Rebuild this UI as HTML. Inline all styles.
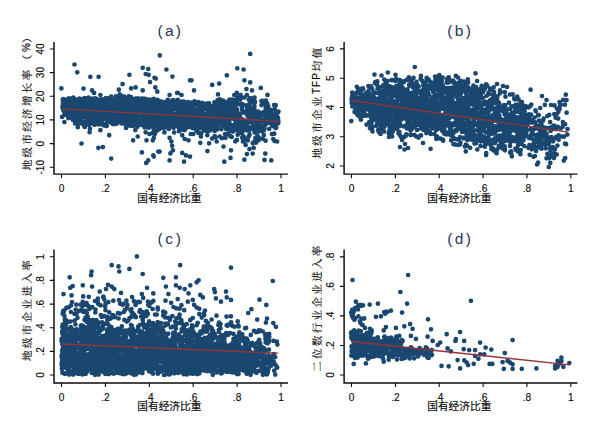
<!DOCTYPE html>
<html lang="zh"><head><meta charset="utf-8"><title>Scatter plots (a)-(d)</title>
<style>html,body{margin:0;padding:0;background:#fff}body{width:600px;height:437px;overflow:hidden}svg{display:block;font-family:"Liberation Sans",sans-serif}</style></head><body>
<svg width="600" height="437" viewBox="0 0 600 437">
<rect width="600" height="437" fill="#fff"/>
<g id="panel-a">
<path d="M74.5 64.5h.01M77.3 72.3h.01M61.4 88.4h.01M90.3 76.8h.01M98.6 76.8h.01M83.5 88.6h.01M92.1 90.4h.01M94.1 92.9h.01M100.4 95h.01M122.6 84.1h.01M118.8 89.7h.01M129.4 74.8h.01M131.1 88.4h.01M135.6 87.4h.01M142.7 90.4h.01M142.7 67.8h.01M148.2 69h.01M145.7 74h.01M148.7 74.8h.01M150 82.1h.01M155.8 78.6h.01M155.3 87.4h.01M157.3 91.7h.01M159.8 55.4h.01M166.4 69.5h.01M172.4 76.6h.01M178 93h.01M181.5 95h.01M169.6 95h.01M190 80.3h.01M154.5 77.8h.01M177.2 92.9h.01M191.5 80.3h.01M194 90.4h.01M212.2 84.9h.01M219.2 83.6h.01M218 94.4h.01M226.8 75.3h.01M237.3 68.3h.01M243.6 69.5h.01M250.2 53.9h.01M244.4 80.3h.01M250.2 82.4h.01M246.4 89.1h.01M252 90.4h.01M260.8 87.9h.01M267.5 94.9h.01M236.8 92.9h.01M240.6 95h.01M234.3 95h.01M246.9 95h.01M62.1 116.9h.01M64.4 122.1h.01M77.8 127.2h.01M81.5 143.5h.01M89.6 132.2h.01M100.4 130.2h.01M98.4 147.8h.01M102.9 147.1h.01M109.2 135.2h.01M111.2 158.6h.01M133.1 140.3h.01M137.7 136.5h.01M141.9 152.4h.01M146.5 140.3h.01M152.8 140.3h.01M149.5 134h.01M148.2 160.4h.01M146.2 162.9h.01M153.3 155.4h.01M158.3 151.6h.01M169.6 137.8h.01M171.4 141.5h.01M172.1 145.8h.01M172.9 150.3h.01M170.4 153.4h.01M169.6 160.4h.01M182.2 135.2h.01M184.7 139h.01M182.2 152.9h.01M186 155.4h.01M184 161.7h.01M188.5 140.3h.01M190 156.6h.01M153.8 137.8h.01M159.6 151.6h.01M153.8 156.6h.01M200.3 142.8h.01M209.1 143.3h.01M207.4 151.1h.01M216.7 141.5h.01M223.5 146.6h.01M231 150.3h.01M230.5 157.9h.01M224.3 161.7h.01M244.4 159.7h.01M246.9 154.1h.01M249.4 149.1h.01M253.7 147.8h.01M252.7 153.6h.01M265.3 153.6h.01M264.5 159.9h.01M271.3 160.4h.01M273.3 139h.01M277.1 141.5h.01M225.5 137.8h.01M236.8 140.3h.01M113.8 112.5h.01M76.6 105.4h.01M277.7 117.3h.01M95 111.3h.01M207.6 121.4h.01M69.1 112.1h.01M216.8 126.5h.01M264.7 104.5h.01M145.8 117.6h.01M97.7 121.4h.01M216.7 120.2h.01M76.1 101.3h.01M151.1 124.4h.01M72 113.8h.01M79 103.5h.01M194.4 126.9h.01M269.7 117.1h.01M201.6 120.4h.01M172 106h.01M187.8 120.2h.01M198 111.9h.01M222 122.9h.01M116.7 104.1h.01M130 105.3h.01M229.4 125.8h.01M110.5 101.5h.01M213.3 114h.01M157.2 110.5h.01M253.7 101.9h.01M103.7 103.8h.01M236.9 109.4h.01M125.5 105.8h.01M153.2 103.8h.01M266.3 115.8h.01M174.6 106.1h.01M189.7 102.5h.01M65.2 102.9h.01M175.9 117.5h.01M117 117.2h.01M105.1 101.8h.01M248.9 108h.01M153.8 98.9h.01M89.8 123.6h.01M81 106.4h.01M202.3 108h.01M89.2 106.9h.01M101 119.9h.01M235.6 110.7h.01M214.4 116.6h.01M178.2 112.3h.01M119.1 118.3h.01M254.2 127.1h.01M84.7 101.5h.01M72 117.6h.01M67.5 113.5h.01M243.2 130.3h.01M228.3 101.5h.01M264.5 120.7h.01M114.7 113.3h.01M147.5 110.1h.01M80.4 108.2h.01M97.1 115.6h.01M167 103.7h.01M224.2 115h.01M102.6 114.8h.01M112.6 103.6h.01M151.7 108h.01M67.4 100.3h.01M132 123.8h.01M191.9 125.4h.01M166.5 110.2h.01M208.4 111.4h.01M118.3 120.4h.01M117.5 107.3h.01M81 106.9h.01M187.9 111.1h.01M167.5 126h.01M180.1 120.2h.01M229.4 123h.01M178.3 110.8h.01M209.1 122.2h.01M101.1 102.8h.01M93 114.1h.01M202.4 107.7h.01M217.2 124.1h.01M119.9 95.2h.01M115.8 104.8h.01M179.5 124.6h.01M120.9 117.4h.01M102.4 119.2h.01M224.3 113.1h.01M176.5 106.7h.01M68.9 115.8h.01M127.1 112.9h.01M62.9 104.9h.01M162 101.8h.01M91.7 99.2h.01M112.9 122.5h.01M263.8 127.4h.01M86 102.7h.01M169.9 111.1h.01M128.3 107.4h.01M191.4 107.5h.01M93.4 103.4h.01M149.7 102.7h.01M168.4 112.2h.01M214.5 115.2h.01M271.1 117.9h.01M197 103.1h.01M121.9 121.1h.01M116.4 113.9h.01M82.7 112.1h.01M69 98.6h.01M193.6 110.1h.01M87.2 115.4h.01M100.2 120h.01M166.3 119.2h.01M216 106.3h.01M67.4 110.3h.01M113.7 119.9h.01M159.7 110.5h.01M78 100.5h.01M86.2 104.2h.01M95.4 98.3h.01M271.5 116.4h.01M193.1 106.8h.01M79.5 99.8h.01M105.5 110.6h.01M241.7 127.8h.01M137.2 101h.01M190.9 117h.01M219.8 116.3h.01M181.9 119.3h.01M108.7 105.7h.01M80.6 121.5h.01M264.4 126.6h.01M174.7 121h.01M155.9 123.6h.01M84.7 99.7h.01M143 113.4h.01M179.6 108.4h.01M254.1 107.3h.01M64.6 107.2h.01M73.3 109.3h.01M232.2 104.2h.01M155.9 116.9h.01M129.8 109h.01M71.9 113h.01M237.2 127.5h.01M172.4 107.6h.01M66.1 112.9h.01M206.3 121.1h.01M174.5 119.6h.01M180.7 113.7h.01M160.2 109.7h.01M69 107.1h.01M215.8 122.6h.01M173.7 117.8h.01M261.5 131.2h.01M121 104.3h.01M123.4 123.4h.01M112.1 111h.01M270.2 118.2h.01M180.5 128.6h.01M258.2 126.4h.01M93.1 103.4h.01M90.8 107.1h.01M79 123.7h.01M115.6 109.4h.01M130.1 117.6h.01M185.4 114h.01M101.2 104.2h.01M106.1 109.6h.01M87.2 118.6h.01M210.6 105.9h.01M157.8 110.5h.01M143.2 117.7h.01M120.7 116.3h.01M201.9 116.6h.01M177.3 115.1h.01M196 126.7h.01M75.2 120.8h.01M108.8 107.9h.01M216.2 117.5h.01M142.9 116.1h.01M109.9 99.8h.01M131.7 112.1h.01M177.9 123.5h.01M157.8 126.8h.01M165.2 105.7h.01M191.9 111.7h.01M242.4 112.6h.01M155.9 112.9h.01M274.1 116.9h.01M276.8 118h.01M255.8 114.6h.01M253.6 100.9h.01M68.1 108.9h.01M112.6 110.8h.01M274.7 109.2h.01M256.9 123.4h.01M228.6 125.4h.01M75.3 102.7h.01M109.1 99.9h.01M148.3 100.2h.01M145.5 100.7h.01M146.5 107.4h.01M136 110.6h.01M115.5 114.2h.01M100.4 112.8h.01M198.2 125.1h.01M168.4 123.8h.01M110.4 105.8h.01M166.9 109.8h.01M188.5 126.7h.01M179 114.5h.01M240.5 128.3h.01M127.9 111.5h.01M221.3 119.1h.01M213.2 106.9h.01M131.5 108h.01M150.7 100.8h.01M106 99.7h.01M262 114.1h.01M122.1 98h.01M165.5 125h.01M185.9 107.6h.01M233.4 100.2h.01M227.2 108.9h.01M142.9 114.3h.01M154.9 116.6h.01M146.3 119.5h.01M226.3 129.2h.01M142.9 122.4h.01M106.2 119.2h.01M222.1 123.1h.01M97.2 122.5h.01M63.9 104.9h.01M277.3 123.7h.01M123.3 96.3h.01M133.3 119.2h.01M236.5 108.9h.01M160.2 107.1h.01M83.1 112.3h.01M125.1 105.7h.01M185.4 119.5h.01M221.4 109.6h.01M197.2 131.2h.01M141.6 114.2h.01M115.9 96.4h.01M63.4 110.3h.01M208.4 112.5h.01M91.1 123.1h.01M228.6 100.6h.01M173.2 101.6h.01M262.6 120.3h.01M163 108.7h.01M118.2 105.1h.01M223.2 106.8h.01M75 113.1h.01M101.7 112.5h.01M253.5 114.7h.01M220.9 123.9h.01M109.9 113.7h.01M219.7 116.4h.01M171.2 110.7h.01M217 129.4h.01M216.5 125.9h.01M88.8 104.1h.01M153.7 129.5h.01M66.4 104.8h.01M123.3 103.2h.01M265.1 112.3h.01M109.1 107.2h.01M126.8 116.4h.01M77.7 102.5h.01M74.6 105.1h.01M105.7 116h.01M256.6 124.4h.01M116.7 96.6h.01M136.7 101.8h.01M179.8 108.7h.01M230.8 115.7h.01M99.2 108.9h.01M245.4 111.5h.01M180.2 113.3h.01M217.1 105.3h.01M100.2 101.1h.01M243.8 137.4h.01M144.3 113.5h.01M79.8 101.3h.01M123.1 101.3h.01M70.5 101.5h.01M223.2 123.1h.01M103.9 103.4h.01M90.1 111.3h.01M91.9 119.7h.01M113.1 109.1h.01M174.9 108.9h.01M190.9 113.7h.01M84.1 107.3h.01M202.9 120.4h.01M169.5 122.3h.01M232.2 99.6h.01M158.2 108h.01M183.8 106.3h.01M238.2 114.1h.01M72 104.4h.01M188.8 116.1h.01M76.3 110.8h.01M63.9 100.1h.01M188 120.6h.01M224.8 104.8h.01M116.3 111.6h.01M263.8 135.2h.01M128.5 118.8h.01M223.3 126.3h.01M245.1 112h.01M139.5 122.6h.01M139.2 124.4h.01M202.6 119.5h.01M98.1 123.7h.01M147.2 105.9h.01M186.6 110.2h.01M205.6 116.1h.01M174.1 126.5h.01M122.6 119.4h.01M108.6 106.6h.01M159.4 129h.01M185.9 118.5h.01M69.2 109.2h.01M196.3 109.6h.01M236.4 111.2h.01M97.3 118.1h.01M239.6 116.7h.01M153.6 109.8h.01M139.2 101h.01M77.8 101.6h.01M248.1 128.5h.01M187.7 113h.01M105.8 102.5h.01M160.9 106.8h.01M152.1 122h.01M127.9 108.9h.01M138.2 103.1h.01M201.7 104.4h.01M196.9 103.9h.01M197.9 124.9h.01M182.9 103.5h.01M162 117.5h.01M255.4 138h.01M89.5 117.8h.01M192.6 113.9h.01M81.6 122.2h.01M239.4 115.2h.01M125.5 120.3h.01M75.8 100.4h.01M68.3 118.1h.01M247 112.4h.01M96.1 117.8h.01M187.6 105.3h.01M270.3 118.5h.01M210 121.1h.01M205.1 126.8h.01M214.4 102.4h.01M273.3 122h.01M157.2 115.5h.01M128 116.4h.01M79.7 105.7h.01M83.3 117h.01M97.5 112h.01M126.9 104.3h.01M78.3 99.6h.01M174.8 126.2h.01M95.7 110h.01M100.8 108.6h.01M138.6 120.5h.01M197.7 121.3h.01M168.5 118.9h.01M70.2 99.6h.01M188 102.2h.01M127.8 101.3h.01M95.4 100.3h.01M248.1 115.6h.01M151.7 114.7h.01M115.1 105.2h.01M240.1 99.7h.01M158.1 107h.01M90.6 111h.01M116.8 100.4h.01M242.2 137.8h.01M136.7 119.5h.01M246.6 130.3h.01M72.7 105h.01M215.2 120.6h.01M85.3 115.3h.01M94.6 105.4h.01M128.2 109h.01M94.5 112.2h.01M129.5 99.1h.01M247.1 139.1h.01M92 120.7h.01M124.1 96.5h.01M81.5 113.3h.01M160.3 121.3h.01M114.3 103.4h.01M117.6 101.7h.01M89.8 109.2h.01M171.6 105.9h.01M224.4 115.5h.01M210.4 117.9h.01M157.5 117.8h.01M227.1 128.6h.01M80.6 109.4h.01M265.7 108.3h.01M143 113.8h.01M205.4 120.8h.01M160.6 115.1h.01M102.1 108.8h.01M123.9 105.2h.01M109.2 98.1h.01M128.9 101.7h.01M137 124.6h.01M200 122.3h.01M248.2 105.1h.01M189.9 126.9h.01M178.1 123.3h.01M162.7 124h.01M157.5 113.4h.01M163.1 122.7h.01M81 111.7h.01M217.6 100.2h.01M129.4 117h.01M192.6 124.8h.01M225.9 106.1h.01M231.2 117.3h.01M89.4 104.5h.01M82 118.3h.01M155.2 100.7h.01M189.9 104.1h.01M174 100.5h.01M79 114.4h.01M62.9 107.1h.01M223.6 108.1h.01M161 117h.01M190.5 124.3h.01M250.4 98h.01M226.1 117.1h.01M87.4 100.7h.01M246.3 105.7h.01M262.9 127.1h.01M143.6 104.6h.01M219 101.5h.01M107.4 113h.01M137.8 112.9h.01M149.8 124.6h.01M169.6 101.8h.01M236.5 127.7h.01M64.4 105.4h.01M201.1 117.7h.01M260.6 118.1h.01M81.9 116.8h.01M215.4 103.9h.01M235 128.2h.01M249.6 108.3h.01M135.1 116.3h.01M164.1 105.7h.01M178.5 118.6h.01M145.8 103.7h.01M140.7 108.5h.01M121.8 123.4h.01M73.5 117.8h.01M90.2 102.4h.01M119.8 101.2h.01M198.3 120.8h.01M123.8 112.9h.01M259.8 117.3h.01M160.7 122.7h.01M271.9 134.1h.01M81.8 112h.01M83.7 115h.01M185.2 110.3h.01M238.6 118.6h.01M128 119.5h.01M63.1 100.5h.01M91 100.3h.01M189.3 126.6h.01M226.9 119.7h.01M222.3 121.6h.01M162.4 115.6h.01M192.8 105.1h.01M159.9 128.3h.01M111.8 102.7h.01M124.7 116.8h.01M263.9 127.1h.01M148.7 121.1h.01M87.1 100.3h.01M103.4 106.6h.01M189.2 105.9h.01M142.9 119.1h.01M99.7 116.1h.01M256.3 127.5h.01M136.1 118.4h.01M128.1 113h.01M228.4 133.9h.01M270.8 111.8h.01M259.2 128.9h.01M229.7 113.9h.01M130.8 118.4h.01M153.3 122.4h.01M100.8 121.5h.01M200 111.4h.01M178.6 102.5h.01M218.5 125.2h.01M257.3 118.5h.01M118.2 102.3h.01M118.4 115h.01M116.4 118.1h.01M95 100.1h.01M233.6 105.2h.01M206.9 113.9h.01M157.3 109.7h.01M123.7 111.2h.01M218.3 122h.01M264.5 128.2h.01M84.1 108.8h.01M67.6 104.5h.01M253.5 101.3h.01M205.1 108.5h.01M261.5 105.1h.01M113.5 106.5h.01M209.7 123.9h.01M185 126.5h.01M151.5 122.6h.01M119.8 94.3h.01M143.3 98.7h.01M104.6 124.7h.01M101.3 112.9h.01M207 130.5h.01M113.1 114.9h.01M118 115.7h.01M114.5 99.6h.01M200.1 108.3h.01M107.7 112.8h.01M142.2 121.1h.01M249.8 127.8h.01M153.5 117.5h.01M240.7 130.9h.01M63.9 99.7h.01M228.7 127.2h.01M141.4 122.9h.01M231 110.3h.01M104.6 104.8h.01M119.3 121.5h.01M180.2 110.8h.01M68.4 101.6h.01M104 117h.01M80.2 99.7h.01M120.7 106.6h.01M216 128.6h.01M171.8 112.5h.01M185.1 114.9h.01M84.7 111.5h.01M142.3 106.6h.01M141.6 98.7h.01M183.6 102.8h.01M64.9 114.7h.01M114.7 99.9h.01M173.4 118.3h.01M112.2 116.3h.01M162.7 112.6h.01M192.6 117.2h.01M74.9 118.9h.01M102.1 123.3h.01M116.8 105.3h.01M66.4 102.5h.01M71.2 113.2h.01M156.4 102.5h.01M260.7 120.7h.01M154.6 112.8h.01M94.8 124.2h.01M79.3 112.6h.01M85.8 122h.01M211.6 113.2h.01M153.3 114.3h.01M115.8 116h.01M108.3 115.7h.01M71.6 104.5h.01M187.9 120.5h.01M78.6 107.6h.01M244.8 128.4h.01M237.3 104.2h.01M78.3 112.2h.01M128.4 108.9h.01M180.3 105.3h.01M82.8 107.6h.01M136.3 107.7h.01M222 110.5h.01M190.4 124.6h.01M125.2 99.2h.01M163.7 103.6h.01M218.1 127.7h.01M79.6 107.9h.01M179.3 105.9h.01M201.2 119.7h.01M134.1 99.5h.01M195 111.7h.01M185.3 115.5h.01M180.7 114.7h.01M229.1 126.8h.01M138.2 105.8h.01M116.2 104.2h.01M130.1 106h.01M261.4 101h.01M211.3 113.3h.01M142.6 111.3h.01M111 100.6h.01M202.1 127.5h.01M88.1 107.9h.01M123.1 99.1h.01M212.9 111.6h.01M194.2 126.6h.01M124.2 96.9h.01M130 116.7h.01M78.3 119h.01M114.2 105.5h.01M133.7 114.4h.01M96.5 106.6h.01M245.4 112.1h.01M125.2 111.7h.01M192.7 107.5h.01M174.7 101.5h.01M134.2 112.7h.01M135.5 104.5h.01M113.9 109.2h.01M112.8 100.8h.01M111.7 122.3h.01M176.9 114.8h.01M79.4 98.5h.01M119 119.3h.01M81.3 105.9h.01M164.5 125.1h.01M247.4 115.7h.01M165.6 111.4h.01M245.1 125.5h.01M64.6 106.7h.01M132.5 120.7h.01M166.9 124.1h.01M156.8 115.1h.01M152.5 103.5h.01M99 104.6h.01M82.3 99.3h.01M111.2 109.9h.01M272.1 125.7h.01M213.2 107h.01M129.7 122.2h.01M255.7 119.9h.01M79.6 102.8h.01M167 104.8h.01M131.9 117.9h.01M248.3 110.3h.01M202 127.2h.01M232.7 117.1h.01M264.7 123.3h.01M234.9 107.6h.01M257.1 114.5h.01M119.7 113.9h.01M111.2 96.7h.01M274.5 105.7h.01M65.3 100.9h.01M197.6 124.7h.01M198.4 102.2h.01M249.3 105.3h.01M154.2 116.3h.01M140 110.3h.01M229 120.6h.01M219.1 108.8h.01M249.6 127.7h.01M140.4 110.9h.01M83 106.9h.01M177.9 118.5h.01M170.8 125.9h.01M170 124.3h.01M68 113.1h.01M71.9 117.4h.01M262.6 100.8h.01M136.8 118.7h.01M144.4 106.9h.01M81.7 111.5h.01M229.3 128h.01M254.5 97.5h.01M225.3 126.3h.01M241.6 118.9h.01M111.9 110.3h.01M231.2 109.4h.01M216.4 115.6h.01M253.2 101.1h.01M178.8 124.9h.01M149.1 109.5h.01M141.9 105.9h.01M155.4 108.2h.01M217.4 118.6h.01M214 119.9h.01M267.9 114.2h.01M152.9 99.3h.01M256.4 120.4h.01M260.2 125.3h.01M62.6 108.1h.01M225 134.1h.01M172 109.2h.01M165.6 124.8h.01M232.3 115.4h.01M177.8 122.5h.01M254 119.8h.01M98.1 107h.01M128.1 122.6h.01M79.8 115.3h.01M216.8 110.6h.01M71.6 111.8h.01M194.5 101.3h.01M256.9 137.1h.01M82.9 111.4h.01M155.9 101.2h.01M82.4 118h.01M199.4 115.4h.01M170.9 109.9h.01M107.4 112.6h.01M110.9 102.5h.01M153.9 122.5h.01M117.5 107.8h.01M121.3 97.6h.01M195.3 126.2h.01M225.4 105.7h.01M117.6 111.2h.01M114.8 118.4h.01M189.3 110.6h.01M143 105.3h.01M158.6 108.8h.01M192.8 116.7h.01M132 117.5h.01M168 99.9h.01M275.7 112.2h.01M115.6 104.9h.01M106.9 99.7h.01M82.4 112h.01M68.2 102.2h.01M250 117.1h.01M94.7 99.1h.01M137.4 126.7h.01M170 104.2h.01M103.8 114.7h.01M239.2 124.2h.01M276.2 127.8h.01M138.1 124.6h.01M244.5 112h.01M153.4 115h.01M85.3 116.6h.01M219.3 109.9h.01M96.3 113.4h.01M220.5 123.9h.01M83.6 99.4h.01M265.9 100.7h.01M73.1 114.9h.01M218.6 101.3h.01M146.1 105.8h.01M267.4 118.3h.01M141.7 121.6h.01M88.2 111h.01M162.7 107.8h.01M237.2 119.1h.01M273.9 126.5h.01M188.5 109.8h.01M157.5 107.4h.01M211.5 114.8h.01M140.6 107.8h.01M111.8 119.5h.01M89.1 98.5h.01M155.2 121.1h.01M193 110.9h.01M153.9 104.5h.01M267.4 119.8h.01M157.8 120.9h.01M194.8 128.4h.01M98.3 103.8h.01M98.3 124.3h.01M65.2 110.5h.01M65.3 99.8h.01M119.2 117.7h.01M178.9 128h.01M252.7 126.8h.01M228.7 126.3h.01M74.9 115.8h.01M104.4 105.6h.01M188.9 110.9h.01M153.7 110.3h.01M169.1 107.5h.01M97.6 104.4h.01M254.9 102.3h.01M214.7 116.7h.01M213.1 110.5h.01M197.9 110.9h.01M240.3 129.4h.01M146.6 101.6h.01M84.4 98h.01M149.6 120h.01M138.7 123.6h.01M140.1 123.6h.01M170.3 110.9h.01M210.4 125.3h.01M123.4 106.5h.01M125.8 113.8h.01M75.3 107.8h.01M121.1 119.7h.01M240.7 131.7h.01M262.5 120.7h.01M163.6 116h.01M74.7 120h.01M254.5 109.6h.01M224.9 106.8h.01M256.8 120.5h.01M147.6 99.9h.01M81.5 120.4h.01M270.5 121.7h.01M83.3 121.9h.01M123.5 111.8h.01M76.4 118.7h.01M227.2 119.8h.01M161 107.3h.01M64 103.3h.01M133 121.6h.01M72.1 111.1h.01M126.6 103.6h.01M75 108.1h.01M112.3 123.3h.01M211.6 129.5h.01M232 101h.01M226.4 125.6h.01M127.8 120.2h.01M182.5 102.3h.01M195.6 116h.01M267.8 118.6h.01M120.1 110.9h.01M234.5 102.5h.01M86.9 108h.01M235.7 114.2h.01M203.8 125.7h.01M126.3 122.2h.01M71.8 102.6h.01M187.6 116.3h.01M122 116.1h.01M111.5 109h.01M256.8 126.5h.01M224.6 110.6h.01M265.1 114.3h.01M73.9 120.2h.01M197.1 126.1h.01M121.3 118.6h.01M81.6 119.2h.01M206 106.7h.01M128.8 96.4h.01M238.4 126.1h.01M168.9 119.6h.01M78.7 113.7h.01M161.5 103.8h.01M107.3 118.6h.01M207.1 114.9h.01M74.6 108h.01M152.9 126.2h.01M123.8 120.5h.01M144.3 104.4h.01M164.2 103.5h.01M163.7 110.4h.01M232.3 102.2h.01M219.6 106.5h.01M133.9 104.4h.01M213.7 124.6h.01M218 122h.01M164.3 104.4h.01M214.8 113.3h.01M163.6 102.3h.01M211.6 118.9h.01M150.7 112.6h.01M187.6 113h.01M88.3 102.1h.01M139.5 106.9h.01M161.5 115.3h.01M199.3 105.7h.01M93.6 122.1h.01M167.8 103.1h.01M123.4 100.4h.01M195.9 120.8h.01M170.9 110.1h.01M187.9 107.3h.01M248.9 99.7h.01M209.6 116h.01M143.9 100.5h.01M100.7 102.7h.01M69.3 109.4h.01M232 125.3h.01M97.9 116.3h.01M111.7 102.8h.01M259.6 122.2h.01M181.5 109.3h.01M230.8 105.2h.01M241.8 128.5h.01M91.9 106.2h.01M178.6 105.2h.01M235.6 114.2h.01M121 116.6h.01M147.9 100.3h.01M113.5 105.6h.01M68.4 98.7h.01M89.3 112.7h.01M278.2 112.2h.01M252.1 123h.01M88.2 98.9h.01M114 124.2h.01M185.3 109.2h.01M263.5 126h.01M233.7 100h.01M186.1 124h.01M116.6 116.5h.01M92.5 98.7h.01M86.5 107.4h.01M74.5 119.7h.01M137.4 106h.01M91.3 102.2h.01M124.6 115.8h.01M161.7 101.6h.01M243.8 125.7h.01M132.8 113.6h.01M182.3 101.7h.01M155.2 123.5h.01M69.4 103.2h.01M235.4 119.2h.01M167 110.6h.01M70.9 98.5h.01M211.2 119.7h.01M166.1 110h.01M117.6 118.7h.01M123.5 110.4h.01M120.2 110h.01M239.9 116.6h.01M76.4 111.7h.01M157.4 130.4h.01M143 105.6h.01M195.1 103.3h.01M146.8 115.4h.01M123 120.6h.01M200.2 128.2h.01M65.9 101.2h.01M67.2 115h.01M155.2 119.8h.01M102.8 104.8h.01M123 122.6h.01M128.9 102.7h.01M164.4 104.5h.01M133.6 120.6h.01M202.3 126.4h.01M63.2 99.2h.01M213.1 114.7h.01M137 110.8h.01M157.8 121.2h.01M166.3 120h.01M167.8 109.7h.01M167.2 119.3h.01M206.5 122.1h.01M258.7 137.5h.01M153.8 113.9h.01M185.8 127.7h.01M108.7 120.5h.01M73.8 101.2h.01M79.6 108.6h.01M167.3 106.3h.01M66.8 101.2h.01M142.2 112h.01M181.4 127.4h.01M159.4 111.6h.01M85.3 101.2h.01M208.7 124.3h.01M194.8 127.7h.01M236.7 115.1h.01M197.2 118.2h.01M97.4 120h.01M182.6 118.2h.01M250.7 114.1h.01M69.2 108.3h.01M116.6 113.6h.01M144.7 110.4h.01M66.2 105.7h.01M178.3 101.2h.01M187.2 123.9h.01M69.1 105.4h.01M98.1 110.5h.01M235.6 113.7h.01M65.8 104.9h.01M102.4 104h.01M173.8 104.4h.01M239 132.3h.01M182.3 125.9h.01M93.5 109.3h.01M163.3 116.4h.01M150 110.9h.01M200.1 108.4h.01M237 128.7h.01M154.5 114.3h.01M63.5 109.1h.01M206.7 128.7h.01M194.6 113.5h.01M134.1 119.4h.01M201 121.6h.01M146.4 108.5h.01M155 131.2h.01M146.5 100.3h.01M136.5 107.4h.01M198 124.5h.01M264.7 102.4h.01M66.4 110.4h.01M258.1 118.1h.01M171.6 103.3h.01M141.9 115.4h.01M254.3 106.3h.01M214.7 131h.01M124.8 101.7h.01M110.1 112.7h.01M76.1 116.5h.01M189.3 107.3h.01M65.4 104.9h.01M230.9 118.5h.01M159.4 121.3h.01M219.9 99.4h.01M145.6 100.1h.01M83.7 123.4h.01M180.5 112.8h.01M253 115.6h.01M153.8 125.5h.01M197.4 123.2h.01M170.2 113h.01M194.7 127.1h.01M198.3 109h.01M106.5 100h.01M154.2 110.6h.01M189.1 112.3h.01M198.6 120.4h.01M111.9 118.6h.01M205.8 119.1h.01M170.1 105.9h.01M251.7 110.7h.01M125.4 108.3h.01M192.2 126.8h.01M184.6 116.9h.01M199.3 103.3h.01M226.5 107.3h.01M182.5 119.9h.01M202.1 106.7h.01M233.4 100.8h.01M131 112.3h.01M184.2 123.6h.01M169.3 116.8h.01M128.4 107.3h.01M121.3 100.6h.01M217.3 128.2h.01M101.5 115.3h.01M89.6 105.1h.01M228.6 107.5h.01M92.1 114.5h.01M89.5 107.1h.01M216.8 127.6h.01M107.4 113.5h.01M152.3 101.8h.01M264.9 121.5h.01M274 123.5h.01M232.9 131.6h.01M120.2 112.9h.01M80.4 99.6h.01M94.1 110.1h.01M76.6 121.8h.01M97.3 101.8h.01M130.3 111h.01M165.6 115.7h.01M151.6 111.2h.01M203.8 128.7h.01M120.2 120.6h.01M78.6 118.7h.01M153.3 104.4h.01M146.2 114.3h.01M81 122.6h.01M191.6 125.6h.01M243.2 123.2h.01M164.2 114.4h.01M62.5 106.7h.01M86.7 117.5h.01M73.3 102.7h.01M105.9 104.7h.01M89.1 119.7h.01M127.4 107.6h.01M164.7 115.1h.01M100.2 100.2h.01M198.2 111.1h.01M201.6 103.3h.01M77.2 111.8h.01M248 114.9h.01M109.1 114.2h.01M271.1 110.6h.01M157.1 104.2h.01M80.5 121.1h.01M259.5 116.4h.01M64.6 113.4h.01M245.4 122.1h.01M189.7 106.5h.01M153.2 107.5h.01M223.1 115.5h.01M129.4 100.5h.01M108.7 100.9h.01M237.7 121.5h.01M253.1 126.7h.01M176.2 123.5h.01M140.9 103.5h.01M107.6 103.2h.01M207 115.5h.01M269.2 109.6h.01M81.2 103.7h.01M142.9 99.2h.01M160.3 116.3h.01M218.4 125.2h.01M187.8 107h.01M137.8 101.1h.01M150.8 99.6h.01M66.5 108.1h.01M73.3 102h.01M118.1 119.1h.01M272.8 117.2h.01M81.1 106h.01M73.3 97.7h.01M137.7 115.7h.01M71.1 116.4h.01M227.8 105.3h.01M114.7 119.7h.01M203.4 118.7h.01M213.4 115.6h.01M182.1 110.9h.01M71.2 105.8h.01M238.8 97.8h.01M235 124.4h.01M119.5 108.4h.01M210.1 118.5h.01M190.9 123.7h.01M156 117.5h.01M208.5 108.9h.01M161.8 125.2h.01M111.2 102.3h.01M69.1 116.6h.01M269.2 129h.01M137.4 108.9h.01M161 103.1h.01M229.3 121.5h.01M92.5 107.5h.01M110.6 103.3h.01M172.7 104.3h.01M155.3 117.9h.01M228.6 121.5h.01M208.1 125.9h.01M154.9 125.5h.01M192.6 106.8h.01M68.3 105.4h.01M76.8 99.8h.01M123.8 118.7h.01M184.5 109.9h.01M128.2 111.7h.01M193.7 112.8h.01M73.2 102.5h.01M206.9 130.9h.01M177.7 113.6h.01M66.5 107.2h.01M174.1 100.6h.01M221 100.8h.01M131.3 103.7h.01M201.4 109h.01M113.3 104.9h.01M143.6 100.5h.01M110.3 112.8h.01M211.3 128.7h.01M243.7 136.5h.01M171.8 125.4h.01M75.8 99.8h.01M184.8 130.1h.01M173.7 114.3h.01M243 126h.01M226.4 116.1h.01M152.2 105.3h.01M142.1 113.2h.01M184.1 109.5h.01M128 99.8h.01M158.5 119.6h.01M149.7 119.3h.01M205.2 122.6h.01M74.9 121h.01M206.5 106.8h.01M154.1 122.8h.01M208.6 130.9h.01M63.6 106.1h.01M125.2 101.3h.01M128.4 102.4h.01M81.7 114.2h.01M214.2 105.3h.01M72.7 102.5h.01M70.3 108.6h.01M121.8 121.4h.01M141.7 99.9h.01M130 103.5h.01M215.5 128.8h.01M83.6 105.5h.01M212.8 120.5h.01M159.4 113.7h.01M77.5 100.2h.01M183 129.7h.01M112.1 111.6h.01M203 116.1h.01M152.2 100.5h.01M67.2 112.2h.01M228.8 100.8h.01M174.3 107.1h.01M171.1 112.7h.01M80.8 109h.01M64.6 106.2h.01M201.2 108.8h.01M214.6 129.2h.01M64.6 112.7h.01M125.5 99.6h.01M92.6 114h.01M126 118.4h.01M167.7 122.8h.01M202.6 112.6h.01M211.3 113.3h.01M73.5 103.1h.01M135.7 101.6h.01M94.6 99.5h.01M157.6 120.4h.01M89.6 115.1h.01M170.4 123.4h.01M275.5 128h.01M278.2 122.9h.01M182.4 113h.01M237.9 127.6h.01M206.2 105.1h.01M108.5 121h.01M209.6 120.4h.01M236.8 102.2h.01M145.4 108.4h.01M91.5 107.4h.01M167.7 117.1h.01M91.1 116.6h.01M237.7 126.9h.01M191.7 121.9h.01M225.4 110.6h.01M146 100h.01M159 101h.01M217.7 126.9h.01M128.8 114.3h.01M149.7 118.7h.01M220.6 106.6h.01M113.5 109.5h.01M148.1 118.8h.01M192.2 110.5h.01M258.4 117.7h.01M145.3 111.5h.01M105.2 104.2h.01M112.6 111.6h.01M255.2 119.8h.01M140.9 105.1h.01M144.5 116.3h.01M137.1 121.9h.01M214.8 124.7h.01M99.5 120.1h.01M267.1 115.6h.01M186.3 115.5h.01M142.4 104.6h.01M257.5 120.7h.01M207.8 127.8h.01M106.5 116.7h.01M142.5 110.7h.01M208.3 106.9h.01M207.3 103.5h.01M227.7 113.4h.01M139.7 113.3h.01M173.7 108.8h.01M125.1 119h.01M96.6 99.1h.01M166.9 123.5h.01M106.6 109.3h.01M247.1 122.8h.01M255.2 125.7h.01M145.1 106.3h.01M70.8 103.7h.01M103.7 125.3h.01M139.9 101h.01M244.7 122.6h.01M118 101.3h.01M247.1 138.6h.01M206.5 108.5h.01M106.2 123.3h.01M120.7 108.1h.01M119.4 116.9h.01M190.2 118.2h.01M137.9 98.3h.01M229.1 108.4h.01M192.6 128.1h.01M237.7 134.7h.01M242.4 124.9h.01M198.1 106.6h.01M207 113.7h.01M183.9 101.5h.01M109.8 106.5h.01M204.4 123h.01M141.1 124.6h.01M146.9 99.3h.01M98.6 110.5h.01M200.3 126.2h.01M183.6 104.8h.01M272 116.6h.01M154.3 124.3h.01M273.7 122.3h.01M101.4 120h.01M209.2 104.5h.01M72.7 119.8h.01M129.6 113.8h.01M202.1 107h.01M75.9 119.6h.01M215.9 123.6h.01M192.9 110.4h.01M150.6 120.8h.01M106.8 125.8h.01M116.9 111h.01M103.2 102.5h.01M269.2 119.8h.01M171.3 121.1h.01M102.4 118.1h.01M275.7 105.2h.01M75.1 105.9h.01M86.7 100.8h.01M151.3 113.6h.01M250.4 102.3h.01M83.4 107.2h.01M201.3 122.9h.01M66.3 105h.01M180.2 124.2h.01M66.6 108.2h.01M185.7 109.7h.01M220 101.1h.01M268.4 117.7h.01M176.8 113.4h.01M181.4 120.8h.01M93.1 110.5h.01M255.5 127.4h.01M116.7 101.9h.01M272.8 123.2h.01M192.9 117.7h.01M199.2 127.4h.01M204.8 123.7h.01M100.5 115.7h.01M225.1 104.5h.01M123.9 118.5h.01M183.8 106.9h.01M229.5 130.1h.01M76.7 106.9h.01M274 120.3h.01M65.9 105.6h.01M133.2 111.6h.01M65.7 101.9h.01M203.8 123.1h.01M144.5 109.5h.01M175 121.1h.01M133.4 111.3h.01M161.3 110.2h.01M144 116.8h.01M174.2 109.2h.01M193.3 113.9h.01M277.8 119.8h.01M257.4 135.8h.01M73.4 114.8h.01M162.8 102.9h.01M135.9 100.3h.01M77.8 117.7h.01M89.1 103.7h.01M154.6 125h.01M244.7 112.7h.01M172.9 116.4h.01M265.1 116.3h.01M90.8 103.6h.01M74.4 107.9h.01M63.4 101.8h.01M94.2 100.4h.01M91.2 113.2h.01M104.1 107.4h.01M156.6 102.2h.01M178.7 109.5h.01M249.8 106.5h.01M172.1 118.7h.01M212.1 119.5h.01M89.2 125.2h.01M81.7 109.1h.01M191.5 107.7h.01M226.1 103.2h.01M128.1 114.4h.01M260.4 119.3h.01M238.4 129.8h.01M258.3 111.6h.01M153.7 107.3h.01M188.7 124.3h.01M118.1 112.6h.01M135.7 108.3h.01M69.1 101.1h.01M229.4 129.8h.01M101.5 121.2h.01M121 104.2h.01M86.1 111.2h.01M113 121.5h.01M223.8 119.8h.01M233 118.6h.01M159.5 105.9h.01M88.5 97.6h.01M239.9 129.6h.01M267.3 109h.01M132.8 120.9h.01M204.2 121.1h.01M106 111.7h.01M146.1 102.8h.01M210.2 112.8h.01M267 116.8h.01M159.6 114.1h.01M197.8 116.2h.01M185.5 117.5h.01M126.3 102.4h.01M155.1 112.6h.01M106 104.8h.01M152.7 100.8h.01M131 97.2h.01M258 120.4h.01M205.5 108.3h.01M76.8 106.3h.01M198.7 113.3h.01M104.5 100.2h.01M170.9 111.8h.01M129.3 124.3h.01M74.8 108.6h.01M108.3 101.6h.01M133.2 107.6h.01M105.9 98.1h.01M85.6 110.5h.01M138.8 101.1h.01M114.5 120h.01M255.6 121.5h.01M152.1 121.4h.01M137.4 109.9h.01M103.6 105.3h.01M237.1 130.5h.01M86.4 103.2h.01M229.9 99.6h.01M220 110.8h.01M97.1 111.8h.01M87.5 116.8h.01M157 109.2h.01M235 117.1h.01M274.1 105h.01M229.4 128.3h.01M138 113.2h.01M263.8 130.5h.01M160.6 111.5h.01M75.9 102.9h.01M200.6 127.3h.01M249.5 134.6h.01M228.3 126.1h.01M228.2 111h.01M270.6 109.9h.01M73.3 117.9h.01M168.5 117.9h.01M163.7 120.8h.01M138.2 115.4h.01M262.6 127.3h.01M134.2 107.1h.01M183.8 106.3h.01M87.9 118.8h.01M151.7 107.2h.01M192.2 107.6h.01M102.8 124.3h.01M95.5 107.5h.01M256.9 121.3h.01M247.6 106.5h.01M122.9 106h.01M241 104.2h.01M184.3 112.7h.01M214 118.6h.01M94.7 115.7h.01M146.9 107.8h.01M128.3 124.6h.01M150.9 126.5h.01M249.9 101.8h.01M84.2 112h.01M173.2 125h.01M189.8 109h.01M241.5 104.8h.01M125.1 97.3h.01M104.7 105.2h.01M84.1 115.2h.01M165.4 108.2h.01M271.5 115.6h.01M259.8 126.3h.01M178.2 103.8h.01M194.1 122.5h.01M163.1 120.6h.01M78.3 105.8h.01M224.3 111.7h.01M202.6 114.9h.01M203.1 122.7h.01M197.9 113.2h.01M156 112.4h.01M121.5 101.6h.01M100.6 100.8h.01M237.6 112.6h.01M215.1 117.5h.01M276.6 117.2h.01M175.1 108.6h.01M81.4 118.2h.01M65.1 105.6h.01M241.9 109.4h.01M173.6 114.9h.01M136.3 100.2h.01M83.1 111.8h.01M100 124.1h.01M170.3 118.7h.01M117.6 113.8h.01M215 105.6h.01M131.2 103.5h.01M203.6 108.6h.01M146.6 100.5h.01M111 122.6h.01M146.6 99.3h.01M160 121.7h.01M111.2 119.2h.01M177.4 119.7h.01M158.2 113h.01M210.1 118.2h.01M230.6 129.8h.01M75.5 106.8h.01M74.5 108.5h.01M253.2 128.8h.01M206.4 125.6h.01M263.3 103.4h.01M201 124.2h.01M159.3 115.7h.01M233.8 110.5h.01M63.9 101.3h.01M218.1 114.6h.01M157.2 106h.01M225.1 104.4h.01M72.3 103.6h.01M110.8 115.9h.01M133.4 110.6h.01M170 121.2h.01M87.9 112.5h.01M191.5 111.4h.01M116.4 123.7h.01M131.4 106.7h.01M208.2 124.7h.01M112.9 115.5h.01M220.6 112.1h.01M268.3 115.9h.01M268.2 106.3h.01M86.1 116.7h.01M201.4 116.1h.01M107.5 114.1h.01M179.2 101.5h.01M216.7 112.9h.01M62.7 99.8h.01M200.2 120.4h.01M135.4 98.6h.01M156.6 113.1h.01M146.4 102.7h.01M111 100h.01M81.3 115.9h.01M66.9 100.8h.01M159.3 110.6h.01M118.9 105.9h.01M124.3 99.4h.01M176.3 102.5h.01M108.3 121h.01M100.8 119.7h.01M189.3 110.8h.01M119.1 104.5h.01M204.4 122.9h.01M121.1 110h.01M112 115h.01M274.9 125.6h.01M266.4 102.8h.01M114.6 110.8h.01M86.3 105.6h.01M146.1 101.5h.01M84.2 99.6h.01M148.2 114.2h.01M101.5 123.3h.01M91.9 100.3h.01M95.2 112.9h.01M242.1 125.9h.01M220.9 122.5h.01M242.9 127.5h.01M187.6 121.6h.01M109.1 120.2h.01M119.5 96.6h.01M219.6 116.1h.01M138.4 118h.01M207 123.2h.01M89.2 111h.01M185.1 124.2h.01M70.9 112.1h.01M197.5 124.4h.01M76 104.8h.01M210.9 108.4h.01M230 135.9h.01M218.8 123.6h.01M204.2 130.5h.01M121.6 113.9h.01M221.5 111.4h.01M150.2 115.1h.01M223.7 121.9h.01M278.5 111.6h.01M110 103h.01M125.9 111.8h.01M64.7 108.6h.01M224 101.9h.01M94.3 124.8h.01M266.5 119.5h.01M248.9 117.4h.01M197 113.5h.01M273.1 117.9h.01M153 112.8h.01M218.6 123.1h.01M221.3 122.1h.01M241 105h.01M149.8 107.1h.01M68.9 101.5h.01M241.3 105.6h.01M168.5 107.9h.01M149.5 108.8h.01M265.9 123.7h.01M154.5 114.3h.01M218.9 109.7h.01M213.5 118.9h.01M110.7 112.2h.01M188 107.8h.01M103.2 111.3h.01M156.6 112h.01M86.8 116h.01M139.4 103.3h.01M271.8 114.3h.01M140.8 103.7h.01M97.3 123.8h.01M64.5 109.9h.01M249.2 130.5h.01M173.5 105.3h.01M221.9 104.8h.01M155.1 101.7h.01M186.2 121.5h.01M91.8 119.6h.01M88 99.8h.01M63.8 106.9h.01M67.1 107.6h.01M197 112.9h.01M76.7 107.6h.01M249.4 114.6h.01M187.1 113.3h.01M115.2 121.7h.01M126.2 122.3h.01M197.2 118h.01M134.3 107.7h.01M110.2 109.5h.01M123.9 101.4h.01M203.8 123.5h.01M94.9 115.7h.01M66.4 112.8h.01M144.6 127.5h.01M86.8 111.1h.01M112.6 123.9h.01M172.7 100h.01M76.1 104h.01M108.4 99.1h.01M92.9 110.4h.01M152.8 103.4h.01M69.2 111.6h.01M87.1 119.8h.01M214.6 128.5h.01M90.7 118h.01M263.5 112.2h.01M261.7 113h.01M112.1 103.6h.01M80.6 107.3h.01M188.7 120.4h.01M233.7 108.9h.01M145.1 98.9h.01M115.5 122.9h.01M138.7 124h.01M247.1 107.6h.01M144.7 124.2h.01M167.9 101.5h.01M62.9 107.8h.01M62.9 102.5h.01M110.9 102.6h.01M237.9 116.2h.01M240 127.1h.01M202.9 118.7h.01M101.9 113.6h.01M224.7 122.9h.01M173.1 102.1h.01M169 104.7h.01M241.5 105.6h.01M191.2 108.5h.01M218.3 108.3h.01M263.1 120.8h.01M107.5 116.9h.01M136.5 119.6h.01M87.5 122.2h.01M209.4 116.8h.01M144.3 103.4h.01M137.9 117.1h.01M120.6 101.9h.01M128.1 118.8h.01M274.5 119.3h.01M213.7 117.2h.01M137 118.8h.01M150.6 105.6h.01M74.9 116h.01M173.6 100.7h.01M220.2 117.7h.01M188.4 104.9h.01M193.9 111.4h.01M189.5 111.9h.01M113.4 123.4h.01M222.8 116.9h.01M97.9 112h.01M236.4 121.1h.01M182.5 120.8h.01M77.7 120h.01M167.8 125.9h.01M188.4 108.6h.01M130.4 114.7h.01M194.9 112.5h.01M132.2 106.3h.01M121.4 98.8h.01M154.3 111.1h.01M137.2 105.2h.01M229.8 115h.01M267.1 110.6h.01M88.1 109h.01M71 112.4h.01M257.9 125h.01M111.7 103h.01M124 97.1h.01M223.2 100.6h.01M242.9 104.6h.01M99.4 110.5h.01M87.5 121.9h.01M249.7 114.7h.01M229.5 129.9h.01M240.8 98.4h.01M118.2 107.6h.01M220 121h.01M236.5 120.2h.01M169.1 103.1h.01M133.5 120.9h.01M225.2 117.4h.01M254.4 106.1h.01M170.9 122.1h.01M201.7 108.1h.01M182 119h.01M179 109.5h.01M82.4 110h.01M229.3 127.7h.01M277.1 116.6h.01M196.4 104.6h.01M245.8 124.4h.01M148.5 113.4h.01M233.5 105.6h.01M74.2 110.6h.01M231.9 110.7h.01M153.4 120.4h.01M160.6 126.5h.01M73.9 114.9h.01M95.6 110h.01M151.1 116.7h.01M124.6 106.4h.01M103.2 103.5h.01M117.9 119.7h.01M133.9 107.4h.01M147.8 123.7h.01M128 120.4h.01M190.8 124.6h.01M230.1 104.8h.01M196.1 121.7h.01M165 111.5h.01M117.9 98.9h.01M112.8 120.7h.01M158 123.3h.01M114.8 122.3h.01M265.7 124.4h.01M140.6 114h.01M239.1 117.4h.01M166.1 114.7h.01M157.5 99.9h.01M221.4 129.2h.01M166 103.8h.01M249.2 112.8h.01M160.9 106.9h.01M160.8 124.7h.01M66.1 101.1h.01M108.8 113.4h.01M173.5 128h.01M74 103.9h.01M163.7 104.1h.01M153.9 101.9h.01M115.1 108.4h.01M126.2 105.6h.01M179.6 122.2h.01M147.7 117.8h.01M102.7 117.9h.01M105.3 118.2h.01M168.5 105.9h.01M172.4 112.4h.01M112.6 112.2h.01M63.6 106.7h.01M230.9 110h.01M87.1 98.3h.01M132.2 118.5h.01M234.9 115.4h.01M223.2 104.8h.01M213.9 118.9h.01M102.3 118.9h.01M237.4 100.1h.01M88.6 120.7h.01M141.7 125h.01M248.2 115h.01M194.1 127h.01M248.8 113.3h.01M89.6 98.8h.01M125.2 102.2h.01M140.9 108.1h.01M126.6 108.7h.01M232.1 115.6h.01M231.1 103.1h.01M62.9 106.6h.01M95.6 99.5h.01M212.3 124.4h.01M119.8 113.9h.01M261.7 115.1h.01M162.1 105.9h.01M65.6 103.1h.01M177.9 99.9h.01M228.1 106.9h.01M196.5 130.8h.01M155.4 104.4h.01M181.7 119.1h.01M257.7 125.8h.01M91.4 99.2h.01M106.4 111.9h.01M205.1 109.2h.01M74.8 114.7h.01M63 107.6h.01M68.1 103.7h.01M234.2 128.7h.01M204.8 116.9h.01M136.7 114.8h.01M166.9 101h.01M269.6 123h.01M159.7 108.5h.01M120.7 97.8h.01M73.2 111.2h.01M185.3 123.3h.01M165.5 112.2h.01M202.3 104.2h.01M199 112.7h.01M152.7 104.4h.01M278.1 118.8h.01M242 107.5h.01M134.6 116.1h.01M169.8 103.5h.01M265.8 115.3h.01M101.9 124.1h.01M199.2 121.8h.01M116.8 108.6h.01M130.8 115.1h.01M167.7 119.2h.01M233.3 113.4h.01M191.8 121.5h.01M246.8 105.5h.01M127.9 122.4h.01M165.9 104.6h.01M233.1 110.3h.01M105.6 109.9h.01M180.5 107.6h.01M198.4 110.8h.01M248.7 122.3h.01M263 121.1h.01M265.1 124.7h.01M107.5 110.4h.01M75.1 113h.01M274.1 121.8h.01M156.3 116.2h.01M255.4 128.8h.01M84.2 116.5h.01M184.5 125.4h.01M158.5 116.4h.01M140.8 122.5h.01M239.9 122.7h.01M167.9 106.2h.01M195.4 103.7h.01M104 116.2h.01M134.4 119.4h.01M94.9 104.9h.01M77.8 111.4h.01M85.3 107.9h.01M262.5 120.2h.01M208.4 108h.01M194.8 125.3h.01M246.9 110.6h.01M208 116h.01M108.3 109.2h.01M243.5 123.8h.01M278.4 121.5h.01M168 111h.01M267.3 103.6h.01M209 125h.01M270.3 121h.01M66.9 101.5h.01M220.1 124h.01M118.4 122.4h.01M244.5 97.5h.01M258.3 131.4h.01M192.9 125.5h.01M274.2 133.7h.01M144.7 115.4h.01M68.9 113.1h.01M131.9 99.9h.01M164.8 121.6h.01M277.6 120.4h.01M65 111.9h.01M63.4 110.5h.01M120.7 96h.01M167.2 101.5h.01M90.7 107.1h.01M101.3 120.5h.01M250.1 120.9h.01M138.4 123.4h.01M198.6 107.2h.01M155.3 119.5h.01M68 106.8h.01M117 120.5h.01M74.3 98.9h.01M250.6 116.9h.01M125.8 117.6h.01M220.2 110.6h.01M249 107.8h.01M90.9 99.3h.01M66.7 110.3h.01M161.1 120.8h.01M100.9 100.1h.01M187.2 126.9h.01M242 133.6h.01M176.6 120.8h.01M223.6 118.9h.01M143.2 120.3h.01M93.7 122.8h.01M224 111.5h.01M77.6 105.2h.01M275.4 106.1h.01M112.3 108.9h.01M92.2 101.5h.01M100.4 99.5h.01M198.7 121.3h.01M177 122.8h.01M262.5 125.8h.01M82.2 109.9h.01M194.3 117.2h.01M148.4 127.7h.01M64.6 108h.01M131.1 99.7h.01M243.1 128.1h.01M80.6 103.1h.01M151.1 107.6h.01M254.5 112.6h.01M213 106.4h.01M157.5 113.7h.01M252.3 110.1h.01M92.4 109.4h.01M158 118.8h.01M173.2 100h.01M120.4 109.9h.01M99.9 102.8h.01M125.5 111.8h.01M208.9 115.1h.01M256.4 117.7h.01M255.3 128.2h.01M209 103.3h.01M191.2 102.6h.01M189.1 109h.01M173.8 118.8h.01M195.5 111.3h.01M201.2 120.4h.01M208.2 112.4h.01M128.1 99.1h.01M243.2 104.5h.01M219.7 105.1h.01M142.8 103.6h.01M154.5 102.5h.01M189.1 120.4h.01M84.3 106.5h.01M247.3 126.3h.01M213.4 117.8h.01M207.6 116.8h.01M89.5 113h.01M97 110.5h.01M105.6 111.1h.01M113.2 122.6h.01M200.6 115.2h.01M235.6 122.2h.01M260 128.1h.01M252.4 102.5h.01M90.5 118.1h.01M143.3 104.2h.01M92.1 121.5h.01M133.1 108.2h.01M97.1 117.1h.01M217.9 113.1h.01M95.8 104.9h.01M71.6 103.3h.01M182.6 106.1h.01M202 116.7h.01M105 104.1h.01M180.3 118.2h.01M87.1 123.7h.01M135.5 107.2h.01M93.7 99.2h.01M102.5 119.1h.01M167 121h.01M84 100.9h.01M254.5 132.3h.01M213.7 109.6h.01M153.9 101.1h.01M102.1 106.5h.01M102.4 108h.01M202.2 102.8h.01M220.4 118.4h.01M213.5 108.7h.01M114.4 104.5h.01M131.2 115.3h.01M172.7 108.7h.01M189.9 113.3h.01M176.8 101.1h.01M257.6 113.3h.01M206.8 108.5h.01M241.8 105.7h.01M107.4 114h.01M260.7 130h.01M198.2 106.3h.01M249.3 119.4h.01M137.2 116.7h.01M160.8 107.4h.01M167 123h.01M168.3 125.7h.01M92.1 106.3h.01M206.4 103.6h.01M98 116.6h.01M202.3 107.1h.01M237.8 97.5h.01M140.5 108.7h.01M181.1 124h.01M221.6 101.2h.01M267.8 122h.01M235.6 128.4h.01M185.1 111.5h.01M154.5 104.8h.01M186.1 128.1h.01M76.3 114.3h.01M229.9 130.8h.01M82.9 100.3h.01M119.2 101.1h.01M83.6 101.2h.01M94 113.4h.01M152.1 111h.01M93.7 103.7h.01M104.5 99.4h.01M275.3 114.5h.01M106.2 104.4h.01M216.7 118.4h.01M143.4 115.8h.01M121.2 110.3h.01M234.2 107.5h.01M116.9 111.7h.01M88.8 113.3h.01M104.7 118.7h.01M226.1 112.8h.01M79.3 101.1h.01M192.1 122.5h.01M211.2 119.4h.01M65.8 113.3h.01M254.9 101.7h.01M131.4 115h.01M94.6 121.5h.01M146.7 118.5h.01M107.8 109.6h.01M119.5 116.5h.01M215.8 126.9h.01M118 122h.01M129.2 122.3h.01M236.9 109.6h.01M184.4 122.7h.01M239.8 124h.01M237.2 97.6h.01M262.5 126h.01M271.4 114.6h.01M209.7 130.4h.01M146.7 118.3h.01M121.4 100.6h.01M181.7 118.1h.01M64.5 111.4h.01M210.2 114.6h.01M208.3 128.7h.01M269.3 122.8h.01M159.5 117.8h.01M224 105.5h.01M173.4 118.2h.01M248.9 136.2h.01M157.6 125.9h.01M93 116.3h.01M261 120.5h.01M85.3 102.5h.01M164.5 103.3h.01M108.2 121.2h.01M106.4 123.4h.01M180.3 118.4h.01M195.4 103h.01M152.2 108.1h.01M70.8 104.1h.01M165.5 120.6h.01M176.2 124.2h.01M138 103h.01M64.3 105.3h.01M135.2 106.6h.01M229.4 118.2h.01M169.3 110.9h.01M152 116.5h.01M109.1 104.2h.01M192.3 120.6h.01M106 125.9h.01M169.9 119.4h.01M138.6 105.8h.01M130.7 112h.01M194.7 118.8h.01M233.5 115.3h.01M78.7 119.3h.01M103.1 103.8h.01M125.5 103.8h.01M239.7 132.3h.01M104.8 111.9h.01M76.1 119.6h.01M102.2 106h.01M227.4 124.9h.01M252.3 118.7h.01M250.9 119.8h.01M183.9 108h.01M101.7 119.4h.01M272.9 120.8h.01M89.5 121.1h.01M133.6 104.5h.01M147.3 119.4h.01M163.8 106h.01M249.6 128.5h.01M74.8 106.6h.01M102.2 99.4h.01M129.5 99.7h.01M92.4 102.2h.01M136.8 110.4h.01M275.3 122.1h.01M214.1 122.7h.01M216.5 127h.01M113.2 111.6h.01M194 109.3h.01M68.3 103.3h.01M156.2 109.7h.01M124.8 110.2h.01M238.4 127.9h.01M130.4 115.9h.01M102.3 110.7h.01M256.8 127h.01M123.9 110.5h.01M224 111.8h.01M99.5 119.3h.01M69.1 106.1h.01M72.1 101.5h.01M254.8 112.8h.01M64.9 109.2h.01M155 111.1h.01M131.4 121h.01M91.9 108.5h.01M104.7 112.5h.01M150.7 121.8h.01M97.8 122.3h.01M178.7 114.2h.01M158.8 106h.01M117.7 118.9h.01M92.8 121.1h.01M166 118.8h.01M165.5 123.6h.01M136.1 105.7h.01M144.1 121.1h.01M228.2 119.1h.01M127.6 113.3h.01M164.7 116h.01M195.2 127.6h.01M255.4 130h.01M233 112.5h.01M179 122.1h.01M254.5 114.8h.01M88.1 119.5h.01M145.5 120.2h.01M244.6 120.3h.01M217.3 121.7h.01M148.2 118.2h.01M214.9 125.9h.01M70.9 117.2h.01M236.9 103.6h.01M205.9 125.7h.01M186.8 105.4h.01M212 114.5h.01M129.2 107.6h.01M192.6 121.4h.01M159.3 126.1h.01M77.3 101.6h.01M143.4 114.1h.01M72.9 98.7h.01M197.8 117.6h.01M83.7 125.4h.01M165.5 127.4h.01M145.6 132.3h.01M179 131.2h.01M243.7 141.3h.01M236.3 140.5h.01M265.6 140.7h.01M243 141.4h.01M84.8 126.9h.01M190.7 134h.01M163.3 128h.01M164.4 132.4h.01M130.2 125.7h.01M126.6 126h.01M126 127.9h.01M254.5 141.3h.01M135.3 130.1h.01M214.7 136.2h.01M235.3 141.3h.01M132.1 125.9h.01M155 133.8h.01M231.7 136.9h.01M236.9 139.8h.01M274.5 140.9h.01M245.6 144.9h.01M252.8 143.2h.01M128 124.9h.01M262.7 138.7h.01M221.8 138.2h.01M201.2 133.4h.01M174.2 132.5h.01M90 128.8h.01M200.9 136.6h.01M215.5 137.3h.01M154 133.4h.01M212.1 138.5h.01M198.4 132.9h.01M83.8 125.4h.01M247.8 140.4h.01M193.2 134h.01M258.7 140.1h.01M133.7 125.6h.01M256.1 142.6h.01M152.5 133.2h.01M219.8 136.5h.01M168.8 129h.01M207.3 135.2h.01M75.1 123.5h.01" fill="none" stroke="#1a476f" stroke-width="4.7" stroke-linecap="round"/>
<path d="M61.5 108.8L278.2 121.3" stroke="#90353b" stroke-width="1.35" fill="none"/>
<path d="M54 42V174.1H288" fill="none" stroke="#0c0c0c" stroke-width="1.45"/>
<path d="M61.5 174.1v4.2M105.4 174.1v4.2M149.3 174.1v4.2M193.2 174.1v4.2M237.1 174.1v4.2M281 174.1v4.2M54 167.2h-4.2M54 143.6h-4.2M54 119.9h-4.2M54 96.3h-4.2M54 72.6h-4.2M54 49h-4.2" fill="none" stroke="#0c0c0c" stroke-width="1.1"/>
<g font-size="10.2" fill="#080808" stroke="#080808" stroke-width="0.12" text-anchor="middle">
<text x="61.5" y="191.8">0</text>
<text x="105.4" y="191.8">.2</text>
<text x="149.3" y="191.8">.4</text>
<text x="193.2" y="191.8">.6</text>
<text x="237.1" y="191.8">.8</text>
<text x="281" y="191.8">1</text>
<text transform="translate(44 167.2) rotate(-90)">-10</text>
<text transform="translate(44 143.6) rotate(-90)">0</text>
<text transform="translate(44 119.9) rotate(-90)">10</text>
<text transform="translate(44 96.3) rotate(-90)">20</text>
<text transform="translate(44 72.6) rotate(-90)">30</text>
<text transform="translate(44 49) rotate(-90)">40</text>
</g>
<text x="137.3" y="201.5" font-size="10.7" fill="#080808" stroke="#080808" stroke-width="0.15" style="font-family:'Liberation Sans','Noto Sans CJK SC',sans-serif">国有经济比重</text>
<g font-size="15.5" fill="#26355c" text-anchor="middle"><text x="160.1" y="35.9">(</text><text x="169.2" y="36.4">a</text><text x="178.4" y="35.9">)</text></g>
</g>
<g id="panel-b">
<path d="M351.7 100.5h.01M351.7 102.8h.01M351.9 98h.01M351.6 99h.01M352.2 95.9h.01M352.5 96.8h.01M352.2 97.2h.01M352.3 106.4h.01M352.2 92.5h.01M353.1 95.8h.01M353 96.1h.01M353.9 99.5h.01M354 102.8h.01M353.9 94.3h.01M354.7 112.2h.01M354.7 111.1h.01M354.2 95.9h.01M354.1 104.7h.01M354.6 101.6h.01M355.7 96.3h.01M355.8 105.4h.01M355.5 96.2h.01M355.7 107.9h.01M355.1 101.4h.01M355.7 99.5h.01M356 102.2h.01M356.6 92.8h.01M356 105.2h.01M357 101.8h.01M356.2 101h.01M356.9 86.8h.01M357.8 111.9h.01M357.8 109.8h.01M357.9 115h.01M357.6 105.6h.01M357.9 90.5h.01M357.5 114.9h.01M358.1 109.5h.01M359 112.4h.01M358.2 109.3h.01M358.4 102.4h.01M358.8 113.4h.01M358.5 98.8h.01M358.9 102.9h.01M359.5 104.6h.01M359.7 97.8h.01M359.9 90.7h.01M359.1 89.9h.01M359.4 112.6h.01M359.3 116.5h.01M359.5 101.9h.01M359.5 103.1h.01M360.4 108.2h.01M361 110h.01M361 94.5h.01M360.3 94.3h.01M360.1 100.1h.01M360.9 119.7h.01M360.8 97.5h.01M360.8 88.9h.01M361.7 100.6h.01M361.8 114.3h.01M361.7 96.2h.01M361.6 115.5h.01M361.3 103.8h.01M361.7 107.1h.01M361.8 94.5h.01M361.7 114.7h.01M362.4 114.9h.01M362.7 115.4h.01M362.5 99.8h.01M362.2 116h.01M362.5 100h.01M362.2 89.7h.01M362.4 95.7h.01M362.6 105.6h.01M363 88.4h.01M363.2 89h.01M363.2 109.3h.01M363.7 101.5h.01M363.5 101.3h.01M363.2 109.1h.01M363.3 105.6h.01M363.2 104.7h.01M364.4 106.9h.01M364.6 97.1h.01M364.9 99.6h.01M364 96.5h.01M364.4 109.1h.01M364.1 109.4h.01M364 94.6h.01M364.6 115.7h.01M364.3 112h.01M366 109.5h.01M365.8 93.4h.01M365.6 100h.01M365.6 109.1h.01M365.6 96.3h.01M365.4 104.8h.01M365.1 104.1h.01M365.6 99.6h.01M365.6 100.2h.01M366.4 96.9h.01M366.3 108.4h.01M367 102.7h.01M366.5 124.6h.01M367 94.9h.01M366.5 105.3h.01M366.1 95.4h.01M366.3 95.8h.01M366.8 105.7h.01M367.3 103.3h.01M367.9 107h.01M367.3 96h.01M367.2 115.4h.01M367.6 104.4h.01M367.5 94.8h.01M367.7 91.8h.01M367.1 105.8h.01M367.5 94.6h.01M368.3 91.4h.01M368.4 102.8h.01M368.7 102.5h.01M368.3 103.6h.01M368.5 92.1h.01M368 107.9h.01M368.6 92.1h.01M368.7 95.6h.01M368.9 94.6h.01M368.4 86h.01M369.3 122.1h.01M369.8 116h.01M369.4 100.6h.01M369.9 128.1h.01M369.5 94h.01M369.2 106h.01M369.6 107.7h.01M369.2 101.2h.01M369.8 110.9h.01M369 87h.01M371 127.2h.01M370 105.9h.01M370.8 109.9h.01M371 125.3h.01M370.7 113.6h.01M370.9 114.6h.01M370.1 95.4h.01M370.2 97.2h.01M370.6 112.4h.01M370.4 107.9h.01M371.1 86.3h.01M371.9 96.1h.01M371.1 95.6h.01M371.6 111.4h.01M371.5 118.7h.01M371.1 101.4h.01M371.7 117.7h.01M371.5 122.2h.01M371.9 88.4h.01M371.3 100h.01M371.6 105.8h.01M372.1 129.9h.01M372.7 116.2h.01M372.7 126.6h.01M372.1 103.7h.01M372.1 101.4h.01M372.6 108.8h.01M372.5 131.4h.01M372 106h.01M372.2 102.1h.01M373 102.5h.01M372.1 97.7h.01M373.7 110.3h.01M373.6 100h.01M373.4 108.2h.01M373.6 119.7h.01M373.3 101.2h.01M373.8 112h.01M373.6 112.1h.01M373.9 92.8h.01M373.5 91.5h.01M373.7 96.8h.01M374.1 116.7h.01M374 109.3h.01M374.9 83h.01M374.9 110.2h.01M374.6 92.8h.01M374.1 114.2h.01M374.2 114.8h.01M374.4 119h.01M374.9 113.6h.01M374.3 116.3h.01M374.2 104.8h.01M375 117.9h.01M375.9 82.2h.01M375.3 113.8h.01M375.7 106.4h.01M375.2 98.9h.01M375 108.3h.01M375.4 113.4h.01M376 99.2h.01M375.5 117.1h.01M375.3 105h.01M375.2 82.2h.01M376.6 84.4h.01M376.8 124.8h.01M376.4 125.8h.01M377 113h.01M376.5 104h.01M376.1 113.1h.01M376.9 83.7h.01M376.1 109.8h.01M376.4 118.4h.01M376.4 112h.01M376.3 111.7h.01M377.2 109.4h.01M377.5 93h.01M377.1 118.8h.01M377.3 122.7h.01M377.9 119.9h.01M377.6 114.6h.01M377 99.9h.01M377.5 88.6h.01M377.4 109.8h.01M377.6 103h.01M377.3 81.4h.01M378.1 105.8h.01M378.8 114.3h.01M378.8 105.2h.01M378.1 115.6h.01M378.2 122.1h.01M378.6 116.4h.01M378.2 130.1h.01M378 117.1h.01M378.2 104.9h.01M378.1 122.5h.01M378.4 98.3h.01M378.6 131.6h.01M379.7 109.4h.01M379.4 88.3h.01M379.8 87h.01M379.7 105.1h.01M379.4 132.4h.01M379.2 106.4h.01M379.3 131.1h.01M379.1 109.9h.01M379 88.8h.01M379.1 118h.01M379.9 118.7h.01M380.6 110.1h.01M380.4 124.3h.01M380.3 128.5h.01M380.8 109.8h.01M380.7 123.8h.01M380.2 118.8h.01M380.7 120.2h.01M380.1 94.3h.01M380.5 134h.01M380.8 125.6h.01M381 100.8h.01M381.1 114.5h.01M381.1 93.4h.01M382 128h.01M381.5 112.3h.01M381.9 99.8h.01M381.3 114.9h.01M381.2 94.8h.01M381.8 102.6h.01M381.2 101.2h.01M382 117.5h.01M381.8 120.8h.01M381.4 90.8h.01M382.8 103.9h.01M382.2 108.4h.01M382.1 101.4h.01M382.2 97.6h.01M382.9 129.2h.01M382.6 112.9h.01M382 93.8h.01M382.5 99.7h.01M382.4 103h.01M382.3 121.4h.01M382.4 110.4h.01M382.5 103.6h.01M383.8 93h.01M383.9 100h.01M383.5 86.3h.01M383.8 94.5h.01M383.7 124.1h.01M383.5 106.8h.01M383.1 114.3h.01M383.4 85h.01M383.7 95.4h.01M383.3 119.4h.01M383.7 102.7h.01M384.8 89.1h.01M384.9 121.7h.01M384.6 86.2h.01M384.2 79.6h.01M384.5 104.6h.01M384.4 123.7h.01M384.2 108.4h.01M384.7 87.8h.01M384.4 126.7h.01M384.6 123.3h.01M384.7 85.1h.01M384.2 131.5h.01M385.3 83.8h.01M385.2 84.7h.01M385.6 109.3h.01M385.1 96.9h.01M385.6 123.8h.01M385.7 81.6h.01M385.5 119.2h.01M385.3 100.5h.01M385.6 118h.01M385 106h.01M385.1 88.2h.01M385.2 99.9h.01M386.6 93.3h.01M386.7 88.7h.01M386.1 111h.01M386.3 121.6h.01M386.9 89.6h.01M386.2 98.1h.01M386.5 82.4h.01M386.2 115.7h.01M386.6 113.1h.01M386.1 109.4h.01M386.8 99.8h.01M387 115.3h.01M387.1 106.4h.01M387.2 95.6h.01M387.7 120.6h.01M387.7 122.1h.01M387.5 116.2h.01M387.4 124h.01M387.4 122.6h.01M387.7 109.2h.01M387.1 109.6h.01M387.3 81.1h.01M387.4 105.2h.01M387.4 81h.01M387.7 113.1h.01M388.3 87.6h.01M388.8 102.9h.01M388.4 107.4h.01M388.2 104.9h.01M388.3 102.6h.01M388.1 114.6h.01M388.4 114.5h.01M388.4 105.2h.01M388.8 133.3h.01M388.3 108.9h.01M388.5 93.7h.01M388.1 121.1h.01M390 90.9h.01M389.1 114.5h.01M389.3 131.7h.01M389.5 101.1h.01M389.1 86.1h.01M389.4 125.5h.01M389.6 127h.01M389.6 94.6h.01M389 137h.01M389.8 112.1h.01M389.9 124.8h.01M389.4 130.6h.01M390 119.3h.01M390.3 107.6h.01M390.5 102.5h.01M390.1 131.4h.01M390.2 101.8h.01M390.4 109.6h.01M390.9 116h.01M390 100.9h.01M390.8 129.2h.01M390.1 102.6h.01M390.2 134.1h.01M390.4 89.6h.01M390.3 108.4h.01M391.2 92.2h.01M391.5 132.9h.01M391.1 104h.01M391.1 98.2h.01M391.4 95.6h.01M391.5 80.1h.01M391.3 87.2h.01M391.5 106.9h.01M391.5 99.3h.01M391.7 135.4h.01M391.6 109.3h.01M391.8 125.9h.01M392.4 114.5h.01M392.3 121.4h.01M392.5 109.7h.01M392.7 121.8h.01M392.5 100.7h.01M392.7 92.6h.01M392.3 126.7h.01M392.1 136.4h.01M392.5 80.1h.01M392.8 131.6h.01M392.1 96.6h.01M392.6 123.1h.01M392.2 102.4h.01M393.3 109.4h.01M393.1 120.2h.01M393.3 105.2h.01M393.8 107.1h.01M393.8 95.1h.01M393.6 90.3h.01M393.2 122.5h.01M393.3 120.3h.01M393.9 95.6h.01M393.2 111.3h.01M393.7 111.8h.01M393.6 112.6h.01M393.8 108.1h.01M394.9 128.8h.01M394.1 113.1h.01M394.7 90.6h.01M394.2 93.3h.01M394.9 112.3h.01M394.7 111.5h.01M394.1 124.2h.01M394.6 115.1h.01M394.9 106.6h.01M394.6 101.7h.01M394.8 127.6h.01M394.3 126.5h.01M395 108.7h.01M395.9 88.1h.01M395.5 114h.01M395.3 117.1h.01M395.9 109.6h.01M395.4 114.4h.01M395.1 87.4h.01M395.7 118h.01M395.2 119.9h.01M395.7 122.2h.01M395.4 81.1h.01M395.5 91.7h.01M395.5 124.5h.01M396.4 95.5h.01M396.8 114.6h.01M396.1 96h.01M396.3 86.2h.01M396.3 78.9h.01M396.3 79.5h.01M396.8 103.1h.01M397 105h.01M396.4 90.5h.01M396.3 87.9h.01M396.4 104.1h.01M396.1 114.1h.01M397.4 111.6h.01M397.3 103.3h.01M397.2 97.5h.01M397.5 121h.01M397.2 117.9h.01M397 95.2h.01M397.1 102.2h.01M397.5 91.5h.01M397.1 108.5h.01M397.5 99.6h.01M397.1 127.9h.01M397.4 105.9h.01M398.6 124.5h.01M398.2 104.6h.01M398.5 121.4h.01M398.6 99.6h.01M398.9 93.9h.01M398.5 133.3h.01M398.9 90.3h.01M398.9 111.3h.01M398.6 94.2h.01M398.7 107.5h.01M398.3 112.6h.01M398.1 114.9h.01M398.7 131.5h.01M400 114.1h.01M399.1 114.8h.01M399.4 83.9h.01M399.2 85.5h.01M399.7 124.4h.01M399.3 120.7h.01M399.4 132.1h.01M399.1 115.9h.01M399.8 96.2h.01M399.6 126.2h.01M399.5 134.4h.01M399.9 80.1h.01M399.4 115.9h.01M400.8 106.1h.01M400.7 136.6h.01M400.7 107.7h.01M400.4 120.2h.01M400.3 86.5h.01M400.7 106.6h.01M400.8 117.7h.01M400 123.5h.01M400.8 111.6h.01M400 99.2h.01M400.2 108.5h.01M401 114.6h.01M401.7 97.7h.01M401.4 100.1h.01M401.3 98h.01M401 95.4h.01M401.7 89.4h.01M401.5 94.5h.01M401.7 112.9h.01M401.4 84.7h.01M401.4 91.6h.01M401.7 119.1h.01M401.8 112.1h.01M401.1 110h.01M402.1 108.3h.01M402.5 118.4h.01M402.5 111.8h.01M402.6 118.7h.01M402.7 87.8h.01M402.9 104.8h.01M402.9 105.1h.01M403 109.1h.01M402.3 113h.01M402.1 102.5h.01M402.2 112.5h.01M402 94.8h.01M403.4 113.2h.01M403.2 97.2h.01M403.2 92.5h.01M403.4 117.5h.01M403 114.9h.01M403.9 95.8h.01M403.9 81.9h.01M403.9 111.8h.01M403.7 90.8h.01M403.7 126.4h.01M403.4 89.8h.01M403.2 101.4h.01M404.8 118.2h.01M404.2 81.1h.01M404.6 100.6h.01M404.4 115.5h.01M404 117.8h.01M404.1 100.3h.01M404 110.7h.01M404.5 136.8h.01M404.1 99h.01M404.2 112.9h.01M404.6 107.4h.01M404.8 111.3h.01M405.6 97.3h.01M405.4 104.8h.01M405.4 112.3h.01M405.3 96.4h.01M405.8 125.5h.01M405.2 115.9h.01M405.7 101h.01M405.7 103h.01M405.4 93.2h.01M405.8 135.7h.01M405.1 100.3h.01M405.6 106.3h.01M406.6 126.2h.01M406.5 112h.01M406.4 114.8h.01M406.4 117.9h.01M406.1 101.4h.01M406.3 96.1h.01M406.1 94.6h.01M406.3 134.3h.01M406.9 119.9h.01M406.2 115h.01M406.7 99.7h.01M406.9 108.8h.01M407.7 80.1h.01M407.3 116.8h.01M407.3 115.5h.01M407.3 89.4h.01M407.5 119.1h.01M407.5 89.3h.01M407.7 94.3h.01M407.4 95.8h.01M407.1 79.5h.01M407.6 119.7h.01M407.6 115.1h.01M407.7 123h.01M407 128.5h.01M408.1 124.5h.01M408.1 97.4h.01M408.7 97.2h.01M408 97.4h.01M408.3 109.6h.01M408.7 104.9h.01M408.6 112.9h.01M408.5 98.4h.01M408.3 101.2h.01M408.9 101.2h.01M408.4 115.3h.01M408.9 77.3h.01M409.1 106.4h.01M409.5 80.1h.01M409.4 122.2h.01M409.3 99.8h.01M409.6 85.7h.01M409.5 115.6h.01M409.3 113.6h.01M409.2 84.9h.01M409.5 106.9h.01M409.9 109.4h.01M409.3 92.9h.01M409.6 127.1h.01M410.5 135.1h.01M410 114.9h.01M410.8 134.8h.01M410 114.6h.01M411 114.3h.01M410.3 106.9h.01M410.1 112.9h.01M411 104.5h.01M410.8 106.5h.01M410.3 116.9h.01M410.1 118.8h.01M410.5 130.5h.01M410 95.9h.01M411.7 124.8h.01M411.4 95.5h.01M411.6 105.8h.01M411.3 111.2h.01M411.5 111.7h.01M411.2 111.4h.01M411.4 125.3h.01M411.8 101.6h.01M411.7 94.4h.01M411.4 98.6h.01M411.3 84.9h.01M411.8 82.2h.01M412.1 128.8h.01M412.2 107.9h.01M412 102.8h.01M412.2 118.1h.01M412.7 94.9h.01M412.7 99.8h.01M412.2 114.1h.01M412.6 102.7h.01M412.7 104.5h.01M412.9 87.4h.01M412.6 104.2h.01M412.2 100.3h.01M412.5 99.5h.01M413.3 104.5h.01M413.5 77.9h.01M413.6 102.2h.01M413.7 101.4h.01M413.5 119.1h.01M413.6 101.1h.01M413.4 99.5h.01M413.6 109.2h.01M413.9 113.9h.01M413 92.6h.01M413 106.7h.01M413.3 115.6h.01M413.9 121h.01M414.4 98.6h.01M414 84.4h.01M414.2 99.6h.01M414.4 134.9h.01M414.5 121.3h.01M414.7 126.7h.01M414.5 99.8h.01M414.6 125.7h.01M414.7 112h.01M414.3 100.1h.01M414.6 91.8h.01M414.6 88.1h.01M414.7 103.1h.01M415.6 94.8h.01M415.1 106.9h.01M415.5 94.4h.01M415.5 101.5h.01M415.5 86.1h.01M416 114.2h.01M415.3 97.1h.01M415.1 94.4h.01M415.8 89.4h.01M415.9 118.3h.01M415.6 122h.01M415.7 98.7h.01M415.1 123.2h.01M416.3 109.2h.01M416.7 85.9h.01M416.6 124.3h.01M417 86.6h.01M416.5 81.9h.01M416.6 107.6h.01M416 120.9h.01M416.5 102.8h.01M416 120.8h.01M416.3 136.5h.01M416.2 95.7h.01M416.9 87.6h.01M416.5 100.4h.01M417 118.2h.01M417.1 115.4h.01M417.8 118.5h.01M417.9 98.8h.01M417.3 116.8h.01M417.6 98.3h.01M417.5 107.8h.01M417.3 125h.01M417.1 130h.01M417.4 108.8h.01M417.9 85.6h.01M417.3 111.4h.01M417.9 105h.01M418 103.7h.01M418.7 107.4h.01M418.3 104.9h.01M418.5 137.6h.01M418.6 86.7h.01M418.3 122.2h.01M418.5 115.6h.01M418.5 91.4h.01M418.5 136.6h.01M418.2 99.7h.01M418.2 110.4h.01M419 91.8h.01M418.7 92.4h.01M419.5 100.3h.01M419 113.9h.01M419.1 104.7h.01M419.7 108.1h.01M419.3 108.3h.01M419.5 121.4h.01M419.2 118.5h.01M419.1 91.1h.01M419.1 124h.01M419.3 92.6h.01M419.7 116.9h.01M419.7 123.8h.01M419.8 112.3h.01M420.2 107.4h.01M420.5 113h.01M420.2 119h.01M420.5 108.8h.01M420.9 97.9h.01M420.9 75.9h.01M420.3 110.7h.01M420.9 127.5h.01M420.7 78.9h.01M420.7 128.4h.01M420 92.8h.01M420.3 100.9h.01M420.2 115.4h.01M421.4 105h.01M421.9 124.4h.01M421.6 107.3h.01M421 116.2h.01M421.7 113.2h.01M421.8 92.3h.01M421.7 94.1h.01M421.4 111h.01M421.1 118.2h.01M421 135.4h.01M421.3 94.5h.01M421.8 96.5h.01M421.9 107.4h.01M422 95.2h.01M422.6 110h.01M422.4 102.6h.01M422.6 120.8h.01M422.5 81.2h.01M422.5 108.9h.01M422.9 118.3h.01M422.6 81.4h.01M422.7 90.8h.01M422.2 98.3h.01M422 111.9h.01M422.7 100.7h.01M422 118.5h.01M423.7 95.5h.01M423.7 121.3h.01M423.9 103.3h.01M424 95.5h.01M423.2 85.5h.01M423.3 95h.01M423.9 86.2h.01M423.1 89.8h.01M423.8 101.5h.01M423.7 130.1h.01M423.3 105.5h.01M424 122.3h.01M423.7 85.3h.01M423.7 110.9h.01M424.1 124.6h.01M424.6 121.4h.01M425 82.7h.01M425 83.9h.01M424.5 90h.01M424.4 116.2h.01M424.8 99.2h.01M425 103.1h.01M424.5 106.9h.01M424.6 85.4h.01M424.6 113.9h.01M424.7 113h.01M424.3 128.8h.01M425.8 130h.01M425.4 126.8h.01M425.2 128.5h.01M425.7 102.6h.01M425 94.1h.01M425.6 112.9h.01M426 84.9h.01M425.2 104.9h.01M425.6 88.8h.01M425.3 109.8h.01M425.6 128.6h.01M425.9 91h.01M425.7 94.8h.01M426.4 104.4h.01M426.4 133.1h.01M426 115h.01M426.7 121.4h.01M426.7 78.6h.01M426.8 109.1h.01M426.7 77.8h.01M426.9 123.4h.01M426.9 118.1h.01M426.5 95.1h.01M426.6 129.6h.01M427 98.1h.01M426.1 121.7h.01M427.1 112.9h.01M427.2 99.3h.01M427.9 79.1h.01M427.4 107.5h.01M428 120.6h.01M427.9 104.5h.01M427.9 111.7h.01M428 130.5h.01M427.6 114.1h.01M427.6 116.6h.01M427 123.9h.01M427.3 107.4h.01M427.5 127h.01M428.3 117.1h.01M428.6 102.1h.01M428.6 79.6h.01M428.9 94.7h.01M428.8 109.1h.01M428.9 102.2h.01M428.1 91.2h.01M428.8 102.4h.01M428.3 88.3h.01M428.4 125h.01M428.2 99.7h.01M429 118h.01M428.2 105.8h.01M429.4 81.2h.01M429.3 111.6h.01M429.6 110.8h.01M429.5 119.1h.01M429.4 114.9h.01M429.9 101.3h.01M429.3 102.7h.01M429.3 114.2h.01M430 85.9h.01M430 132.5h.01M429.7 114.7h.01M429.2 124.2h.01M429.2 102h.01M430.5 116.3h.01M430.3 107h.01M430.1 117h.01M430.4 126.2h.01M430.3 116.9h.01M430.8 103.7h.01M430.9 112.9h.01M430.5 86.1h.01M430.3 112.2h.01M430.8 82.9h.01M430.7 134h.01M430.4 120.8h.01M430.4 110h.01M431.6 127h.01M431.9 108h.01M432 97.3h.01M431.6 82.6h.01M432 112.2h.01M431.5 88.5h.01M431.9 84.9h.01M431.3 99.8h.01M431.7 110.4h.01M432 112.3h.01M431.1 105.7h.01M431.3 117.7h.01M431.3 87.5h.01M432.3 114.2h.01M432.7 114.4h.01M432.2 119.5h.01M432.1 128.5h.01M432.8 86.2h.01M432.7 105.3h.01M432.4 125.6h.01M432.4 123.4h.01M432.8 97.5h.01M432.6 117.8h.01M432.6 113.3h.01M432.8 108.8h.01M432.4 120.6h.01M432.5 126.6h.01M433.3 96.9h.01M433.4 106.9h.01M433.1 87.7h.01M433.9 90.4h.01M433.6 122.3h.01M433.2 87.3h.01M433.2 102.2h.01M433.4 120.4h.01M433.3 85.7h.01M433.2 92.1h.01M433.3 91h.01M433.5 86.7h.01M433.9 121h.01M434.5 83.1h.01M434.2 97.4h.01M434.2 116.1h.01M434.7 102.7h.01M434.3 88h.01M434.2 108.5h.01M434.2 112.2h.01M434.1 106.1h.01M434.7 99.3h.01M434.8 115.8h.01M435 114.7h.01M434.4 134.1h.01M435 85.9h.01M435.4 104.6h.01M435.1 97.6h.01M436 130.2h.01M435.1 95.5h.01M435.7 105.2h.01M435.4 80h.01M435.5 79h.01M436 96.9h.01M435.1 76.5h.01M435.4 94.8h.01M435.8 110.4h.01M435.8 104.6h.01M435.5 88.8h.01M436.5 98.2h.01M437 125.2h.01M436.8 124.9h.01M436.8 127.3h.01M436.3 138.1h.01M436.4 80.3h.01M436.5 96.9h.01M436.9 107.7h.01M436.4 139h.01M436.6 113.2h.01M436.5 123.2h.01M436.5 106h.01M436.5 102.6h.01M437.7 129h.01M437.3 97.4h.01M437.4 84.9h.01M437.7 85.3h.01M437.4 129.3h.01M437.8 104.2h.01M437.3 117.9h.01M437.1 136.5h.01M437.9 108h.01M437.5 122.7h.01M437.1 111.8h.01M437.1 124.9h.01M438.6 95h.01M439 102.7h.01M438.3 83.1h.01M438.8 120.1h.01M438.7 107.7h.01M438.2 91h.01M438.4 112.2h.01M438.3 106.2h.01M438.3 78.9h.01M438 120.7h.01M438.3 104.6h.01M438.6 88h.01M438.5 95.7h.01M440 121.6h.01M439.7 117.4h.01M439.8 114.4h.01M439.5 107.2h.01M439.1 110.4h.01M439.7 116.8h.01M439.8 101.7h.01M439.7 124.2h.01M439.3 75h.01M439.9 126.5h.01M440 107.8h.01M439.4 119.4h.01M439.2 128.3h.01M440.5 96.8h.01M440.5 116.5h.01M440.2 104.9h.01M440.9 80.8h.01M441 90.8h.01M440.8 84.3h.01M440.5 88.3h.01M440.2 88.8h.01M440.5 138.7h.01M441 92.7h.01M440.5 92.5h.01M440.6 91.8h.01M441.9 93.7h.01M441.8 103.2h.01M441.2 106.3h.01M442 119.8h.01M441.2 121.2h.01M441.4 78.4h.01M441.6 103.3h.01M441.6 91.2h.01M441.2 90.3h.01M441.8 81.2h.01M441.6 106.5h.01M441.3 107.1h.01M442.1 128.1h.01M442.6 94.2h.01M442.6 77.5h.01M443 117.8h.01M442.8 104.8h.01M442.6 92.3h.01M442.3 131.1h.01M442.7 85.3h.01M442.1 99.1h.01M442.9 139.6h.01M442.1 99.4h.01M442.5 96.2h.01M443.1 125h.01M443.4 108.9h.01M443.3 119.3h.01M443.1 140.7h.01M443.4 114.8h.01M443.1 88.4h.01M443.1 117.3h.01M443.5 123.3h.01M443.7 108.7h.01M443.8 116.1h.01M443.9 124.7h.01M443.3 118.1h.01M443.9 117.2h.01M444.7 131.7h.01M444.2 98.4h.01M444.5 98.6h.01M444.6 126.8h.01M445 100h.01M444.8 87.9h.01M444.5 117.7h.01M444.3 133.7h.01M444.2 92h.01M444 121.7h.01M444.4 129.4h.01M444.4 102.9h.01M445.7 89.6h.01M445.6 108h.01M445.3 100.4h.01M445.7 90.8h.01M445.3 100.5h.01M445.5 99.1h.01M445.5 117.8h.01M445.5 109.3h.01M445.8 121.7h.01M445.8 111.9h.01M445.1 118.2h.01M445.8 114.3h.01M446.9 123.5h.01M446.2 110.8h.01M446.7 133.2h.01M446 88.7h.01M446.6 97.6h.01M446.5 118.6h.01M446.9 79.5h.01M446.5 134.4h.01M446.5 112.9h.01M446.7 123.5h.01M446.7 82.6h.01M446.3 104.6h.01M447.9 82.6h.01M447.5 96.7h.01M447.8 106.3h.01M447.5 107h.01M447.5 95.5h.01M447.8 111.8h.01M447.9 113.4h.01M447.5 109.8h.01M447.1 93h.01M447.2 115.1h.01M447.8 78h.01M447.6 88.2h.01M448.4 116.1h.01M448.6 125.8h.01M449 88.1h.01M448.8 77.4h.01M448.8 105.8h.01M448.2 90.4h.01M448.7 105.1h.01M448.3 122.9h.01M448.7 82.5h.01M448.6 116.5h.01M448.6 102.2h.01M449 103.6h.01M449 118.4h.01M449.7 127.1h.01M449 104h.01M449.3 122.8h.01M449 108.6h.01M449.5 126.1h.01M449.5 118h.01M449.1 108.2h.01M449.9 103.7h.01M449.3 131.6h.01M449.9 131.3h.01M449.1 99.4h.01M450.7 95.4h.01M450.4 103.2h.01M450.1 80.6h.01M450.4 129.1h.01M450.5 123.9h.01M450.4 134.9h.01M450.4 111.6h.01M450.1 93.8h.01M450.6 108.8h.01M450.3 103.1h.01M450.9 90.2h.01M450.1 108.2h.01M451.6 133.3h.01M452 95.4h.01M451.4 125h.01M451.4 116.7h.01M451.1 129.7h.01M451.1 140.3h.01M451.2 135.4h.01M451.2 129.9h.01M451.8 113.5h.01M451.1 99.5h.01M451.8 110h.01M451.9 125.8h.01M452.7 93.2h.01M452.1 112.2h.01M452.9 94h.01M452.3 108.3h.01M452.2 87.7h.01M452.5 99.7h.01M452.5 114.3h.01M452.5 104.4h.01M452.6 93.4h.01M452.2 95.9h.01M452.8 107.7h.01M452.2 107.8h.01M453.5 116.8h.01M453.2 138.8h.01M453.3 137.3h.01M453.2 80.6h.01M453.7 131.3h.01M453.9 93.5h.01M453.5 105h.01M453.1 95h.01M453.9 89.3h.01M453.3 82.6h.01M453.6 132.8h.01M453.5 144.2h.01M454.2 125h.01M454.6 88h.01M454.9 103.8h.01M454.6 124h.01M454.2 103.2h.01M454.2 89.5h.01M454.1 123h.01M454.9 131.1h.01M454.8 124.2h.01M454.8 90h.01M454.3 82.3h.01M454.3 104.3h.01M455.8 107.6h.01M455.9 75.9h.01M455.7 130.1h.01M455.8 86.2h.01M455.8 118.3h.01M455.2 123.1h.01M455.9 139.2h.01M455.2 88.5h.01M455.3 103.6h.01M455.8 103.4h.01M455.4 144.6h.01M455.1 113.9h.01M456 113.1h.01M456.2 123.9h.01M456.7 105h.01M456.2 112.6h.01M456.1 110.5h.01M457 96.3h.01M456 114.2h.01M456.6 105.4h.01M456.4 121.3h.01M456.7 96.9h.01M456.2 130.9h.01M456.6 121.6h.01M457.5 85h.01M457.6 129.6h.01M457.7 92.3h.01M457.7 117.2h.01M457.2 102.7h.01M457.2 122.3h.01M457.9 98.5h.01M457 139.4h.01M457.9 77.5h.01M457.8 116.6h.01M457.3 126.2h.01M457.8 120.8h.01M458.1 91.4h.01M458.3 145h.01M458.8 82.6h.01M458.8 120.6h.01M458.8 122.2h.01M458.9 139.5h.01M458.8 91.5h.01M459 107.9h.01M459 118.3h.01M458.9 89.1h.01M458.9 100.4h.01M458.6 110.3h.01M459.3 90h.01M459.6 101.2h.01M459.8 126.5h.01M460 105.5h.01M459.3 91.9h.01M460 137.2h.01M459.5 121h.01M459.3 114.4h.01M459.1 109.3h.01M459.9 92.3h.01M459.8 102.6h.01M459.4 122.3h.01M460.6 124.7h.01M460.5 142.6h.01M460.8 115.5h.01M460.9 103.7h.01M460.7 93.3h.01M460.7 80.9h.01M460.6 94.8h.01M460.5 109.1h.01M460.1 144.4h.01M460 119.9h.01M460.5 101.9h.01M460.3 84.2h.01M461.5 114.1h.01M462 119.1h.01M461.2 122.1h.01M461.1 114.8h.01M461 123.8h.01M461.2 88.9h.01M461.9 131.8h.01M461.7 129.6h.01M461.7 112h.01M461.6 122.1h.01M461.3 85.9h.01M461 91.4h.01M463 90.2h.01M462.3 125.8h.01M462.9 112.8h.01M462.5 120h.01M462.4 99.3h.01M462.9 105.6h.01M462.5 86.4h.01M462 132h.01M462.9 118.8h.01M462.5 98.2h.01M462 125.2h.01M462.6 118h.01M463.5 106.2h.01M464 111.1h.01M463.1 88.1h.01M463.2 98.4h.01M463.4 110.5h.01M463.4 113.9h.01M463.4 105.3h.01M463.9 81.6h.01M463.9 110.3h.01M463.7 138.3h.01M463.8 122.6h.01M464.3 125.2h.01M464.9 85h.01M464.1 127.3h.01M464.9 146.5h.01M465 102.8h.01M464.1 137.5h.01M465 124.6h.01M464 126.7h.01M464.5 86.9h.01M464.1 88.4h.01M464.2 110.5h.01M464.9 110.8h.01M465.6 99.8h.01M465.9 144.7h.01M465.2 106.8h.01M465.8 130h.01M465.6 98.2h.01M465.6 88.8h.01M465 104.8h.01M465.2 104h.01M465.5 92.7h.01M465.8 87.6h.01M465.8 132.6h.01M465.8 114.3h.01M466.6 138.8h.01M466.1 117.4h.01M466.8 125.7h.01M466.8 91.9h.01M466.4 130h.01M466.5 110h.01M467 130h.01M466.9 119.1h.01M466.9 118.8h.01M466.4 94.8h.01M466.6 91.2h.01M466.9 134.3h.01M467.1 145.8h.01M467.8 79.4h.01M467.6 86.9h.01M467.6 104.4h.01M467.1 90.1h.01M467.8 114.3h.01M467.8 104.9h.01M467 101.2h.01M467.3 87h.01M467.1 110.9h.01M467.5 139.9h.01M467.8 125.2h.01M468 136.8h.01M468.2 121.5h.01M468 120h.01M469 91.4h.01M468.4 138.2h.01M468.5 112h.01M468.2 119.9h.01M468.1 97.6h.01M468.6 91.2h.01M468.4 96.5h.01M468.1 82.4h.01M468.2 106.8h.01M469.8 124.9h.01M469.7 124.2h.01M469.9 128.7h.01M469.8 112.7h.01M469.6 103.4h.01M469.1 124h.01M469 103.8h.01M469.2 117.1h.01M469.3 121.6h.01M469.3 122.8h.01M470 88.6h.01M471 125.7h.01M470.8 95.3h.01M470.9 99.8h.01M470.3 136.6h.01M470.9 104.2h.01M470.2 147.8h.01M470.6 115.4h.01M470.9 123.2h.01M470.2 110.8h.01M470.5 137h.01M470.6 88.8h.01M470.4 132.5h.01M471.4 116.4h.01M471.5 139.6h.01M472 102h.01M471.3 136.3h.01M471.6 89.9h.01M471.6 115.3h.01M471 116.6h.01M471.9 92h.01M471.4 129.4h.01M471.9 111.9h.01M471.6 94.5h.01M471.2 124.4h.01M472.5 109.7h.01M472.1 126.8h.01M472.7 112.5h.01M472.3 137h.01M472.9 139.8h.01M472.9 100.6h.01M472.2 88.8h.01M473 100.6h.01M472 138.6h.01M472.3 91.7h.01M472.4 110.6h.01M473 102.9h.01M473.1 99.5h.01M473.4 98.4h.01M473.4 85.6h.01M473.1 95.4h.01M473.5 95.1h.01M474 98.1h.01M473 131.9h.01M473.1 118.4h.01M473.2 126h.01M473.1 137h.01M473.5 101.4h.01M474.3 135.8h.01M474.4 90.5h.01M474 119.7h.01M474.7 114.4h.01M474 91.8h.01M474.4 121.8h.01M474.3 96.4h.01M474.5 143.6h.01M474.2 105.3h.01M474.1 120h.01M474.4 121.7h.01M475.2 130.3h.01M475.5 123.4h.01M475.9 143h.01M475.3 91.7h.01M475.8 109.7h.01M475.5 140.3h.01M475.2 99.9h.01M475.8 110.8h.01M475.2 117.2h.01M475 102.3h.01M475.4 135.3h.01M476.5 96.2h.01M476.3 106.6h.01M476.2 101.2h.01M477 125.3h.01M476.3 117.6h.01M476.3 93.4h.01M476.2 107.4h.01M476.8 111.9h.01M476.2 103h.01M476.1 87.2h.01M476.7 113h.01M476.2 143.1h.01M477.1 81h.01M477.1 93.2h.01M477 93.4h.01M477.1 116.6h.01M477.9 136.4h.01M477.8 113h.01M477.5 117.3h.01M477.2 104.3h.01M477.3 149.5h.01M477.9 139.6h.01M477.7 125.2h.01M478.1 106.8h.01M478.7 131.2h.01M479 104.9h.01M479 98h.01M478.9 95.2h.01M478.5 123.9h.01M478.1 96.6h.01M478.5 91.4h.01M478.6 138.7h.01M478.7 100.9h.01M478.9 113.6h.01M479 94.1h.01M479.1 128.1h.01M479.9 116.2h.01M479.6 119.7h.01M479.3 98.4h.01M479.2 123.2h.01M479.2 122.9h.01M479.8 107.1h.01M479.4 134.8h.01M479.1 121.9h.01M479.3 107.8h.01M479.7 138.8h.01M480.8 141.1h.01M480.5 146h.01M480.4 125.2h.01M480 96.7h.01M480.7 141.3h.01M480.2 122.4h.01M480.4 90.1h.01M480.6 131.5h.01M480.4 121.2h.01M480.1 112.7h.01M480 89.3h.01M481.6 123.5h.01M482 90h.01M481.7 85.8h.01M481.4 139.3h.01M481 95h.01M481.2 107.1h.01M481.6 87.3h.01M481.8 123h.01M481.8 113.5h.01M481.6 108.9h.01M481.7 123.6h.01M481.5 135h.01M482.1 113.1h.01M482.8 137.5h.01M483 141.2h.01M483 114.2h.01M482.7 114.4h.01M482.8 102.4h.01M482.1 139.9h.01M482.9 98h.01M482.2 127.1h.01M482.9 137.1h.01M482.5 111.8h.01M483.7 90.3h.01M483 92.1h.01M483.5 122.4h.01M483.6 117.3h.01M483.4 130.6h.01M484 129.2h.01M483.2 87.2h.01M483.6 124.4h.01M483.6 126.9h.01M483.6 120.1h.01M483.2 104.5h.01M484.9 102.8h.01M485 125.1h.01M485 145.7h.01M484.8 146.7h.01M484.2 119.3h.01M484.8 125.4h.01M484.1 136.8h.01M485 88.6h.01M484.1 121.7h.01M484.1 111h.01M484.8 139h.01M485.5 144h.01M485.4 141.3h.01M486 101.9h.01M485.7 113.4h.01M485.9 121.1h.01M485.8 138.5h.01M485.3 142.2h.01M485.4 123.6h.01M485.5 126h.01M485.7 109.7h.01M485.9 119.2h.01M486.1 155.1h.01M486.2 153.1h.01M486.1 84.4h.01M486.6 118.8h.01M486.1 132.4h.01M486.8 118.7h.01M486.8 126.1h.01M486.3 132h.01M486.4 141.8h.01M486.5 95.8h.01M486.3 125.9h.01M488 125h.01M487.5 140h.01M487.5 104.8h.01M487.9 143.3h.01M487.2 85.6h.01M487.4 138.1h.01M487.5 117.8h.01M487.1 105h.01M487.6 141.7h.01M487.9 118.3h.01M487.5 107.6h.01M488.7 94.3h.01M488.7 117h.01M488.9 105.9h.01M488.6 92.6h.01M488.3 120.3h.01M488.2 132.2h.01M488.4 113.6h.01M488.6 111.8h.01M488.3 120.7h.01M488.8 135.2h.01M488.1 137.8h.01M490 100.4h.01M489.1 129.2h.01M489.2 116.5h.01M489.4 107.1h.01M489.8 120h.01M489.1 116.6h.01M489.7 133.1h.01M489.9 104.5h.01M489.9 127.5h.01M489.1 122.6h.01M489.9 103.8h.01M490.9 131.5h.01M490.2 107.6h.01M490.6 144.3h.01M490.3 133.1h.01M490.7 145.1h.01M490.3 139.8h.01M490.6 119.3h.01M490.3 109.6h.01M490.7 105.8h.01M490 88.7h.01M490.9 103.8h.01M491.4 121.5h.01M491.3 148.8h.01M491.9 125.1h.01M491.4 133.7h.01M492 121.2h.01M491.4 109h.01M491.3 132.4h.01M491.8 89.7h.01M492 107.4h.01M491.4 143.6h.01M491.7 122.6h.01M492.4 116.9h.01M492.8 109.1h.01M492.8 94.6h.01M492.7 103.6h.01M492.8 148.4h.01M492.9 102.9h.01M492.7 132.8h.01M492.9 128.1h.01M492.1 142.5h.01M492.1 98.9h.01M492.9 118.7h.01M493.7 108.6h.01M493.6 87.4h.01M494 103h.01M493.9 108.4h.01M493.5 127.3h.01M493.4 117.6h.01M493.3 114.5h.01M493.1 133.6h.01M493.5 133.3h.01M493.8 93.4h.01M493.5 150.3h.01M494.3 116.8h.01M494.8 132h.01M494.6 143.1h.01M494.8 114.9h.01M494.2 128.6h.01M494.2 118.7h.01M495 142.5h.01M494.1 92.2h.01M495 138.3h.01M494.5 138.6h.01M495.1 111h.01M495.7 129.4h.01M495.3 151.4h.01M495 109h.01M495.5 126.3h.01M495 109.8h.01M495.4 127.5h.01M495.6 120.6h.01M495.4 100.3h.01M495.3 97.9h.01M496.1 102.7h.01M496.7 118.8h.01M496.6 153.2h.01M496.9 135.8h.01M497 98.5h.01M497 130.4h.01M496.5 112h.01M497 149.6h.01M496.7 115.1h.01M496.1 120.9h.01M496.9 114.2h.01M497.9 121.3h.01M497.6 107.3h.01M497.5 140.2h.01M497.4 104.7h.01M497.7 127.1h.01M497.4 96.3h.01M497.7 114.3h.01M497.3 118.5h.01M497.1 113.2h.01M497.8 121.6h.01M498.1 113h.01M498 128.8h.01M498.6 125.8h.01M498.7 111h.01M498.7 122.2h.01M498.2 102.2h.01M498.4 135.9h.01M498.7 145.9h.01M498.6 125.9h.01M498.6 107.6h.01M499.6 129.3h.01M499.3 135.9h.01M499.3 115.4h.01M499.2 106.2h.01M499.9 93.3h.01M499.1 103.1h.01M499.9 129.7h.01M499.6 123.7h.01M499.4 138.7h.01M499.6 126.6h.01M500.4 123.3h.01M500.9 144.2h.01M500.6 123.8h.01M500 90.4h.01M500.5 92h.01M500.8 140.8h.01M500.7 135.5h.01M500.9 128.5h.01M500.6 146.2h.01M500.9 119.1h.01M501 147.4h.01M501.7 106.9h.01M501.3 121.3h.01M501.4 121.4h.01M501.2 126.7h.01M501.8 147.3h.01M502 140.7h.01M501.8 110.7h.01M501.8 123.6h.01M501.2 143.3h.01M503 123.8h.01M502.5 142.2h.01M502.4 128h.01M502.7 109.9h.01M502.9 135.7h.01M502.8 122.9h.01M502 145.3h.01M502.5 148h.01M502.4 125h.01M503.5 138h.01M503.4 148.9h.01M503.6 120.5h.01M503.5 105.4h.01M503 120.6h.01M503.5 129.5h.01M503.5 127.1h.01M503 139.4h.01M503.9 133.4h.01M504.7 112.1h.01M504.5 113.9h.01M504.8 149.1h.01M504.8 92.2h.01M505 134.5h.01M504 136.8h.01M504.7 146.3h.01M504.1 128.8h.01M504.9 150.3h.01M505.4 134.8h.01M505.3 119.3h.01M505.2 106.5h.01M505 141.1h.01M505.7 129.3h.01M505.6 115.5h.01M505.5 96.7h.01M505.6 121h.01M505.2 105.1h.01M506.5 118.2h.01M506.5 112h.01M506.2 114.5h.01M507 124h.01M506.8 109.7h.01M506.8 116.9h.01M506.2 136.4h.01M506 124.2h.01M507 129.5h.01M508 123.2h.01M507.3 129.9h.01M507.9 140.5h.01M507.9 122.5h.01M507.6 128h.01M507.3 129.7h.01M507.1 132.5h.01M507.6 125.4h.01M507.2 116.6h.01M508.2 114.9h.01M508.8 118.5h.01M508.6 137.7h.01M508.7 132.7h.01M508.2 136.2h.01M508 137.2h.01M508.1 135.4h.01M508.8 134h.01M509.4 122.6h.01M510 94.5h.01M509.9 124.5h.01M509.8 119.5h.01M509.8 120.5h.01M509.1 121.7h.01M509 102.6h.01M509.1 116.9h.01M510.4 139.6h.01M510.3 142.3h.01M510.2 132.2h.01M510.1 152.4h.01M510.7 116.9h.01M510.2 108.6h.01M510 145.9h.01M510.1 114.7h.01M511.8 136.9h.01M511.2 153.8h.01M512 128.6h.01M511.3 106.7h.01M511.3 129.8h.01M511.2 151.4h.01M511.9 156.3h.01M511.3 126.3h.01M512.4 106.3h.01M512 112.5h.01M512.9 123.7h.01M512.6 119h.01M512.6 123.1h.01M512.2 124h.01M512.7 94.4h.01M512.7 137.4h.01M513.9 118.6h.01M514 122.6h.01M513.3 116.5h.01M513.5 141h.01M513.6 126.5h.01M513.9 112.4h.01M513.2 128.2h.01M513.7 138.3h.01M514 124h.01M514.6 120h.01M514.1 98.6h.01M514.9 124.4h.01M514.9 99.4h.01M514.2 130.3h.01M514.6 127.9h.01M514.1 116.7h.01M515.3 109.5h.01M515.4 148.6h.01M515.7 104.9h.01M515.6 111.4h.01M515.2 141.2h.01M515.2 106.5h.01M515.9 117.2h.01M515.6 138.1h.01M517 120.4h.01M516.6 111.7h.01M516.5 136.8h.01M516.8 123.7h.01M516.3 122.6h.01M516.3 129.4h.01M516.3 124.3h.01M516.1 150.1h.01M517.5 104.9h.01M517.2 122.1h.01M517.3 133h.01M517.2 96.7h.01M518 151.4h.01M517.9 130.1h.01M517.8 127.6h.01M517.5 149.1h.01M518.2 144.9h.01M518.7 126h.01M518.6 107h.01M518.6 126h.01M518.6 142.4h.01M518.2 136.1h.01M518.6 99.6h.01M518.6 111.2h.01M519.4 132.7h.01M519.4 127.6h.01M519.7 152.4h.01M519.2 105.2h.01M519.6 112.3h.01M519.5 127h.01M519.3 140.2h.01M519.5 117.4h.01M521 133.1h.01M520.4 154.2h.01M520.2 104.4h.01M520 131.6h.01M520.7 150h.01M520.2 104h.01M520.7 123.5h.01M520.7 127.8h.01M521.7 120.7h.01M521.4 120.8h.01M521.8 102h.01M521.7 143.9h.01M521.5 134.6h.01M521.3 114.2h.01M521.6 138.4h.01M521.3 126.4h.01M522.7 109.4h.01M522.4 130.7h.01M522.4 119.5h.01M522.5 123.3h.01M522.1 108.8h.01M522.4 126.8h.01M522.3 131.7h.01M522.5 116.5h.01M523.4 106.4h.01M523.5 140.2h.01M523.8 137.4h.01M523.5 120.5h.01M523.5 105.7h.01M523.2 134.5h.01M523.3 128.8h.01M524.3 146.1h.01M524.9 118.1h.01M524.1 118.9h.01M524.6 111.5h.01M524 115.8h.01M524.6 134.7h.01M524.7 108.3h.01M525.4 127.1h.01M525.7 115.2h.01M526 128h.01M525 116h.01M525.8 123.3h.01M526 106.3h.01M525.2 115.5h.01M526.5 131.7h.01M526.3 126.3h.01M526.7 130.2h.01M526.3 131.1h.01M526.7 135.9h.01M526.6 121.1h.01M527.8 117.1h.01M527.2 115.1h.01M527.3 116.7h.01M527.7 124h.01M527.2 121.4h.01M527.7 121.5h.01M528.4 147.8h.01M528.4 107.4h.01M528.9 114.3h.01M528.7 137.8h.01M529.7 154.8h.01M529 138h.01M529.4 145h.01M529.3 117.7h.01M530.8 129.2h.01M531 114.7h.01M530.2 106.2h.01M530.9 129.7h.01M531 121.2h.01M531.2 134.9h.01M531.5 138.3h.01M530.7 136.5h.01M531.9 133.6h.01M531.3 104.5h.01M531.3 122.6h.01M532.9 133.9h.01M532.3 147h.01M531.7 149.3h.01M532.1 120.3h.01M532.1 128.5h.01M533.7 128.9h.01M533.4 129.5h.01M533.4 144.3h.01M533.5 156.8h.01M533.6 144.9h.01M534 140.7h.01M533.1 144.6h.01M534.9 156h.01M535 122.4h.01M534.6 117.5h.01M534.9 139.9h.01M537.7 141.7h.01M535.6 135.4h.01M535.5 110.4h.01M535.1 148.2h.01M535.3 147.2h.01M535.5 126.1h.01M535.7 111.2h.01M535.6 142h.01M534.2 143.4h.01M536.1 151h.01M536.2 139.2h.01M536.1 135.3h.01M536.4 127h.01M536.3 128.4h.01M537.2 140.7h.01M537.8 134.6h.01M537.5 141.9h.01M537.4 125.7h.01M537.1 164.5h.01M538.1 115.2h.01M538.4 145.9h.01M539 137.2h.01M538.1 162.7h.01M538.5 136.8h.01M538.7 115.2h.01M539.3 128.1h.01M539.9 130.4h.01M539 125.7h.01M539.1 120.6h.01M539.1 139.2h.01M539.3 147.5h.01M540.1 134.2h.01M540.2 108h.01M540.6 126.9h.01M540.7 130.5h.01M541.6 138.1h.01M541.4 124.2h.01M541.4 148.7h.01M541.5 145.4h.01M541.1 143.2h.01M541.5 133.4h.01M542.6 126.9h.01M542 141.8h.01M542.6 133.8h.01M542.1 144.3h.01M543.3 129.1h.01M543.1 120.6h.01M543.6 118.7h.01M543.5 132.3h.01M544.6 131h.01M544.9 104.8h.01M544.8 136.8h.01M544.4 143.8h.01M545.7 148.3h.01M545.4 127.9h.01M545.9 144.1h.01M545.5 141h.01M545.2 135h.01M546.6 140.1h.01M546.5 133.8h.01M546.4 144h.01M546 134.5h.01M547.7 141.7h.01M547.4 116h.01M547.8 128.2h.01M547.4 153.8h.01M548.8 167h.01M550.3 162.9h.01M548.8 138h.01M548.8 143.8h.01M548.7 137.6h.01M549.9 148.1h.01M549.3 114.9h.01M549.2 158.2h.01M546.5 158.3h.01M550.7 156.7h.01M550.1 122.2h.01M550.5 150.5h.01M550.6 130.9h.01M551.2 127.4h.01M551.1 140.2h.01M551.4 137.2h.01M552.8 147.2h.01M550.9 147.8h.01M552.9 128.8h.01M552.2 138.9h.01M553 141.3h.01M554 139.1h.01M554 153.7h.01M556.7 154.5h.01M553.8 125.7h.01M554 158.1h.01M554.7 153.5h.01M554.9 149.2h.01M551.9 153.4h.01M554.5 105.3h.01M554.3 114.1h.01M555.6 117.7h.01M555.8 128.9h.01M555.2 126.3h.01M556.8 114h.01M556 127.4h.01M556.3 136.9h.01M556.9 108.6h.01M557.8 126.9h.01M557.4 145.6h.01M558.2 118.6h.01M558.7 135.4h.01M558.6 139.7h.01M558.4 111.8h.01M559.6 108.9h.01M559.6 102.2h.01M560.6 128.5h.01M560.1 105.6h.01M562.9 122.1h.01M562.1 136.5h.01M562.6 126.8h.01M564 136.7h.01M563.2 124.6h.01M563.8 160.6h.01M565 143.7h.01M564.9 104.7h.01M565.1 124.2h.01M565.2 158.1h.01M566.6 112.7h.01M566.5 100.1h.01M566.1 144.2h.01M567.3 134.6h.01M567.5 129h.01M351.3 121.1h.01M414.8 67h.01M475.5 73.3h.01M430.6 148.8h.01M465.8 151.4h.01M402 140h.01M405 144h.01M408 148h.01M400 147h.01M404.5 149.5h.01M423 143h.01M530.6 89.7h.01M565.8 94.7h.01M563.3 99.8h.01M560.8 104.8h.01M497 84h.01M503 86h.01M507 87h.01M542 96h.01M546.5 100h.01M551 105h.01M374.5 74.6h.01M381.5 75.5h.01M387.8 72.5h.01M395.5 74.8h.01" fill="none" stroke="#1a476f" stroke-width="4.7" stroke-linecap="round"/>
<path d="M351.5 100.5L567.8 132.1" stroke="#90353b" stroke-width="1.35" fill="none"/>
<path d="M344.1 42V174.1H577.5" fill="none" stroke="#0c0c0c" stroke-width="1.45"/>
<path d="M351.5 174.1v4.2M395.4 174.1v4.2M439.2 174.1v4.2M483.1 174.1v4.2M526.9 174.1v4.2M570.8 174.1v4.2M344.1 166h-4.2M344.1 136.7h-4.2M344.1 107.5h-4.2M344.1 78.2h-4.2M344.1 48.9h-4.2" fill="none" stroke="#0c0c0c" stroke-width="1.1"/>
<g font-size="10.2" fill="#080808" stroke="#080808" stroke-width="0.12" text-anchor="middle">
<text x="351.5" y="191.8">0</text>
<text x="395.4" y="191.8">.2</text>
<text x="439.2" y="191.8">.4</text>
<text x="483.1" y="191.8">.6</text>
<text x="526.9" y="191.8">.8</text>
<text x="570.8" y="191.8">1</text>
<text transform="translate(334.1 166) rotate(-90)">2</text>
<text transform="translate(334.1 136.7) rotate(-90)">3</text>
<text transform="translate(334.1 107.5) rotate(-90)">4</text>
<text transform="translate(334.1 78.2) rotate(-90)">5</text>
<text transform="translate(334.1 48.9) rotate(-90)">6</text>
</g>
<text x="427.2" y="201.5" font-size="10.7" fill="#080808" stroke="#080808" stroke-width="0.15" style="font-family:'Liberation Sans','Noto Sans CJK SC',sans-serif">国有经济比重</text>
<g font-size="15.5" fill="#26355c" text-anchor="middle"><text x="449.9" y="35.9">(</text><text x="459.1" y="36.4">b</text><text x="468.3" y="35.9">)</text></g>
</g>
<g id="panel-c">
<path d="M136.9 256.4h.01M111.7 265.2h.01M118.5 266.4h.01M119.3 271.5h.01M129.4 268.9h.01M91.6 271.5h.01M91.1 275.2h.01M142.7 274h.01M180.2 265.2h.01M69.7 277.3h.01M163.3 277.8h.01M175.9 277.3h.01M72.7 286.1h.01M70.2 287.8h.01M82.8 285.3h.01M92.1 286.6h.01M108 284.8h.01M111.7 286.6h.01M114.3 289.1h.01M106 289.1h.01M147 287.8h.01M165.9 286.6h.01M175.9 285.3h.01M179.7 287.8h.01M184.7 289.1h.01M99.7 291.6h.01M121 292.9h.01M153.3 293.4h.01M141.9 294.1h.01M143.2 297.9h.01M168.4 294.1h.01M71.5 295.4h.01M188.5 293.4h.01M231 267.7h.01M272.8 281h.01M198.6 280.3h.01M196.6 282.3h.01M190.3 285.3h.01M214.2 289.1h.01M214.9 292.1h.01M226 291.6h.01M200.3 294.9h.01M202.9 297.4h.01M177.7 299.1h.01M187.8 301.7h.01M192.8 299.9h.01M215.9 298.4h.01M221 301.7h.01M226.8 297.4h.01M231 299.9h.01M259.5 299.7h.01M266.3 304.9h.01M267 318.5h.01M273.3 323.1h.01M275.9 326.8h.01M251.4 309.2h.01M248.2 313h.01M161.6 330.9h.01M255.7 365.4h.01M194.8 370.2h.01M95.5 346.9h.01M83.5 340.6h.01M218.4 325.1h.01M119.2 350.2h.01M251.6 368.5h.01M257.5 361.8h.01M105.4 374h.01M178.2 372.9h.01M186.9 354.6h.01M192.6 357.4h.01M193.6 369.9h.01M205.8 354.8h.01M192.6 373.6h.01M183 358.8h.01M168.4 363.3h.01M175.8 354.5h.01M64.3 354.2h.01M182.4 329.1h.01M76.4 352.6h.01M100.7 367.3h.01M163.2 311.7h.01M84.5 333.8h.01M230.1 352.3h.01M85.4 360.8h.01M198.7 347.1h.01M173.5 351.7h.01M265.6 372.4h.01M234.5 368.2h.01M74.2 342.5h.01M130.2 345.8h.01M147.8 350.3h.01M156.6 353h.01M131.8 354.8h.01M178.7 335.4h.01M176.8 366.6h.01M260.6 370h.01M96.8 363.6h.01M130.8 329.5h.01M63.5 294.1h.01M262.3 371.9h.01M90.6 350.1h.01M256.6 349.4h.01M270 365h.01M187.1 351.3h.01M122.8 359.7h.01M98.9 358h.01M260.9 357h.01M165.7 353.6h.01M174 345h.01M266.8 334h.01M104.2 368.1h.01M64.8 320.1h.01M128.6 348.3h.01M106.9 369.5h.01M208.6 348.7h.01M67.9 340.5h.01M218 366.2h.01M159.2 370h.01M142 348.6h.01M119.7 346h.01M237.6 359.1h.01M79.7 365h.01M161.8 331.6h.01M196.9 344.7h.01M119.2 356h.01M88 347h.01M201.3 357.2h.01M265.6 342.3h.01M134.5 372.9h.01M81.8 349.5h.01M241.1 353.2h.01M180.3 343.4h.01M214.7 333.8h.01M103.3 358.2h.01M163.4 350.4h.01M94.4 366.7h.01M219 322.7h.01M71.9 343.8h.01M106.5 362.6h.01M149.2 325.3h.01M173.2 334.3h.01M164 356.4h.01M267.6 373.1h.01M87.8 329.9h.01M86.3 340.8h.01M134.7 351.4h.01M87.9 359.8h.01M110.4 332.1h.01M85.9 355.1h.01M195.5 362.4h.01M79.2 369.5h.01M73.3 347h.01M226.6 371.9h.01M174.9 336.6h.01M122.8 371.9h.01M227.8 360.7h.01M224.7 356.1h.01M196.3 351.4h.01M246.8 366.2h.01M139.3 353.2h.01M217 344h.01M113.7 349.5h.01M150.3 367.2h.01M93.5 342.9h.01M236.2 362.8h.01M250.3 374h.01M143.6 346.1h.01M134.3 333.2h.01M162 347.3h.01M179.5 372h.01M193.6 335.2h.01M63.8 311.9h.01M92.9 326.7h.01M184.5 371.3h.01M83.5 364.6h.01M113.4 339.4h.01M157.7 307.6h.01M190.1 370h.01M253.6 345.5h.01M159 346.9h.01M100.1 360.9h.01M88.9 368.5h.01M186.6 358.3h.01M211.6 319.5h.01M194.2 343.1h.01M71.8 328.9h.01M181.7 365.9h.01M193.4 373.7h.01M142.1 347.8h.01M120.6 330.5h.01M215.8 349.6h.01M140.4 354.1h.01M129.3 342.5h.01M197.4 367.2h.01M96.9 333h.01M156.2 343.2h.01M219.6 345.2h.01M126.2 351h.01M152.2 338.8h.01M165.5 300.7h.01M152 343h.01M152.6 342.5h.01M97.6 338.4h.01M123.5 347.9h.01M97.4 326.1h.01M95.8 336.4h.01M257.2 319.6h.01M145.9 359.4h.01M70.7 360.2h.01M198.1 369.2h.01M152.6 309h.01M237.1 349.3h.01M202.8 364.7h.01M138.2 359h.01M73.4 358.3h.01M165.3 344.5h.01M161.2 368.3h.01M138.3 338.8h.01M73.1 334.4h.01M127.3 333.6h.01M114.5 343.5h.01M221.6 345.9h.01M219 331.9h.01M106.1 345h.01M139.3 369.2h.01M132.6 333.2h.01M147.9 313.8h.01M126.5 360.1h.01M108.3 359.3h.01M236.1 367.5h.01M176.5 318.4h.01M173.2 341.2h.01M115.7 345.9h.01M176.6 354.9h.01M127.2 355.8h.01M217.5 355.8h.01M93.6 363h.01M195.5 361h.01M69.3 357.3h.01M70.4 339.3h.01M237.7 345.6h.01M98.2 364.6h.01M124.3 352.5h.01M84 326.8h.01M194.1 304.8h.01M152.3 347.6h.01M66.4 320.4h.01M211.9 349.6h.01M180.2 360.4h.01M127.9 366.9h.01M80.5 347.5h.01M92.8 340.5h.01M166.4 366.7h.01M76.9 329.3h.01M219.5 359.4h.01M177.3 355.1h.01M128.2 371.8h.01M171.2 370.4h.01M140.9 371.6h.01M181.4 347.3h.01M192.6 361h.01M101.7 317h.01M214.2 354.2h.01M69 352.5h.01M82.7 361.8h.01M97.7 347h.01M85.2 354.6h.01M99.3 367.5h.01M98.4 342.8h.01M216.5 353.2h.01M192.7 357.5h.01M190 360.1h.01M126.8 332.7h.01M127.2 373.1h.01M131.5 354.5h.01M205.9 363.1h.01M258.7 343.6h.01M107.9 338.9h.01M235.3 364.9h.01M233.1 369.5h.01M216.7 372.5h.01M181.3 356.8h.01M88.3 365.6h.01M130.7 357.6h.01M234.5 360.2h.01M69 338.4h.01M266.9 374.5h.01M252 357h.01M101.6 342.7h.01M144.8 339.5h.01M209.4 364.3h.01M252.9 355.1h.01M189.5 371.6h.01M249.9 359.5h.01M245.3 338.6h.01M150.6 354.6h.01M71.4 361.2h.01M172.1 356.9h.01M185 355.4h.01M190.1 350.9h.01M137.4 352.9h.01M96.4 337h.01M145.3 345.3h.01M230.2 365.7h.01M147.3 342h.01M202.5 350.4h.01M141.8 351.9h.01M114.9 317.2h.01M119.9 343.5h.01M182.4 367h.01M248.7 368.8h.01M192.1 336.8h.01M116.3 348.1h.01M252.1 353.4h.01M248.9 366.6h.01M255.1 356.7h.01M66.9 355.2h.01M111.8 354.1h.01M239.1 336.2h.01M235.2 366.1h.01M86.6 321.8h.01M181.4 320.4h.01M75.2 342.8h.01M84.1 338.3h.01M174.1 344.3h.01M248.9 361.7h.01M87.4 369.9h.01M207.1 347.8h.01M206.8 347.5h.01M132.3 350.2h.01M97.4 333.5h.01M142.9 317.9h.01M266.6 370.3h.01M72.9 329.7h.01M99.8 363.8h.01M252.1 363.1h.01M77 371.2h.01M75.4 324.5h.01M175.7 353.7h.01M130.7 310.7h.01M224.9 343.8h.01M127.5 349.9h.01M144 355.5h.01M187.8 340.8h.01M172.6 359.6h.01M161.6 366.9h.01M241.5 356.8h.01M62.3 326.9h.01M218 354.2h.01M124.7 345.6h.01M159.2 351.3h.01M114.1 368.7h.01M265.6 350.6h.01M108 344h.01M259.3 365.5h.01M126.9 365.1h.01M199.6 350.9h.01M120.7 348.7h.01M63.1 344.1h.01M93.6 357h.01M140.5 338.8h.01M174.2 363.5h.01M231.7 370.3h.01M162.9 350.6h.01M168.1 364h.01M227.5 350.8h.01M108.4 302.1h.01M103.4 369.4h.01M148.8 347.6h.01M175.4 350.4h.01M189.1 348.1h.01M87.8 346h.01M126.1 337.5h.01M235.3 359.4h.01M169.1 373.1h.01M174.9 338h.01M240.3 353.8h.01M63 343h.01M122 366.3h.01M238.9 343.8h.01M265.9 322.6h.01M76.8 367.4h.01M153.9 348.2h.01M168.5 349.6h.01M129.1 354.8h.01M96.7 350.3h.01M77.9 358.8h.01M129.9 360.7h.01M109.9 344.8h.01M168.4 354.6h.01M109.6 360.7h.01M114.7 373.2h.01M72.1 359.1h.01M182.2 357.5h.01M238.4 325.6h.01M199.4 335h.01M98.2 363h.01M204.2 340.9h.01M205.9 320.9h.01M178.8 354.1h.01M93.1 347.6h.01M214.5 363.5h.01M171.5 358.5h.01M81.4 334h.01M206.6 331.7h.01M202 363.9h.01M266.9 356.4h.01M212 353.6h.01M112.1 341h.01M222.4 357.2h.01M76.5 366h.01M252.6 357.9h.01M193.5 349.3h.01M91 338h.01M212.2 355.5h.01M102.1 346h.01M89.6 358h.01M69 344.6h.01M161.3 371.3h.01M245.2 342.6h.01M216.5 315.7h.01M180.7 340.5h.01M181.9 348.7h.01M113.7 373.7h.01M132.3 333.8h.01M187.3 354.2h.01M69.6 356.2h.01M149.2 333.8h.01M134.1 374.8h.01M96 355.4h.01M119 353.5h.01M119.4 330.5h.01M179.8 351.3h.01M169.6 357.5h.01M115 356h.01M80.9 325.8h.01M133.5 354.8h.01M216.5 363.3h.01M95.1 371h.01M87.8 359.6h.01M268.4 341.3h.01M116.4 365.3h.01M132.9 328.8h.01M163.6 352.3h.01M132.3 365.6h.01M163.2 340.5h.01M203.7 364h.01M89.6 331.5h.01M100.6 305.3h.01M146.7 311.3h.01M111.5 345h.01M176.3 350.9h.01M205.4 342.1h.01M259 347.5h.01M63.6 362.3h.01M75.4 373.2h.01M69 348h.01M226.4 361.2h.01M138.3 354.1h.01M181.7 331.5h.01M258.1 357.7h.01M93.4 325.1h.01M167.7 363.6h.01M78.8 332.6h.01M271.6 360.8h.01M83.7 354.5h.01M175.8 356.4h.01M85.8 334.2h.01M153.1 363.5h.01M87.5 342.6h.01M73.1 374.6h.01M213.2 352.3h.01M133.4 344.9h.01M127.4 304.9h.01M153.2 351.5h.01M119.2 373.1h.01M64.3 354.7h.01M250 355.6h.01M237.4 365.2h.01M64.3 338.2h.01M145.8 364.2h.01M219.7 361.2h.01M98.9 356.5h.01M94 358.5h.01M264.1 348.3h.01M62.2 350.4h.01M124.3 339.5h.01M83.4 311.9h.01M80.3 350.8h.01M196.6 366.6h.01M201.6 347.2h.01M164.1 367.4h.01M78.8 356h.01M152.8 358h.01M165.3 312.7h.01M162.6 338.1h.01M89.6 344.9h.01M172.7 337.9h.01M112.5 334.5h.01M164.3 333.2h.01M151.8 347.8h.01M99.3 330.5h.01M228.6 324.7h.01M72.7 360.1h.01M143.3 356.9h.01M227.4 325.8h.01M170.8 327.5h.01M184.4 366.3h.01M103 356.1h.01M107.6 366.7h.01M82.7 301.8h.01M172.7 365.6h.01M94.6 370.7h.01M234.3 353.6h.01M118.9 365.1h.01M179.6 308.7h.01M134.3 353.8h.01M218.8 356.8h.01M141 331.8h.01M166.3 347.6h.01M113 355h.01M252.6 361.8h.01M63.3 361.4h.01M136.2 356.8h.01M180.8 368.9h.01M205.9 355h.01M62.4 343.6h.01M91.5 371.5h.01M77 360.8h.01M185.7 369.2h.01M108.7 344.1h.01M162.6 359.7h.01M128.4 353.6h.01M207.2 369h.01M215.2 366.3h.01M72.2 340h.01M133.6 334.6h.01M126.8 308.2h.01M169.6 354.1h.01M109.8 347.7h.01M268.9 340.5h.01M83.5 346.8h.01M196.1 343.2h.01M124 358.3h.01M212.1 364.8h.01M149.8 370.7h.01M196.2 349.4h.01M197.8 343.8h.01M157 362.6h.01M88.9 365.1h.01M262.4 358.2h.01M115.1 346.9h.01M144.4 366.7h.01M125.6 346.2h.01M226.4 369.9h.01M163.1 358.5h.01M149.1 321.3h.01M88.3 340.1h.01M228.4 349.9h.01M83.6 358.5h.01M102.2 350.9h.01M81.2 348h.01M133.3 340.3h.01M145.3 337h.01M82.3 374.4h.01M124.7 340.8h.01M232.3 360.6h.01M243.5 351.5h.01M128.9 361.2h.01M150.5 364.2h.01M190.6 363.8h.01M189.6 358.2h.01M112.9 342.7h.01M230.6 344.7h.01M243.9 338h.01M71.5 345.3h.01M62.2 357.8h.01M183.3 356.5h.01M174.3 366.4h.01M149.5 362h.01M203.8 326.7h.01M179.2 317.4h.01M139.5 311.7h.01M212.3 332.4h.01M227.9 356.9h.01M194.9 369.8h.01M67 361.9h.01M200.1 368.1h.01M208.5 351.1h.01M86.6 303.2h.01M145.3 368.4h.01M239.3 345.9h.01M163.3 362.6h.01M122 361.4h.01M117 361h.01M174.9 361.9h.01M214.6 361.2h.01M109 344.4h.01M142.1 331.5h.01M82 363.3h.01M153.2 323.4h.01M178.1 369.9h.01M136.6 369.3h.01M95.8 352.9h.01M143.6 336.1h.01M134.9 362.1h.01M198.4 368.1h.01M180 369.3h.01M101.8 329.5h.01M85.1 347.4h.01M180 344h.01M150.6 368.4h.01M70.5 321.5h.01M262.9 331.5h.01M110.7 352.9h.01M141.5 357.3h.01M152.1 354.4h.01M141.2 343.2h.01M214.8 348.6h.01M159.7 338.4h.01M169.6 358.5h.01M105.5 310.2h.01M111.3 340.4h.01M69.9 355.1h.01M81.2 328.7h.01M97 342.6h.01M132.1 297h.01M95.4 363.2h.01M74.4 350h.01M89.1 331.2h.01M106 341.5h.01M96.3 323.4h.01M106.7 342h.01M240 347h.01M261.6 369.4h.01M261.1 355.5h.01M66.1 357.2h.01M146.1 357.4h.01M173.4 359.4h.01M142.6 369.9h.01M186.9 344.3h.01M162.7 338.6h.01M116 354h.01M95.6 352.7h.01M232.1 365.8h.01M99.5 360.3h.01M244.4 371h.01M84.7 339.9h.01M69.6 352.4h.01M67.5 336.9h.01M186.6 324.2h.01M131.4 373.4h.01M143.9 364.5h.01M117.9 338.4h.01M238.6 373.8h.01M226.3 351.8h.01M225.3 363.6h.01M246.8 351.8h.01M146.4 364.4h.01M61.5 341h.01M81.2 310.1h.01M148.3 351.7h.01M232.7 343h.01M119.1 344.8h.01M140.5 360.4h.01M85.5 317.7h.01M98.4 365.2h.01M261.5 346.6h.01M249.4 352.2h.01M239.2 333.2h.01M169.2 352.2h.01M104.3 356.1h.01M92.8 354.7h.01M85.3 310.9h.01M161.8 359.8h.01M238.8 347.7h.01M202.2 356.7h.01M124.8 353.6h.01M98.4 362.9h.01M105 338.2h.01M84.2 329.6h.01M118.2 356.3h.01M89.8 339.5h.01M258 342h.01M120.2 333h.01M245.9 371.3h.01M210.9 348.8h.01M95.9 359h.01M119.8 350.7h.01M236.4 371.9h.01M134.6 356.5h.01M117.6 328.8h.01M228.8 353.3h.01M141.1 350.3h.01M222.7 370.4h.01M90.4 340.3h.01M123.7 348.5h.01M163.5 369.8h.01M104.7 346h.01M118.8 346.4h.01M254 330.9h.01M181 371.9h.01M94.4 363.3h.01M154.8 349h.01M157.7 308.5h.01M197.6 348.5h.01M163.5 342.1h.01M77.3 361.9h.01M235.9 360.1h.01M197.2 368.8h.01M115.8 365.8h.01M180.5 357.2h.01M171 361.9h.01M207.4 330.2h.01M174.7 335.5h.01M226.2 333h.01M99.2 357.8h.01M84.1 332.1h.01M154.2 361.6h.01M84 354.5h.01M83 358.7h.01M153.9 338.2h.01M166.5 357h.01M234.7 367.6h.01M79 367.9h.01M238.6 367.2h.01M68.7 340h.01M181.4 305.2h.01M169.9 353.7h.01M180.3 364.7h.01M99 367.2h.01M197.6 341.3h.01M71.7 359.5h.01M112.5 330.2h.01M188.4 366.6h.01M122.5 364.7h.01M131.8 325.8h.01M88.4 365.2h.01M182.1 343.9h.01M200.7 358.9h.01M92.1 346.9h.01M91.9 370.2h.01M236.5 362.2h.01M159.7 346.6h.01M129.5 353h.01M62 354.3h.01M190.3 337.2h.01M186.6 353.6h.01M158.6 352.9h.01M232.6 351.6h.01M175.3 326.8h.01M173.5 307h.01M249.5 346.9h.01M210.6 352.6h.01M181 372.1h.01M62.6 344.5h.01M170.7 343.9h.01M224 351.2h.01M241.6 358.5h.01M208.2 347h.01M69.1 374.6h.01M187.5 346.5h.01M225.3 364.8h.01M268.7 368h.01M116.8 353.4h.01M213.8 338.1h.01M96 355.6h.01M65.6 354.5h.01M223.1 365.9h.01M236 365.2h.01M151.6 334.2h.01M235.1 366.4h.01M167.3 368.7h.01M164.2 333.1h.01M126.7 321.6h.01M68.2 321.8h.01M61.9 365.9h.01M85.6 364.3h.01M258.6 363.5h.01M231.2 352h.01M247.4 354.9h.01M208.8 346.4h.01M229.3 372h.01M241.1 366.2h.01M76.3 345.4h.01M200.4 345.1h.01M203.6 370.4h.01M85.5 362.4h.01M79.2 337.6h.01M228 354h.01M92.6 328.6h.01M237.1 374.1h.01M108.1 347.1h.01M172.7 326.6h.01M153.1 349.3h.01M84.9 364.2h.01M206 328.2h.01M98 325.6h.01M144.2 344.9h.01M206.9 352.4h.01M66.8 355.9h.01M83.1 359.8h.01M108.6 352.7h.01M81 350h.01M136.1 331.2h.01M139.6 367.7h.01M131 325h.01M207.2 366.3h.01M187.9 334.8h.01M81.9 305.2h.01M132.8 341h.01M223.7 369.8h.01M102.2 353.5h.01M203.3 367.3h.01M201.8 317.6h.01M168 369.2h.01M96.4 320.2h.01M138.7 346.9h.01M268.1 361.9h.01M83.2 296.4h.01M107.4 332.9h.01M142.6 344.9h.01M189.9 338.5h.01M104.1 370h.01M88 347.3h.01M69.6 353.4h.01M173.1 367.9h.01M174.9 352.8h.01M101.3 360.3h.01M149.4 355.6h.01M119.2 352.8h.01M127 366.1h.01M107.4 330.8h.01M107.4 320h.01M151.1 346.6h.01M169.2 371h.01M242.7 352h.01M79.4 310.8h.01M193.4 363.5h.01M151.2 361.1h.01M129.7 341h.01M132.6 342.6h.01M93.9 341.1h.01M155.1 351.7h.01M70.6 372.6h.01M137.1 359.7h.01M135.1 339.1h.01M187.7 366h.01M112.2 346.5h.01M93 364.2h.01M150.7 351.8h.01M188.7 361.4h.01M250.3 372.3h.01M97.9 348.8h.01M156.4 328.2h.01M78.4 346.5h.01M224.2 363.3h.01M260.9 363.2h.01M62.9 345.9h.01M204.3 358.4h.01M230 363.9h.01M80.7 365.5h.01M250.9 358.2h.01M215.4 368.2h.01M173.4 367.2h.01M269.2 333.9h.01M197 341h.01M65 341.2h.01M63.2 328.8h.01M148.8 349.7h.01M67.4 321.8h.01M203.4 365.7h.01M120.1 303.7h.01M200.2 351.4h.01M187.1 346.5h.01M174.8 332.7h.01M142 335.4h.01M193.8 368.3h.01M123.9 374h.01M190 354.6h.01M196 356.5h.01M191.9 325.3h.01M139.5 347.3h.01M62 358.2h.01M241.5 352.1h.01M177.6 356.9h.01M167.6 350.8h.01M242 370h.01M79.7 368h.01M198.8 353.9h.01M228 358.2h.01M148.1 352.8h.01M233.3 354.8h.01M243 355.1h.01M213.8 355.9h.01M84.4 334.7h.01M143.9 312.6h.01M168.7 362h.01M242.3 340.7h.01M91 350.3h.01M67.3 356.1h.01M147.5 339.8h.01M92.1 326.1h.01M221.7 360.5h.01M105.3 355h.01M206.6 361h.01M185.8 350.1h.01M245.2 345.6h.01M189.4 343.6h.01M274 354.1h.01M170.3 354.1h.01M262.4 366h.01M101.4 364.1h.01M103.7 339h.01M183.3 356.9h.01M204.5 364h.01M74.6 314h.01M252.2 342.9h.01M206.6 348.6h.01M148.5 364h.01M91.1 347.9h.01M188.1 341.3h.01M186 353.5h.01M74.6 354.9h.01M100.3 350.2h.01M228.5 355h.01M211.1 370.1h.01M153 373.7h.01M190.6 363.1h.01M246.9 341.1h.01M211.3 350.2h.01M129 348.1h.01M197 362.8h.01M144.9 355.9h.01M117.4 358.1h.01M219.4 349h.01M196.5 358.7h.01M174.1 342.3h.01M67.5 338.2h.01M206.9 329.4h.01M133.1 361.2h.01M190.5 341.9h.01M82.7 352.3h.01M224.5 343.6h.01M164.3 358.1h.01M157.6 325.3h.01M167.5 341.3h.01M215.2 364.4h.01M230.9 316.3h.01M145.8 366.8h.01M167.3 351.1h.01M268 370.8h.01M123.9 340.2h.01M202.9 353.4h.01M128.9 355.3h.01M191.6 354.8h.01M208.3 346.1h.01M187.6 368.5h.01M89.9 342.1h.01M237.7 321.4h.01M200.9 351.6h.01M176.3 308.4h.01M248.8 350.8h.01M176.9 371.8h.01M163.2 350.9h.01M123.3 358.2h.01M182 345.1h.01M181.8 355.9h.01M260.1 343.4h.01M150.6 338.4h.01M163.2 330.5h.01M203.3 351.7h.01M120.8 328.6h.01M107.4 342.3h.01M73.9 357.4h.01M209 356.3h.01M140.7 360.8h.01M192 371.7h.01M177.3 362.7h.01M173.7 368.2h.01M150.2 338.5h.01M123.9 343.3h.01M138.2 352.9h.01M118.7 334.4h.01M155.8 358.1h.01M227.1 347.7h.01M175.9 358h.01M209.7 359.3h.01M119.6 331.3h.01M135.8 365.3h.01M66.9 352.9h.01M205.5 329.9h.01M132 315.2h.01M93.8 371.2h.01M195.2 336.3h.01M179.7 343.2h.01M196 364h.01M188.4 339.6h.01M106.8 340.4h.01M226.5 365.9h.01M243.7 340.7h.01M97.9 302.7h.01M142.7 341.1h.01M84.7 330.3h.01M61.6 355.9h.01M100.9 359.6h.01M160.4 359.3h.01M209.5 364.8h.01M116.8 368.8h.01M185.7 339.3h.01M165.7 340.8h.01M146.5 349.5h.01M203.4 329.5h.01M170 319.8h.01M139.4 346.9h.01M116.4 339.6h.01M222.5 346.7h.01M101 359.2h.01M121.1 364.1h.01M171.1 302.8h.01M235.8 362.6h.01M106.9 316.8h.01M117.9 350.5h.01M189 361.5h.01M164.5 357h.01M104.5 369.5h.01M69.9 352.6h.01M180.6 349.2h.01M244.9 344.1h.01M180.3 349.5h.01M175.1 344.2h.01M198.2 351.6h.01M115.7 356.2h.01M258 361.4h.01M74.5 347.9h.01M111.7 340.8h.01M161.5 348.8h.01M210.4 327.2h.01M222.6 350.7h.01M101.7 370.1h.01M84.4 370.5h.01M65.9 324.8h.01M121.5 341.9h.01M63.6 348.4h.01M269.6 362.8h.01M84.8 343h.01M99.1 369.5h.01M68.6 353.5h.01M177.2 368.4h.01M194.1 354.4h.01M165.2 317.4h.01M149.3 305.9h.01M258.6 331.7h.01M62.2 331.3h.01M107.8 324h.01M210.8 357.9h.01M106.2 354.4h.01M192.7 318.1h.01M163.7 355.6h.01M176.6 360.8h.01M194.6 349.8h.01M184.6 360.7h.01M182.5 353.5h.01M78.5 362h.01M213.4 335.5h.01M137 345.8h.01M237.3 351h.01M228.6 353.1h.01M140.4 337.2h.01M79.9 363.6h.01M138.1 301.9h.01M182.7 364.6h.01M236.4 363.1h.01M126.6 344.9h.01M149 371.2h.01M87.7 317.6h.01M164.4 351.8h.01M222.9 354.5h.01M73.5 340.7h.01M109.9 371.6h.01M257.8 371.2h.01M71.2 336.7h.01M203.1 353.8h.01M73.7 350h.01M206.4 364h.01M273.4 340.9h.01M109.5 364.4h.01M186.5 369.6h.01M148 301.5h.01M70 348.1h.01M213 330.9h.01M91.2 350.5h.01M80.7 341.4h.01M94 336h.01M69.1 344h.01M205.9 369.7h.01M153.6 351.8h.01M186.4 368.5h.01M64.7 345.3h.01M107.6 354.1h.01M73.8 355.9h.01M250.6 374.8h.01M85.8 372.7h.01M219.1 349.5h.01M124.1 332.3h.01M105.1 306.2h.01M253.9 361.3h.01M207.6 364.7h.01M109.3 312.3h.01M247.6 340.3h.01M230.6 366.3h.01M110 339.4h.01M148.5 340.4h.01M66.2 349.9h.01M203.9 313.3h.01M128 341.5h.01M136.4 365.7h.01M158.7 370.5h.01M94.3 330.4h.01M100.9 366.3h.01M239 347.5h.01M141.2 360.6h.01M80.8 360.3h.01M232.4 372.4h.01M71.2 346.4h.01M154.4 335.9h.01M66.7 339.3h.01M86.1 304.8h.01M93.7 348.5h.01M129.8 348.8h.01M176.8 362h.01M81.6 325.4h.01M153.7 368h.01M86.3 338.9h.01M166.3 372.4h.01M72.5 354.1h.01M139.8 302.1h.01M63.1 311.2h.01M182.5 369.4h.01M236.1 354.9h.01M133.8 374.2h.01M183.9 340.9h.01M204.8 370.3h.01M63.7 373.2h.01M112.5 363.7h.01M196.8 365.6h.01M227.3 333.4h.01M100 331.3h.01M61.9 361.4h.01M65.7 328.9h.01M190.7 353.4h.01M273.7 361.7h.01M169.3 374.5h.01M77.5 338h.01M197 334.7h.01M93.1 368.1h.01M238.2 367.8h.01M102 364.1h.01M181 345.6h.01M89.8 326.8h.01M250.5 362.9h.01M84.2 338.2h.01M246.1 354.9h.01M189.6 352h.01M178.8 334.7h.01M254 358.5h.01M97.9 298.7h.01M185.1 362h.01M220.3 368h.01M100.7 349.8h.01M246.1 345.4h.01M144.8 353h.01M173.3 358h.01M113.1 348.3h.01M151.6 337.1h.01M233.5 356.1h.01M213.7 358.9h.01M160.2 354.5h.01M109.6 360h.01M115.6 360.9h.01M96 333h.01M87.6 333.9h.01M149.6 329.8h.01M204.3 354.4h.01M101.8 364.6h.01M175.4 357.9h.01M156.5 349.4h.01M180.4 354.6h.01M247.2 346.6h.01M233.5 338.9h.01M252.4 357.5h.01M73.9 351.8h.01M62.4 372.8h.01M256.7 359.6h.01M136 355.4h.01M83.3 362.5h.01M201.2 351.3h.01M98.3 338.8h.01M165.6 349.4h.01M168.9 341.4h.01M138 329h.01M115.3 360.4h.01M173 346.5h.01M146.5 354.4h.01M108 332.2h.01M93.3 365.1h.01M206 357.1h.01M89.1 362.7h.01M146.2 353.9h.01M196.7 307.5h.01M191.5 364.4h.01M156.4 355.1h.01M185.9 330.1h.01M104.6 359.4h.01M196.8 366.9h.01M226.8 363.8h.01M80.7 362h.01M106.7 334.4h.01M175.5 364.9h.01M191.6 337.8h.01M87.4 328.3h.01M222.5 341.3h.01M70 360.8h.01M199.3 314.1h.01M100.2 353.3h.01M192.5 348.4h.01M170.1 353.7h.01M170.3 357.2h.01M163.5 333.5h.01M229.1 369.5h.01M163 335.2h.01M239.4 365h.01M124.6 347.7h.01M126.1 352.8h.01M90.1 322.3h.01M67.4 329.1h.01M132.4 351h.01M112.7 315h.01M145.8 337.8h.01M152.4 359.7h.01M153.6 359.4h.01M238.7 326.5h.01M77.1 353.6h.01M277.4 344.6h.01M99.8 369.7h.01M175.2 364.7h.01M131.3 364h.01M125.5 344.9h.01M191 338.8h.01M201.4 356.2h.01M233.7 344.4h.01M135.5 339.7h.01M238.1 356.4h.01M179.7 342.6h.01M135.4 351h.01M234.6 340.7h.01M195.7 354.7h.01M181.5 364.2h.01M105.5 366h.01M239.6 354.8h.01M133.3 366.6h.01M151.6 368.5h.01M73.4 344.3h.01M190.2 320.2h.01M257.4 355.8h.01M93.5 324.6h.01M180.3 354.6h.01M154 357h.01M183.8 361h.01M176.9 350.9h.01M171.7 349h.01M92.1 367.1h.01M215.9 343.7h.01M169.6 348.5h.01M187.6 364.9h.01M197.3 374.1h.01M184.7 331.3h.01M175.4 356h.01M202.2 358.4h.01M205.3 359.7h.01M138.2 326.6h.01M136.3 336.7h.01M133.3 359.7h.01M110 318.8h.01M141.3 347.7h.01M69.4 364.2h.01M197.1 355.5h.01M109.2 347.1h.01M237.3 354.6h.01M146.3 316.1h.01M167.3 344.5h.01M241.1 354.9h.01M191.2 353.3h.01M83.7 338.9h.01M93.7 369h.01M100.1 328.3h.01M135.9 317.2h.01M230.6 369.3h.01M255.5 351.3h.01M111.9 357.4h.01M144 351.8h.01M87.3 361.8h.01M214.7 358.4h.01M63.5 340.1h.01M127.1 357.8h.01M156.5 360.4h.01M104.3 372.6h.01M111.4 345.4h.01M112.2 341.4h.01M270.5 356.8h.01M191.5 344.9h.01M147.3 338.5h.01M222.6 335h.01M194.9 352.6h.01M265.4 368.5h.01M106.1 351.6h.01M71 340.7h.01M98.5 338.1h.01M209.4 343.8h.01M142.4 373.1h.01M196.9 354.8h.01M190.1 338.3h.01M269.3 337h.01M64.5 316.2h.01M138.6 342.5h.01M213.2 338.7h.01M142.3 358.8h.01M122.7 304.8h.01M64.5 339.8h.01M151.6 302.3h.01M88.7 362.7h.01M73.9 360.4h.01M191.2 328.9h.01M209 357.9h.01M66.4 307.9h.01M233.9 350.7h.01M215 348.9h.01M148.4 358.8h.01M202.5 354.6h.01M66.8 322h.01M112.4 317.3h.01M144.3 356.5h.01M251.1 372.3h.01M159.7 352.7h.01M219.2 356.3h.01M94.7 333.6h.01M119.8 370.4h.01M109.2 357.7h.01M235.7 356.8h.01M67.5 335.2h.01M101 351.9h.01M137 359.7h.01M220 337.1h.01M267.6 359.6h.01M176.7 356.9h.01M196.8 338.9h.01M108.7 353.2h.01M257.2 365.5h.01M252 362.8h.01M208.1 363.1h.01M188.8 334.6h.01M211.4 363.9h.01M142.7 320h.01M202 359.6h.01M154.8 364.6h.01M135.7 345h.01M148.2 351.8h.01M273.1 355.3h.01M210.7 364.9h.01M223.3 367.8h.01M212.5 368.1h.01M97.6 364.4h.01M130.5 345.1h.01M265.2 335.4h.01M249 348.3h.01M147.5 342h.01M138.6 361.9h.01M247.8 341.7h.01M262.2 354.4h.01M61.6 364.1h.01M73.4 335.4h.01M175.4 358.3h.01M231.8 361.2h.01M80.2 368.7h.01M226.5 335.2h.01M135.2 358.7h.01M75.3 355h.01M95.8 327.8h.01M98.1 345.3h.01M129 341.6h.01M156.8 337.7h.01M199.3 308.8h.01M214.7 334.6h.01M165.9 374.3h.01M159.8 356.6h.01M232.3 347.9h.01M74.6 336.6h.01M234.4 361.9h.01M105.5 303.9h.01M96.7 341.1h.01M211.1 350.4h.01M101.4 355h.01M157.9 373.7h.01M141.8 361.6h.01M237 370h.01M153 355.3h.01M227.4 358h.01M172.6 362.2h.01M221.6 346.4h.01M248 351.3h.01M137.5 361.2h.01M99 364.2h.01M144.6 344.4h.01M132.5 336.2h.01M232.1 325.7h.01M66.9 329.8h.01M201.2 333h.01M226.5 316.6h.01M74.7 320.6h.01M217.6 362.5h.01M155.1 334.1h.01M242.4 334.3h.01M133.3 357.8h.01M213.4 335.3h.01M221.9 367.2h.01M118.4 357.4h.01M82.3 331.1h.01M110.5 337.6h.01M228.7 360.9h.01M73.2 334.6h.01M67.9 347.1h.01M212.9 351.8h.01M141.1 316.6h.01M199.2 368.3h.01M198.6 343h.01M170.7 352.7h.01M64.5 325.4h.01M259.7 365.3h.01M169 363h.01M84.5 360.9h.01M73.6 364.1h.01M173.4 332.6h.01M121.2 344.2h.01M269.8 363.9h.01M117.3 372.7h.01M187.5 332.4h.01M195.8 361.9h.01M94.7 343.5h.01M209 365h.01M101.8 371h.01M113.3 300.7h.01M124.1 339.9h.01M257.8 362.6h.01M175.2 354.1h.01M107.1 367.6h.01M123.7 351h.01M240.4 349.9h.01M85.6 373.9h.01M85.1 330h.01M96.2 341.9h.01M140.4 359.3h.01M101.9 371.5h.01M133.8 345h.01M133.9 301.2h.01M202.5 362.3h.01M206.7 366.9h.01M173 344.5h.01M137.8 330.3h.01M202.1 341.9h.01M161.8 362.2h.01M148.9 342.1h.01M192.6 327.2h.01M258.4 352.4h.01M126.9 363.4h.01M127.8 371.4h.01M95.6 351.9h.01M175.9 328.5h.01M100.6 368.4h.01M191.3 352.4h.01M224.5 355.1h.01M157.9 366.1h.01M114.3 352.4h.01M234.7 344.8h.01M221 368.9h.01M107.8 349.5h.01M62.2 338.9h.01M103.7 358.7h.01M72.6 349.7h.01M94 351.8h.01M220.5 342.4h.01M87 346h.01M219.5 363.8h.01M130.4 343.5h.01M73.6 347.2h.01M220.5 363.8h.01M188 355.7h.01M114.2 366.7h.01M223.6 356.1h.01M105.7 367.1h.01M105.5 342.1h.01M101.1 360.3h.01M85.3 343.3h.01M206.9 351.5h.01M175.8 356.2h.01M275.2 374.6h.01M93 360.7h.01M135.5 305h.01M144.7 352.2h.01M250.1 351.3h.01M74 348h.01M201.1 339h.01M182.1 369.9h.01M187.7 366.8h.01M80.6 360.1h.01M140.8 335.6h.01M165.5 358.3h.01M182.8 330.1h.01M189.9 350.3h.01M73.9 370.1h.01M115.6 359.6h.01M122.3 358.7h.01M169.3 363.8h.01M237.6 361.9h.01M159.7 347.5h.01M61.8 357.2h.01M82.4 325.5h.01M89.2 342.5h.01M150.1 371.7h.01M108.5 317.5h.01M230.9 365.4h.01M106 338.5h.01M75.4 352.8h.01M224.6 370.6h.01M86.4 338.3h.01M95 346.5h.01M193.2 332.7h.01M117.1 368.1h.01M255.2 366.2h.01M225.7 362.8h.01M128.6 343h.01M183 361h.01M221.7 340.9h.01M217.9 341.7h.01M244.8 349.8h.01M68.1 366.6h.01M175.8 325.3h.01M197.7 322.9h.01M200 362.4h.01M128.3 320.5h.01M62.7 313.7h.01M156.8 364.1h.01M117.4 355.1h.01M156.7 349.9h.01M108.6 353.3h.01M127 355.6h.01M165.3 341h.01M234.4 326.7h.01M86.6 357.7h.01M111.6 372.9h.01M153.1 368.2h.01M89.4 359.7h.01M107.9 329.1h.01M169.2 366.3h.01M181.9 369.7h.01M68.1 359.8h.01M249.6 353.1h.01M147.2 355.9h.01M257.8 352.4h.01M187.5 371.3h.01M86.5 358.1h.01M63.1 328.1h.01M124.5 359.9h.01M84.8 329.2h.01M130.9 344.1h.01M198.2 365.3h.01M180.9 361h.01M189.9 365.4h.01M97.5 367.4h.01M162.7 360.6h.01M207.6 368.7h.01M66.3 353.9h.01M69.3 350.3h.01M202.1 333.1h.01M139.2 342.6h.01M212.3 349.6h.01M105.1 352.9h.01M262.2 354.9h.01M121.9 326.3h.01M189.8 362.1h.01M149.5 338.4h.01M120.5 339.2h.01M228.4 334.7h.01M153 328.7h.01M230.5 353.1h.01M245.1 328.3h.01M174.2 359.3h.01M109.5 337.5h.01M92.3 307.1h.01M98.3 304.1h.01M207.6 357h.01M103.5 345.8h.01M91.7 365.2h.01M67.2 351.1h.01M205.7 358.2h.01M142.4 369.7h.01M139.3 372.3h.01M140.1 340.4h.01M207.8 323.6h.01M156.2 337.7h.01M190 332.6h.01M86.7 372.2h.01M121.5 360.6h.01M101.7 358.3h.01M256.5 364.5h.01M79.2 357.5h.01M100.8 315.1h.01M212.5 363.4h.01M228 367.3h.01M147.2 335.7h.01M238.2 372.1h.01M86.8 313h.01M157.7 353.6h.01M229.7 371.2h.01M132.6 368.7h.01M119.6 355.8h.01M84.2 350.5h.01M165 352.6h.01M65.8 333.7h.01M93.3 335.1h.01M140 341.9h.01M84.7 361.7h.01M174.2 358.5h.01M156.4 349.9h.01M181.1 365.2h.01M171.7 344.6h.01M123.1 337.2h.01M92.1 349.1h.01M84.1 370h.01M170.2 359.6h.01M197.1 335.9h.01M176.9 349.5h.01M66.8 341.5h.01M263 374.8h.01M155.2 344.5h.01M80.6 347.3h.01M126.4 300.7h.01M212.2 346.9h.01M158.2 331.3h.01M129.5 318h.01M141.4 360h.01M62 358.1h.01M153.7 325.1h.01M176.3 352.9h.01M255 346.9h.01M111.2 368.9h.01M94.2 339.7h.01M72 302h.01M160.9 338.1h.01M256.5 372.8h.01M100 346.5h.01M119 300.1h.01M236.9 345.7h.01M208.4 371h.01M240.9 364.8h.01M116 342.8h.01M123.6 374.2h.01M109.3 362.8h.01M140.6 356.8h.01M265.4 338.6h.01M199.8 371h.01M126.8 331.8h.01M134.7 354h.01M219.8 366.5h.01M167.8 357.7h.01M173 369.4h.01M88.8 334.4h.01M110.6 333.8h.01M258.2 358h.01M90.6 366.8h.01M118 359.4h.01M90.5 320.1h.01M169.4 357h.01M66.1 347.9h.01M138.2 338.5h.01M193.3 348.6h.01M182.2 323.7h.01M130.5 347.6h.01M212.2 339.8h.01M188.6 344.9h.01M197.8 351h.01M115.8 343.2h.01M150 329.7h.01M84 336.3h.01M118.5 336.4h.01M276.8 341.7h.01M198.2 358.4h.01M87.6 316.4h.01M167.4 364.2h.01M146.9 355.2h.01M179.7 355.6h.01M102.7 348.6h.01M219.7 351.4h.01M237.4 354.9h.01M108.6 355h.01M180.3 345.7h.01M239.7 360.3h.01M199.4 373.3h.01M102.2 336h.01M134.6 353.1h.01M171.5 357.4h.01M230.3 346.7h.01M245.9 341.6h.01M72.4 334.3h.01M76.3 304.6h.01M147.8 331.9h.01M75.6 364.2h.01M167.4 341.4h.01M97.3 342.4h.01M120.7 348.5h.01M220.5 324h.01M103.4 338.3h.01M195.8 359.6h.01M120.8 346h.01M268.6 342.2h.01M73.6 331.6h.01M67.9 371.3h.01M194.2 357.1h.01M142.9 353.2h.01M92.5 330.4h.01M145.4 336h.01M201.5 347.3h.01M131.1 340.3h.01M126.6 333.7h.01M150.8 366.6h.01M126.7 361.8h.01M117.5 350.7h.01M176.6 323.6h.01M159.8 337.2h.01M61.7 341.2h.01M167.2 366.5h.01M258.7 364h.01M226 353.3h.01M129.8 366.2h.01M265.8 357.7h.01M146.3 349.9h.01M125.7 368.4h.01M213.4 363.8h.01M205.8 368.7h.01M258.9 330.3h.01M226.9 345.5h.01M230.1 333h.01M237.3 364.4h.01M219.6 355.9h.01M181.3 356.1h.01M234.6 351.1h.01M75.6 331.7h.01M107.2 347.9h.01M84.8 354.2h.01M80.2 348.8h.01M114.6 363.3h.01M230.4 346.6h.01M222.5 344.1h.01M111.2 341.4h.01M100.6 367.2h.01M181.2 350h.01M198.4 355.1h.01M128.8 362.6h.01M168 324.1h.01M204.3 343.6h.01M117.5 367.3h.01M104.3 299.6h.01M236.2 354.6h.01M139.4 354.4h.01M184 346.7h.01M147 345.8h.01M78.4 373.4h.01M125.4 349.4h.01M71.7 350.3h.01M271.4 364.8h.01M70.6 357h.01M72.7 333.2h.01M149.8 358.2h.01M150.1 352.2h.01M226 368.5h.01M263.3 368.4h.01M164.1 349.4h.01M166.2 345.1h.01M153.1 373.4h.01M88.8 319.5h.01M157.3 364.8h.01M133.1 344.4h.01M71.8 334.4h.01M94.9 354.9h.01M126 346.1h.01M113.4 338h.01M89.7 334.9h.01M182.7 346.5h.01M75.7 309.7h.01M75.6 371.2h.01M110.5 330.3h.01M82.6 353.4h.01M172.8 357.8h.01M224.3 340.8h.01M179 350.9h.01M110.1 340.2h.01M96.2 352.7h.01M176.7 350.5h.01M118.8 329.2h.01M141.9 332.8h.01M199.5 351.3h.01M199.8 359.3h.01M165.7 339.1h.01M153.3 300.9h.01M201.6 364.5h.01M101.1 351.6h.01M161.6 352.4h.01M104.7 337.5h.01M79 339.3h.01M174.1 344.8h.01M192.1 357.9h.01M200.5 363h.01M212.2 330.2h.01M94.9 343.3h.01M220.4 356.4h.01M150.5 370.9h.01M161.7 340.7h.01M123.1 303.8h.01M236 344.1h.01M127.8 360.5h.01M168.3 333.7h.01M111 341.2h.01M166.3 337.6h.01M63.3 366.5h.01M253.5 355.8h.01M134.7 365.4h.01M135.1 372h.01M110.3 340.6h.01M188.7 363.2h.01M218.5 366.2h.01M164 375h.01M94 341.2h.01M81.9 354.6h.01M129.9 348.6h.01M71.7 343.2h.01M118.1 359.9h.01M80.1 355.2h.01M264.2 362.2h.01M243.4 364.3h.01M211.7 343.6h.01M137 341.3h.01M73.4 346.6h.01M76.4 314h.01M167.5 340h.01M157.7 371.9h.01M114.7 335.9h.01M124.6 368.2h.01M153.6 324.5h.01M168 372.1h.01M88.3 305.9h.01M86.8 349.1h.01M102.2 322.3h.01M116.8 342.2h.01M199.6 368h.01M167.4 344.9h.01M156.7 314.6h.01M107.3 343.6h.01M102.9 350h.01M217.8 357.6h.01M73.9 342.2h.01M235 346.1h.01M148.7 356.5h.01M82 341.3h.01M103.5 296.6h.01M199.6 350.8h.01M87.9 368.5h.01M89.9 358.7h.01M155.3 368.7h.01M239.2 358.6h.01M224.8 364.7h.01M89.9 342.4h.01M78.1 354.8h.01M151.9 332.1h.01M234.6 361.5h.01M112.7 363.9h.01M102.6 367.7h.01M256.2 332.2h.01M82.1 349.5h.01M172.4 316.1h.01M264 358.2h.01M180.6 349.8h.01M190.7 361.1h.01M217 347.1h.01M152.8 330.1h.01M235.2 350.3h.01M131.8 348.4h.01M62.8 337.5h.01M144.3 356.7h.01M100.7 358.1h.01M194.1 333.7h.01M190.8 366.9h.01M167.6 373.4h.01M167.2 360.4h.01M144.1 327.3h.01M82.6 356.2h.01M189.2 348.3h.01M90.8 339.8h.01M224.3 338.6h.01M230.5 345.3h.01M266.5 362.7h.01M175.2 347.5h.01M70.3 337h.01M94.9 320.3h.01M242.8 361.5h.01M66.6 363.7h.01M236.5 339.7h.01M66.2 346.3h.01M116.9 341.2h.01M124.4 345.8h.01M138.4 350.3h.01M223.7 341.5h.01M111.9 332.6h.01M204.7 351.4h.01M102 356.5h.01M149.9 358.1h.01M177.9 355.9h.01M117 365.2h.01M66 333.3h.01M184.2 310.2h.01M169.9 340.5h.01M142.9 349.7h.01M191.5 356h.01M64.5 348.6h.01M253.7 360.9h.01M204.2 361.5h.01M83.3 355.2h.01M98.6 374.6h.01M106.7 358h.01M202.3 356.9h.01M157.9 357.4h.01M130.4 369.2h.01M221.1 373.4h.01M165.3 323.5h.01M174.5 353.1h.01M125.5 360.7h.01M209.4 363.4h.01M133.6 341.8h.01M66.3 330.7h.01M84.2 362.3h.01M247.2 353.3h.01M203.4 352h.01M88 356.2h.01M123.9 311.9h.01M233.8 362.7h.01M130.7 333.9h.01M218.8 330.2h.01M111.4 342.6h.01M164.7 344.4h.01M260.1 355.2h.01M142.4 366.6h.01M228.7 360.7h.01M141.3 338.9h.01M214.4 370.5h.01M243.5 361.2h.01M68.1 342h.01M70.9 312h.01M175 369.7h.01M104.6 339.7h.01M135.2 350.7h.01M209.5 342.4h.01M67.3 337.8h.01M274.2 370.7h.01M124.4 319.9h.01M155.3 341.4h.01M232.1 355.4h.01M236.1 373h.01M65.4 343.6h.01M237.3 371h.01M204.9 346.6h.01M137.5 338.2h.01M93.1 369.2h.01M138.2 354h.01M204.7 355.6h.01M201 341.8h.01M71 358.4h.01M67.2 354h.01M165.2 369.3h.01M124.9 373.9h.01M95.5 309.6h.01M94.2 330.6h.01M120.2 358.1h.01M82.3 306.3h.01M204 347.5h.01M143.6 363.5h.01M237.7 361.2h.01M75.2 349.7h.01M93.1 363.2h.01M88.7 354h.01M105 335.6h.01M77.9 363.1h.01M101.9 327.9h.01M117.3 344.7h.01M269.3 358.9h.01M167 343.3h.01M230.8 358.2h.01M173.6 372.5h.01M130.9 344.8h.01M234 350.3h.01M262.8 349.4h.01M148.6 367.8h.01M167.4 355h.01M195.7 347.1h.01M211.2 371.5h.01M139.8 333.8h.01M238.2 350.8h.01M76 367.4h.01M186.3 353.2h.01M246.7 338.6h.01M141.6 334.7h.01M148.2 304.7h.01M98.5 333.4h.01M208.4 337h.01M247.3 361.8h.01M176.7 354.6h.01M176 347.3h.01M208.1 367.8h.01M144 360.1h.01M81.5 365.9h.01M276.3 366h.01M90.1 342.4h.01M200.4 331.6h.01M71.3 366.3h.01M117.7 350.5h.01M139.1 343.1h.01M203 367.8h.01M99 350.2h.01M208.5 347.1h.01M90.8 324.1h.01M179.1 363.8h.01M154.9 340.2h.01M140.8 353.4h.01M207.9 322.8h.01M210.1 362.6h.01M101.9 361.2h.01M182 357.2h.01M70 350.4h.01M237.9 345.9h.01M194.3 344h.01M164.7 348.4h.01M136.7 351.3h.01M88.4 339.5h.01M254.3 359.2h.01M232.6 355.1h.01M258.4 356.3h.01M167.2 345h.01M247.9 357.6h.01M181.7 329.3h.01M255.6 357.2h.01M183.7 354h.01M244.6 352.4h.01M248.7 355.7h.01M72.1 332.3h.01M222 370.1h.01M215.7 337h.01M124.2 346.2h.01M188.9 353.1h.01M255.9 372.3h.01M70.6 333.6h.01M177.4 338.6h.01M151.2 350.9h.01M66.4 347.2h.01M118.7 343.5h.01M247 353.3h.01M122 366.7h.01M251.7 369h.01M185.2 335.1h.01M73.8 364.4h.01M186.8 363.3h.01M202.4 354h.01M75.6 345h.01M105 347.7h.01M90.6 369.5h.01M233.5 333.9h.01M124.4 358.6h.01M231.5 352.9h.01M246.4 367h.01M98.7 354.8h.01M204.2 315.2h.01M156.7 332h.01M163.8 367.9h.01M200.9 356h.01M71 358.4h.01M215.9 361.5h.01M97.3 352.7h.01M159 372.1h.01M183.4 325.6h.01M115.9 351.8h.01M143.6 350.4h.01M93.1 364.7h.01M188.7 361.5h.01M142.5 356h.01M62.3 333.6h.01M226.5 367.1h.01M72.1 353.4h.01M143.1 357.9h.01M241.4 347.8h.01M207.1 361.7h.01M221.2 348.9h.01M153.6 360h.01M89.4 362.8h.01M124.9 309.8h.01M246.7 373.8h.01M252.2 368.2h.01M206.9 346h.01M234.9 348.8h.01M153.3 327.2h.01M65 374h.01M240.2 363.1h.01M143 323.1h.01M142.4 353.8h.01M132.7 313.2h.01M273.9 363.8h.01M177.8 372.7h.01M206.5 367.8h.01M71.1 305.3h.01M250.7 344.3h.01M167.5 349.3h.01M186.5 353h.01M140 358.3h.01M72.7 339h.01M66.8 357h.01M89.4 309h.01M64.2 310.4h.01M171.4 352.8h.01M104.8 359.7h.01M110.8 345.2h.01M155.7 359.4h.01M154.4 349.5h.01M79.4 336.7h.01M96.4 361.6h.01M160.6 361.5h.01M200.1 345.1h.01M70.8 352.8h.01M253 344.9h.01M160.9 323.1h.01M85.1 343.2h.01M262.7 360.1h.01M75.5 353.5h.01M217.4 348h.01M243.8 363.3h.01M121.1 350.4h.01M194.2 365.7h.01M226.5 346.4h.01M94.3 352.8h.01M164.1 362.8h.01M65.7 349.7h.01M104.2 316.2h.01M193.2 331.4h.01M141.7 341.7h.01M101.8 359.5h.01M193.8 344.1h.01M158.2 323.6h.01M231.2 365.4h.01M275.2 357.1h.01M110.3 353.3h.01M169.8 345.1h.01M221.7 363.5h.01M116.1 360.5h.01M146.1 362.3h.01M136.1 303.8h.01M116.8 347.1h.01M73.6 335.5h.01M179.1 322.8h.01M86.4 337.6h.01M82.3 346.5h.01M142.8 324h.01M85.4 367.9h.01M236.7 351.5h.01M140.2 362.9h.01M72.5 347.6h.01M144.5 348.4h.01M162.7 335.6h.01M149.6 346h.01M111.3 327h.01M172.3 359.1h.01M158.2 332.2h.01M194.4 346.9h.01M63.8 356.8h.01M135.2 363.6h.01M101.5 342.4h.01M85.5 342.5h.01M120.5 342h.01M152.1 366.9h.01M123.5 362.5h.01M250.1 353.5h.01M273.5 356.1h.01M175 348.8h.01M129 359.1h.01M219.6 347.3h.01M170 374h.01M163.8 369.9h.01M188.3 342.1h.01M117.3 339.1h.01M137.6 361.7h.01M84.3 310.9h.01M223.7 351.1h.01M145 353.5h.01M83.3 361.8h.01M103.7 368.6h.01M176.2 339.9h.01M132.7 346.8h.01M134.5 357.1h.01M91.8 372.9h.01M185.3 368.1h.01M99.3 331.2h.01M74.4 356.1h.01M249 350.3h.01M67.1 341h.01M168.6 317.9h.01M133.3 354.3h.01M182.5 358.8h.01M199.2 345.4h.01M186.1 358.1h.01M79.2 345.1h.01M83.4 352.3h.01M209.2 357.5h.01M195.9 352.6h.01M184.3 361.6h.01M254.7 365.8h.01M86.7 340.8h.01M81.5 356.7h.01M148 338.7h.01M147.2 359.8h.01M148.6 368.4h.01M141.6 349.8h.01M131.4 309.1h.01M129.7 364.2h.01M71.1 341.6h.01M173.3 366.4h.01M93.8 361.7h.01M73.9 370h.01M182.4 369.4h.01M240.7 338.3h.01M237.2 370.8h.01M72.2 365.7h.01M95.3 312.5h.01M133.4 350.1h.01M127.2 345.4h.01M247.4 358.4h.01M259.2 339.9h.01M152.5 362h.01M116.6 366.4h.01M62.2 343.9h.01M63.3 353.1h.01M111.2 366.6h.01M119.1 348.6h.01M174.9 352.4h.01M234.6 342.7h.01M204.2 357.6h.01M142.5 339.1h.01M95.1 368.4h.01M117.3 363.1h.01M195.4 353.9h.01M221.4 336h.01M260.6 330.7h.01M184.9 346.9h.01M80.9 372.2h.01M81.9 327h.01M242.6 354.6h.01M120.4 357.2h.01M90.8 347.6h.01M87.9 342.4h.01M204.9 345.8h.01M262.3 362h.01M93.3 327.7h.01M154 351.7h.01M73 338.2h.01M237.7 361.9h.01M84 338.3h.01M204.7 337.9h.01M248.7 348h.01M93.9 358.1h.01M244.4 362.2h.01M191.2 357.8h.01M231.2 365.1h.01M195.5 355.2h.01M81.2 341.7h.01M256.5 356.5h.01M207.4 324.6h.01M152.9 323.1h.01M116.2 364.6h.01M144.3 333.6h.01M105.5 335.5h.01M111.8 329.6h.01M249.3 357.4h.01M250.8 353.4h.01M241.8 353.6h.01M166.9 324.5h.01M163.7 340.5h.01M178.7 340.4h.01M99.1 322.5h.01M121.1 361.8h.01M64 356.8h.01M202.1 349.5h.01M93.9 351h.01M164.9 353.4h.01M139.8 325.1h.01M163.7 351.1h.01M109.9 348.9h.01M169.9 351.7h.01M84.6 319.9h.01M98.3 373.3h.01M102.5 369.6h.01M113.8 344.3h.01M167.7 323.6h.01M149.8 341.4h.01M254.1 368.6h.01M151.7 330h.01M65.7 367.7h.01M69.1 347.7h.01M185.1 350.6h.01M156.9 354.7h.01M74.7 341.3h.01M218 351.3h.01M244.5 356.8h.01M178.1 366h.01M103.1 328h.01M82.4 353.3h.01M104.8 351.4h.01M141.4 361h.01M198.1 367.7h.01M120.9 329.1h.01M250.8 352.4h.01M163.1 356.9h.01M138.9 370.1h.01M92.9 320.2h.01M123.6 354.6h.01M250.1 366.6h.01M220.5 328.2h.01M238.5 346.9h.01M95.2 346.7h.01M138.4 329h.01M250.8 334.9h.01M133.7 344.8h.01M231.1 322.3h.01M239.1 366.3h.01M62.6 349.3h.01M63.3 359.9h.01M134.3 314.8h.01M240.8 357.9h.01M277.2 367.6h.01M107.1 350.4h.01M252.9 358.6h.01M99.5 371.1h.01M86.2 369.3h.01M68.3 329h.01M190.9 354.9h.01M216.6 337.6h.01M198.7 365.7h.01M198.9 355.6h.01M154 337h.01M141.5 367.2h.01M137 363.7h.01M139.1 363.6h.01M166.7 367.4h.01M199.7 350h.01M100.1 360.7h.01M245.7 359.7h.01M221 349.1h.01M108.2 353.1h.01M237.3 346.8h.01M159.5 342.9h.01M174.2 356.8h.01M193.6 358.2h.01M146.9 324.8h.01M230.8 365.4h.01M174.4 345.7h.01M120.5 340.7h.01M75.3 339.6h.01M221.3 362.6h.01M234.2 353.4h.01M106.8 342.1h.01M122.6 346h.01M151.3 344.8h.01M130.9 361.9h.01M262.6 355.8h.01M197.3 351.8h.01M206.8 350.1h.01M194.4 356.4h.01M271.9 357.8h.01M239.4 332.4h.01M162.6 367.6h.01M78.5 353.2h.01M235 349.7h.01M132.1 316.6h.01M271 365.7h.01M155.8 357h.01M119.3 355h.01M168.6 347.8h.01M96.9 356.5h.01M181.5 349.8h.01M222.8 371.3h.01M121.9 341.1h.01M155 349.2h.01M151 350h.01M246.1 327.9h.01M75.9 342.7h.01M120.8 339.8h.01M154.1 356.8h.01M194.6 354.6h.01M108.5 363.5h.01M193 341.9h.01M132.1 341.7h.01M127.3 346.7h.01M120 313.6h.01M177.5 335.1h.01M239.1 354.9h.01M197.2 358h.01M196.7 325.2h.01M126.4 345.6h.01M88.7 354.1h.01M90.4 341.8h.01M92.1 341.3h.01M119.8 357h.01M99.3 345.6h.01M156.9 340.8h.01M175.6 358.3h.01M227.4 354.2h.01M70.2 339.8h.01M138.7 363.3h.01M121.1 363.6h.01M125.1 357h.01M115.3 330.7h.01M162.2 348.8h.01M175.1 321.6h.01M237.6 356.2h.01M214.1 349.8h.01M179.6 341.2h.01M184.5 356.3h.01M80.9 349.2h.01M219.1 352.5h.01M160.6 339.5h.01M185.6 361.8h.01M236 337h.01M120.8 339.8h.01M102.9 349h.01M92 349h.01M181.5 368.9h.01M99.9 366.8h.01M163 343.1h.01M129.7 329.5h.01M66.4 334.2h.01M113.4 315.6h.01M123.2 333.9h.01M163.2 315.6h.01M67.7 362.8h.01M89.5 334h.01M78.8 363h.01M80.4 339h.01M205.8 358.8h.01M222.4 340.6h.01M186.9 374.5h.01M160.4 327.6h.01M157.1 350.4h.01M234.8 368.8h.01M254.9 355.6h.01M83 303.2h.01M146 353.4h.01M212.3 338.1h.01M267.1 363.3h.01M181.2 348.3h.01M204.6 367.4h.01M107.6 331.4h.01M131.2 345h.01M187.9 365.3h.01M107.9 342.1h.01M106.1 369.1h.01M161.6 369.4h.01M85.4 327.3h.01M243.3 362.4h.01M238.8 366.6h.01M127.4 330.7h.01M129.2 333.7h.01M207.1 345.3h.01M70.9 341.8h.01M114.1 335.1h.01M267.9 339.5h.01M268.9 349.7h.01M238.2 369.3h.01M131.7 342.9h.01M177.2 361.7h.01M172.2 349.9h.01M144.3 363.5h.01M97.1 363.5h.01M254.7 344.3h.01M214.4 359.7h.01M152.5 349.9h.01M268.6 340.3h.01M145.2 333.3h.01M224.3 349.7h.01M84.6 355.4h.01M196 369.8h.01M206.3 330.7h.01M225.7 353.1h.01M61.9 365.3h.01M71.3 342.1h.01M239.9 355.2h.01M167.2 368.5h.01M115.4 339.6h.01M180.8 368.2h.01M190.7 333.5h.01M154.9 365.8h.01M180.7 364.7h.01M95.9 356.9h.01M67.1 363.3h.01M151.1 351.2h.01M142.4 349.9h.01M238.1 336.3h.01M100.2 361h.01M66.4 350.3h.01M63.8 343.5h.01M115.4 367.1h.01M226.8 364.7h.01M130.7 368.7h.01M103.2 362.4h.01M211 371.1h.01M74.8 358.3h.01M275.2 364.6h.01M241.2 352.2h.01M234.6 341.8h.01M147.7 331.8h.01M109.7 326.3h.01M215.2 347.5h.01M134 350.5h.01M188.5 373.1h.01M92.4 350.9h.01M119.4 341.1h.01M207.3 371.2h.01M161.2 332.9h.01M200.8 339.1h.01M192.7 363.2h.01M200.4 340.9h.01M125.5 352.8h.01M190.8 341.5h.01M244.6 355.5h.01M230.9 348.2h.01M109.3 345h.01M226.1 364.2h.01M147 328.9h.01M253.1 355.2h.01M124.9 362.9h.01M188.7 360.8h.01M127.5 367.5h.01M179.6 314.7h.01M155 314.5h.01M113 352h.01M198.9 363.6h.01M127.4 351.2h.01M203.1 339.1h.01M265.8 342.6h.01M257.2 342.8h.01M205.8 341.7h.01M193.6 351.9h.01M210.9 346h.01M236.7 358.3h.01M149.5 357.6h.01M76.7 348.1h.01M221.4 342.6h.01M215.6 360.3h.01M210.6 343.6h.01M202 333h.01M120.5 368.7h.01M122 341.1h.01M93.9 347.4h.01M184.1 326.2h.01M176.6 367h.01M140.1 310.1h.01M62.7 324.6h.01M198.3 370.6h.01M219.4 362h.01M184.6 356.7h.01M99.4 365h.01M206.9 339h.01M154.3 348.5h.01M160.8 334.9h.01M190.3 329h.01M225.4 363.8h.01M222.6 346.2h.01M124.8 354.9h.01M90.3 355.5h.01M103 324.6h.01M216.4 353h.01M77.5 317.8h.01M174.9 345.2h.01M267.6 343.3h.01M88.1 362h.01M154.9 343.2h.01M172.4 343.2h.01M180.4 366.6h.01M202.6 352.3h.01M172.7 352.6h.01M235.7 349.2h.01M192.5 340.5h.01M156.4 360.8h.01M132.8 359.2h.01M83.7 337.4h.01M210.9 362.2h.01M233 361.1h.01M95.7 370.5h.01M213.2 348.4h.01M82.7 346h.01M117.9 313.2h.01M64.9 335.1h.01M131.1 336.1h.01M217.9 365.2h.01M177.3 372.7h.01M94.9 354.1h.01M209.2 361.3h.01M110.6 362.8h.01M241.2 347.9h.01M119.7 361.2h.01M89.3 336.5h.01M107.1 371.8h.01M240.5 355.6h.01M68.9 307.2h.01M208.3 352h.01M72.9 337.7h.01M225.7 362.7h.01M123.7 355.6h.01M81.3 336.6h.01M155.9 335.9h.01M97.3 353.4h.01M140.5 339.4h.01M75.8 354.7h.01M166.8 352.7h.01M124.5 346.1h.01M211.7 328.3h.01M79.3 339h.01M232.1 351.5h.01M64.1 362.5h.01M212.7 355.1h.01M88.8 362.2h.01M85.6 358.1h.01M144.4 360.8h.01M86 360.7h.01M245.6 370.3h.01M222.4 350.1h.01M207.2 345.8h.01M181 338.9h.01M205 310.6h.01M92.7 320h.01M198.4 365.1h.01M82.3 353.1h.01M85.4 337.9h.01M139.6 343.3h.01M210.2 334.6h.01M88.8 296.8h.01M146.3 341.2h.01M259.8 353.9h.01M133.8 342.3h.01M157.8 309.4h.01M159.9 357.3h.01M72.4 330.7h.01M108.7 374.1h.01M101.1 343.8h.01M165.3 345.5h.01M99.7 353.2h.01M183.7 325.9h.01M227.9 354.4h.01M86 334.2h.01M139.6 367.1h.01M77 338.5h.01M221.2 344.1h.01M191.3 334.8h.01M107.6 334.9h.01M211.5 335.5h.01M184.9 353.3h.01M89.2 324.7h.01M116.5 333.5h.01M189.4 342h.01M87.2 361.4h.01M125 330.6h.01M134.8 353.3h.01M264.2 352.4h.01M121.2 342.8h.01M135.9 374.5h.01M77.5 345.8h.01M193.7 368.7h.01M213.1 346.2h.01M156.3 340.9h.01M70.7 327h.01M219.4 363.5h.01M126.7 366.2h.01M65.7 354.8h.01M118.9 340.3h.01M125.9 352.9h.01M156.2 345h.01M119.1 351.9h.01M96.8 347.2h.01M228.3 348.3h.01M129.9 356.4h.01M151.9 371h.01M131.5 360.7h.01M226.7 325.3h.01M117.3 368.1h.01M218 371.4h.01M194.2 355.7h.01M249.5 356.9h.01M212.7 348.6h.01M107.8 339.7h.01M111 361.5h.01M181.7 337.2h.01M101 349.6h.01M173.8 341.8h.01M158.6 344.6h.01M124.5 357.1h.01M125 365.7h.01M109.3 341.1h.01M157.7 322.1h.01M133.5 366.5h.01M116.3 349.7h.01M149 340h.01M90 353.6h.01M219.4 337.2h.01M91.9 328.3h.01M128.3 367.9h.01M162 342.5h.01M165.4 325.5h.01M75.7 366.1h.01M137.5 357.8h.01M182.3 365.2h.01M91.4 363.5h.01M148.1 365.9h.01M134 339.1h.01M68.1 371.9h.01M258.9 351.5h.01M164.3 343.1h.01M178.6 360.6h.01M232.8 342.7h.01M252.5 360.3h.01M221.7 373.2h.01M175.5 370.4h.01M197.1 351.1h.01M147.9 361.1h.01M90.3 331.7h.01M94 339.4h.01M63.6 366.9h.01M92.8 350.5h.01M127.5 361.8h.01M190.8 373.4h.01M74.8 333.6h.01M173.3 337.4h.01M223.9 358.7h.01M82.8 332.6h.01M106.2 347.6h.01M62.8 350.4h.01M168.3 363.4h.01M228.4 366.1h.01M207.8 355.1h.01M166.6 346.8h.01M92.2 354h.01M180.3 351.8h.01M125.8 344.1h.01M174.2 373.3h.01M186.6 339.6h.01M61.9 369h.01M123.1 338.4h.01M180.1 360.7h.01M244.4 368.8h.01M253.4 370.8h.01M95.1 368.4h.01M218.8 359.6h.01M78.5 373.9h.01M268.5 355.3h.01M148.2 339.6h.01M183.5 351.9h.01M203.5 360.9h.01M231.9 364.4h.01M191.2 361.3h.01M224 367.7h.01M265.9 360.5h.01M131.7 336.6h.01M182.4 339.8h.01M71.3 339.1h.01M64.2 323.8h.01M217.6 354.8h.01M212.8 374.8h.01M233 358.2h.01M260.5 350.4h.01M245.3 356.8h.01M152.3 368.7h.01M145 339.6h.01M222.5 349.6h.01M180 342h.01M136.1 371.7h.01M122.7 361.9h.01M121.5 341.2h.01M122 373.8h.01M173.7 361.9h.01M250.2 352.8h.01M102.9 364.2h.01M210.3 347.3h.01M222 370.7h.01M172.3 357h.01M103.1 297.1h.01M151.8 343.4h.01M61.6 338.9h.01M95 301h.01M188.1 358.3h.01M209.1 340.8h.01M110 353.2h.01M235.9 369.7h.01M183.7 374.2h.01M136.8 368h.01M229.4 364.6h.01M139.7 355.8h.01M86.7 367.1h.01M105.5 323.8h.01M91.5 360.2h.01M265 364.3h.01M131.6 370.4h.01M103.7 356.6h.01M156 360.9h.01M112.7 341.7h.01M230.5 369.5h.01M70.8 329.9h.01M155.4 346.7h.01M148.4 333.4h.01M142.6 314.3h.01M252.2 356.8h.01M225 353.9h.01M153.6 367.3h.01M149.1 344.6h.01M206.1 331.4h.01M141.5 311.9h.01M147.5 334.5h.01M232 364.7h.01M150.4 355.8h.01M227.7 364.1h.01M78.1 357.6h.01M133.1 362.5h.01M114.5 361.5h.01M67.8 334.3h.01M137.6 366.5h.01M133.9 344.8h.01M100 339.9h.01M63.9 350.8h.01M76.8 369.9h.01M76.6 337.8h.01M232.8 348.7h.01M162 355.3h.01M140.1 351.2h.01M142.2 347.7h.01M211.1 369.7h.01M159.7 351.3h.01M246 360.1h.01M79.6 333.9h.01M219.4 359.3h.01M124.3 370.4h.01M207.6 351.7h.01M213 366.3h.01M108.4 362.3h.01M231.9 364.8h.01M69.5 370.4h.01M125.6 342.9h.01M112.1 362.4h.01M220.7 363.4h.01M113.7 366.1h.01M122.1 365.6h.01M127.4 350.1h.01M116.4 332.2h.01M73.2 371h.01M82.2 368.2h.01M140.2 367.9h.01M102.7 342.9h.01M194.4 361h.01M157.3 342.5h.01M217.7 348.8h.01M72.5 359.5h.01M151.7 340h.01M151 329.6h.01M129.4 361.7h.01M106.9 330.5h.01M183.3 347h.01M236.2 338.5h.01M156.4 339.8h.01M118.6 318.5h.01M82.3 335.9h.01M174.8 346.6h.01M197.1 355h.01M198.7 356.5h.01M243.5 355.4h.01M95 374.8h.01M155 347.8h.01M105.9 344h.01M128 368.9h.01M218.7 348.1h.01M237.9 340h.01M95.8 354.4h.01M65.9 359.7h.01M159.8 366.9h.01M225.8 353.1h.01M171.7 369.8h.01M127 343.3h.01M92.7 361.5h.01M145 355.6h.01M144.1 356.3h.01M97.5 338.4h.01M170 370.2h.01M234 355.4h.01M247.6 347.7h.01M199.9 369.1h.01M104.2 346.4h.01M182.4 369.3h.01M139.6 363h.01M106.6 372.5h.01M91.1 356.6h.01M211 369.7h.01M145.6 334.3h.01M221.8 363h.01M187.8 363.3h.01M153.1 331h.01M80.6 304.7h.01M207.2 344.6h.01M161.5 342.5h.01M166.7 345h.01M116 362.2h.01M132 347.1h.01M256.3 349.9h.01M113.6 330.2h.01M76.3 335.8h.01M90.8 322.5h.01M262.7 349.3h.01M162.4 327.7h.01" fill="none" stroke="#1a476f" stroke-width="4.7" stroke-linecap="round"/>
<path d="M61.5 344L278.2 353.2" stroke="#90353b" stroke-width="1.35" fill="none"/>
<path d="M54 249.6V382.9H288" fill="none" stroke="#0c0c0c" stroke-width="1.45"/>
<path d="M61.5 382.9v4.2M105.4 382.9v4.2M149.3 382.9v4.2M193.2 382.9v4.2M237.1 382.9v4.2M281 382.9v4.2M54 375h-4.2M54 351.4h-4.2M54 327.7h-4.2M54 304.1h-4.2M54 280.4h-4.2M54 256.8h-4.2" fill="none" stroke="#0c0c0c" stroke-width="1.1"/>
<g font-size="10.2" fill="#080808" stroke="#080808" stroke-width="0.12" text-anchor="middle">
<text x="61.5" y="400.6">0</text>
<text x="105.4" y="400.6">.2</text>
<text x="149.3" y="400.6">.4</text>
<text x="193.2" y="400.6">.6</text>
<text x="237.1" y="400.6">.8</text>
<text x="281" y="400.6">1</text>
<text transform="translate(44 375) rotate(-90)">0</text>
<text transform="translate(44 351.4) rotate(-90)">.2</text>
<text transform="translate(44 327.7) rotate(-90)">.4</text>
<text transform="translate(44 304.1) rotate(-90)">.6</text>
<text transform="translate(44 280.4) rotate(-90)">.8</text>
<text transform="translate(44 256.8) rotate(-90)">1</text>
</g>
<text x="137.3" y="410.3" font-size="10.7" fill="#080808" stroke="#080808" stroke-width="0.15" style="font-family:'Liberation Sans','Noto Sans CJK SC',sans-serif">国有经济比重</text>
<g font-size="15.5" fill="#26355c" text-anchor="middle"><text x="160.1" y="243.5">(</text><text x="169.2" y="244">c</text><text x="178.4" y="243.5">)</text></g>
</g>
<g id="panel-d">
<path d="M352.5 280h.01M408.1 275h.01M400.4 292h.01M407.1 303.7h.01M402.1 312.6h.01M428 319.3h.01M431 329.3h.01M355.9 301.7h.01M369.7 304.6h.01M377.9 303.7h.01M358.4 305.7h.01M361.7 305.7h.01M356.7 307.9h.01M353.3 310.4h.01M352.5 312.9h.01M352.5 315.4h.01M354.2 317.9h.01M358.4 316.3h.01M361.7 318.8h.01M364.2 318.4h.01M360 321.3h.01M361.7 324.6h.01M365 327.9h.01M370 328.8h.01M371.7 330.4h.01M375.9 316.8h.01M380.9 316.3h.01M384.2 312.1h.01M386.7 311.7h.01M390.9 310.7h.01M385.1 313.7h.01M385.9 327.1h.01M383.7 330.4h.01M395.9 327.9h.01M404.3 326.3h.01M410.1 324.1h.01M412.6 328.8h.01M354.2 330.4h.01M351.7 332h.01M360.9 331.3h.01M353.7 363.9h.01M365.9 363.4h.01M383.7 361.7h.01M388.7 359.7h.01M441.5 365.9h.01M427.6 336.7h.01M432.6 340.9h.01M440.2 342.5h.01M437.7 345h.01M410.9 335.9h.01M415.9 338.9h.01M399.3 335.9h.01M402.6 340.9h.01M431.8 355.1h.01M427.6 350.9h.01M431.8 350.1h.01M470.9 300.8h.01M446.7 334.2h.01M460.1 332.1h.01M455.9 339.2h.01M455.4 340.9h.01M464.2 340.9h.01M480.1 342.6h.01M485.6 347.6h.01M491.3 349.6h.01M512.6 340.1h.01M504.8 353.1h.01M447.5 348.4h.01M450.9 351.4h.01M463.7 349.2h.01M469.2 350.1h.01M475.1 350.1h.01M484.3 354.3h.01M480.1 354.3h.01M475.1 355.9h.01M478.4 358.8h.01M427.5 350h.01M427.5 353.4h.01M427.5 357.6h.01M432 354.8h.01M457.6 360.1h.01M464.2 360.4h.01M466.7 362.6h.01M468.1 365.1h.01M473.7 363.8h.01M448.7 366.3h.01M460.1 368.4h.01M489.6 363.9h.01M492.3 363.9h.01M502.6 362.1h.01M507.6 360.9h.01M510.1 362.6h.01M512.6 364.3h.01M503.8 368.8h.01M512.6 368.8h.01M521.8 368.8h.01M536.4 368.4h.01M557.6 360.9h.01M561.4 357.6h.01M561.4 360.9h.01M555.1 365.9h.01M557.6 366.8h.01M555.1 368.4h.01M563.4 366.8h.01M569.3 363.1h.01M560.1 363.4h.01M558.5 363.5h.01M360.4 304.8h.01M363 305.3h.01M357.3 306.8h.01M354.8 308.4h.01M352.2 309.9h.01M351.2 312.5h.01M351.7 315.1h.01M352.7 317.6h.01M354.3 319.7h.01M356.3 308.4h.01M353.7 311.5h.01M357.9 309.4h.01M360.4 322.8h.01M362.5 324.8h.01M387.2 312h.01M359 306.2h.01M353 313.8h.01M355.2 318.8h.01M360.7 338.8h.01M361.6 341.1h.01M361.7 342.8h.01M364.2 346.4h.01M357.2 342.1h.01M352.7 350h.01M351.7 334.1h.01M371.6 356.9h.01M363.8 342.9h.01M354.1 355.3h.01M352.1 346.4h.01M354.8 345.6h.01M360.6 347.5h.01M360.1 350.8h.01M364.4 337.4h.01M361.4 340.9h.01M356.7 338h.01M365.8 345.1h.01M357.5 346.3h.01M352.3 352.1h.01M367 332.9h.01M359 354.6h.01M371.1 345.7h.01M355.2 345.3h.01M359.2 349.7h.01M352.3 336h.01M356.5 335.4h.01M352.6 335.3h.01M353.3 345.6h.01M352.1 349.2h.01M367.7 350h.01M360.3 354.7h.01M354.8 345h.01M364.4 341.3h.01M353.3 340.6h.01M356.5 348.1h.01M371.4 347.7h.01M369.6 339.1h.01M355.3 333.1h.01M364.4 355.2h.01M352.9 351h.01M356.3 345.1h.01M367.2 342.3h.01M352.4 351.4h.01M352.7 340.3h.01M363.5 342.5h.01M361.1 351.4h.01M363 348.9h.01M354.1 341.7h.01M370.1 348h.01M354.8 340h.01M366.5 350.4h.01M370.9 343.6h.01M369.5 338.8h.01M353 340.4h.01M351.6 351.2h.01M365.7 344.1h.01M356.2 350.3h.01M357 335.9h.01M354.5 344.9h.01M355.6 342.5h.01M362.7 352.1h.01M356.7 336.7h.01M370.2 345.9h.01M356.5 346.9h.01M360.2 350.1h.01M358.6 347.3h.01M362.9 350.6h.01M369.7 351.1h.01M371.6 338.7h.01M363.2 335.3h.01M353.8 347h.01M370.1 345.8h.01M365.7 347.1h.01M364.3 345.1h.01M361 344.6h.01M372 338.5h.01M352.4 333h.01M369.9 341.8h.01M366.4 341.4h.01M370.2 331.9h.01M358.3 338.7h.01M359.6 349.5h.01M364 337.7h.01M363.7 352.6h.01M366.2 335.5h.01M363.1 353.9h.01M360.1 347.3h.01M366.7 342.7h.01M351.4 338.1h.01M355.7 340.1h.01M365.6 334.5h.01M370.3 345.7h.01M356.2 352.3h.01M365.2 346h.01M355.1 353.9h.01M360.2 351h.01M364.9 341h.01M355 332.4h.01M370.2 351.6h.01M369.5 337.6h.01M357.5 352.5h.01M368.8 345.8h.01M365.9 351.6h.01M354.4 343.5h.01M360.4 344.6h.01M359.6 351h.01M364.1 338.5h.01M368.6 345.8h.01M371.6 342.5h.01M351.5 346.4h.01M369.3 357.6h.01M362.9 348.7h.01M357.4 345.9h.01M353.7 344h.01M355.8 347.8h.01M353.8 356.3h.01M360.3 348.8h.01M364.2 337.3h.01M371.1 333.5h.01M365.3 348.3h.01M354.6 354.1h.01M351 333h.01M354.6 347.7h.01M356.6 338.5h.01M361.8 355.7h.01M363.8 345.8h.01M367.6 337.5h.01M366.1 355.2h.01M353.6 334.8h.01M370.1 348.7h.01M358.8 330.6h.01M367.7 338.6h.01M370.8 334.2h.01M355.1 348.1h.01M366.1 350.3h.01M366 335.1h.01M371.5 332.3h.01M362.2 347.3h.01M370.1 338.7h.01M368.9 343.6h.01M360.1 348.2h.01M362.5 346.6h.01M351.4 336.3h.01M368 358.7h.01M354.5 351.1h.01M357.9 346.5h.01M354 341.2h.01M361.8 343h.01M352.6 346.4h.01M355.5 339h.01M366.3 344.4h.01M362.7 343.3h.01M357.4 334.2h.01M369.9 356h.01M355.2 357.9h.01M362.9 348.5h.01M361.5 354.9h.01M361.7 349.2h.01M359.3 348.7h.01M361.2 335.7h.01M365.4 354.6h.01M359.6 349.5h.01M371.1 351.1h.01M360.8 342.6h.01M353.5 332h.01M369.9 351.5h.01M360.9 343.4h.01M363.9 350.3h.01M370.4 355.1h.01M351.3 355.6h.01M354.9 347.2h.01M357.6 357.6h.01M358.3 342.8h.01M366.3 342.9h.01M353.4 339.4h.01M355 345.1h.01M362 338.3h.01M359.6 348.5h.01M362 348.4h.01M364.2 350.1h.01M363.8 342.6h.01M369 346.9h.01M368 358.6h.01M369.9 342.7h.01M370.4 351.9h.01M353.6 345.3h.01M355.9 344.6h.01M352.9 339.4h.01M397 337.8h.01M375.8 352.7h.01M384.1 347h.01M378 346.4h.01M375.5 338.9h.01M387.2 347.9h.01M392.6 340.2h.01M377.7 350.2h.01M373.1 348.8h.01M388.6 339.5h.01M376.4 346.8h.01M377.5 350.9h.01M401.7 358.9h.01M399.8 349.3h.01M400.5 348.7h.01M385.9 348h.01M386 342h.01M387.5 339.9h.01M372.4 351.1h.01M393 349.7h.01M385.6 344.2h.01M394.2 344.1h.01M377 349.8h.01M396.1 348.8h.01M393.1 353.1h.01M384.1 340.8h.01M396.1 347h.01M379.7 356.2h.01M395.3 342.1h.01M396.4 336.5h.01M398.4 354.9h.01M392.8 348.6h.01M384.2 337h.01M393.7 352.6h.01M386.1 349.9h.01M372.3 342h.01M390.7 354.5h.01M379 356.1h.01M382.1 344.4h.01M391.8 340.6h.01M383.7 344.3h.01M402 341.5h.01M394.9 340h.01M401.4 356h.01M394.2 348.7h.01M379.7 345.9h.01M377.9 348.7h.01M383.3 351.3h.01M399.2 350.2h.01M389 346.7h.01M401.9 340.2h.01M374.3 338.9h.01M389.9 347.6h.01M399.9 345.6h.01M376.8 343.8h.01M386.9 348.2h.01M384.6 352.9h.01M387.8 342.7h.01M380.6 344.1h.01M391.7 342.8h.01M393.5 345.6h.01M380.9 352.1h.01M373.3 347.9h.01M376.7 347.7h.01M398.9 341.3h.01M400.3 353.3h.01M374.2 352.9h.01M386.3 343.8h.01M401.2 347.8h.01M400.1 355h.01M396.5 350.9h.01M390.1 354h.01M385.7 353.2h.01M378.1 354.7h.01M375.7 349.9h.01M385.3 344.1h.01M379.9 341.6h.01M389.5 338.1h.01M387.9 352.7h.01M401.9 357.2h.01M379.2 344.5h.01M375.4 356h.01M390.7 340.7h.01M382.8 346.2h.01M388.9 356.8h.01M389.8 340.5h.01M377.7 339.8h.01M398.4 345.7h.01M373.2 352.1h.01M384.8 349.3h.01M390.7 353.7h.01M374.2 352.1h.01M374.6 344h.01M390.9 340.5h.01M383.2 343.3h.01M382.3 348.1h.01M394.3 348.8h.01M375.6 345.4h.01M396.3 339.9h.01M378.4 340.1h.01M384.7 346.9h.01M383.1 358.8h.01M391.6 353h.01M388.5 347.1h.01M394.4 353.3h.01M383.1 344.4h.01M374.9 349.3h.01M374.5 345.7h.01M388.9 338.1h.01M381 348.4h.01M395.3 351.3h.01M391.9 349.5h.01M374.5 344.2h.01M392.8 356.9h.01M380.5 351.1h.01M393.8 352.1h.01M383 354.7h.01M389.1 354.1h.01M385.1 342.4h.01M396.1 345.7h.01M384 352.6h.01M400 351.2h.01M382.9 344.6h.01M383 343.4h.01M383.6 352.2h.01M377.8 337.3h.01M388.2 343.2h.01M397.1 343.9h.01M394.8 346h.01M398.4 347.2h.01M387.5 348.8h.01M391.5 340.9h.01M396.1 354.7h.01M395.6 350.6h.01M374.5 356.3h.01M399 352.5h.01M374.5 345.2h.01M394.4 344.9h.01M391.5 347.6h.01M395 351.9h.01M387.6 348.1h.01M382.1 341.3h.01M401 344.1h.01M388.1 341.1h.01M393.6 343.9h.01M396.8 341.4h.01M396.2 337h.01M397 359.4h.01M391.2 337.5h.01M387.7 344.7h.01M384.6 336.7h.01M384.6 353.7h.01M401.7 355.6h.01M383.3 349.6h.01M384.7 351.1h.01M380.8 349.6h.01M381.3 347.1h.01M375.4 341.1h.01M377.4 338.9h.01M403.8 348.9h.01M428.4 354.1h.01M403.1 354.6h.01M408.3 354.3h.01M408.8 352.1h.01M408.5 348.8h.01M407.4 352.6h.01M424 354.9h.01M411 347.4h.01M415.9 351.2h.01M409.6 358.4h.01M411.9 348.4h.01M417.9 356.5h.01M408.4 352h.01M403.4 358.4h.01M413.2 351.1h.01M417.3 350.4h.01M430.7 352.7h.01M421.1 353h.01M415.7 353.5h.01M412.8 354.5h.01M419.6 348.2h.01M406.6 354.6h.01M409.5 355.4h.01M427.2 348.5h.01M430.8 352.5h.01M409.7 351.2h.01M424.3 352.6h.01M402 355.7h.01M425.8 347.4h.01M404.4 352.4h.01M404.8 358h.01M419 354.6h.01M426.9 351.1h.01M414.1 358.3h.01M428.6 358h.01M408 356.2h.01M417.8 351.2h.01M426.1 352.7h.01M411 352.5h.01M410.9 354.2h.01M415.5 352.3h.01M421.9 350.1h.01M405.1 350.2h.01" fill="none" stroke="#1a476f" stroke-width="4.7" stroke-linecap="round"/>
<path d="M351.5 341.5L570 364.9" stroke="#90353b" stroke-width="1.35" fill="none"/>
<path d="M344.1 249.6V382.9H577.5" fill="none" stroke="#0c0c0c" stroke-width="1.45"/>
<path d="M351.5 382.9v4.2M395.4 382.9v4.2M439.2 382.9v4.2M483.1 382.9v4.2M526.9 382.9v4.2M570.8 382.9v4.2M344.1 375h-4.2M344.1 345.5h-4.2M344.1 315.9h-4.2M344.1 286.4h-4.2M344.1 256.9h-4.2" fill="none" stroke="#0c0c0c" stroke-width="1.1"/>
<g font-size="10.2" fill="#080808" stroke="#080808" stroke-width="0.12" text-anchor="middle">
<text x="351.5" y="400.6">0</text>
<text x="395.4" y="400.6">.2</text>
<text x="439.2" y="400.6">.4</text>
<text x="483.1" y="400.6">.6</text>
<text x="526.9" y="400.6">.8</text>
<text x="570.8" y="400.6">1</text>
<text transform="translate(334.1 375) rotate(-90)">0</text>
<text transform="translate(334.1 345.5) rotate(-90)">.2</text>
<text transform="translate(334.1 315.9) rotate(-90)">.4</text>
<text transform="translate(334.1 286.4) rotate(-90)">.6</text>
<text transform="translate(334.1 256.9) rotate(-90)">.8</text>
</g>
<text x="427.2" y="410.3" font-size="10.7" fill="#080808" stroke="#080808" stroke-width="0.15" style="font-family:'Liberation Sans','Noto Sans CJK SC',sans-serif">国有经济比重</text>
<g font-size="15.5" fill="#26355c" text-anchor="middle"><text x="449.9" y="243.5">(</text><text x="459.1" y="244">d</text><text x="468.3" y="243.5">)</text></g>
</g>
<g transform="translate(30.8 170.3) rotate(-90)" fill="#080808" stroke="#080808" stroke-width="0.15" style="font-family:'Liberation Sans','Noto Serif CJK SC',serif">
<title>地级市经济增长率（%）</title>
<text x="0" y="0" font-size="10.5" letter-spacing="2.35">地级市经济增长率</text>
<text x="105" y="0" font-size="10.5">（</text>
<text x="118.2" y="-0.5" font-size="10" letter-spacing="0">%</text>
<text x="127.3" y="0" font-size="10.5">）</text>
</g>
<g transform="translate(320.9 158.5) rotate(-90)" fill="#080808" stroke="#080808" stroke-width="0.15" style="font-family:'Liberation Sans','Noto Serif CJK SC',serif">
<title>地级市企业TFP均值</title>
<text x="0" y="0" font-size="10.5" letter-spacing="2.35">地级市企业</text>
<text x="64.5" y="-0.5" font-size="10" letter-spacing="1">TFP</text>
<text x="87.3" y="0" font-size="10.5" letter-spacing="2.35">均值</text>
</g>
<g transform="translate(30.8 361) rotate(-90)" fill="#080808" stroke="#080808" stroke-width="0.15" style="font-family:'Liberation Sans','Noto Serif CJK SC',serif">
<title>地级市企业进入率</title>
<text x="0" y="0" font-size="10.5" letter-spacing="2.4">地级市企业进入率</text>
</g>
<g transform="translate(320.9 371.8) rotate(-90)" fill="#080808" stroke="#080808" stroke-width="0.15" style="font-family:'Liberation Sans','Noto Serif CJK SC',serif">
<title>二位数行业企业进入率</title>
<text x="0" y="0" font-size="10.5" letter-spacing="2.35">二位数行业企业进入率</text>
</g>
</svg></body></html>
